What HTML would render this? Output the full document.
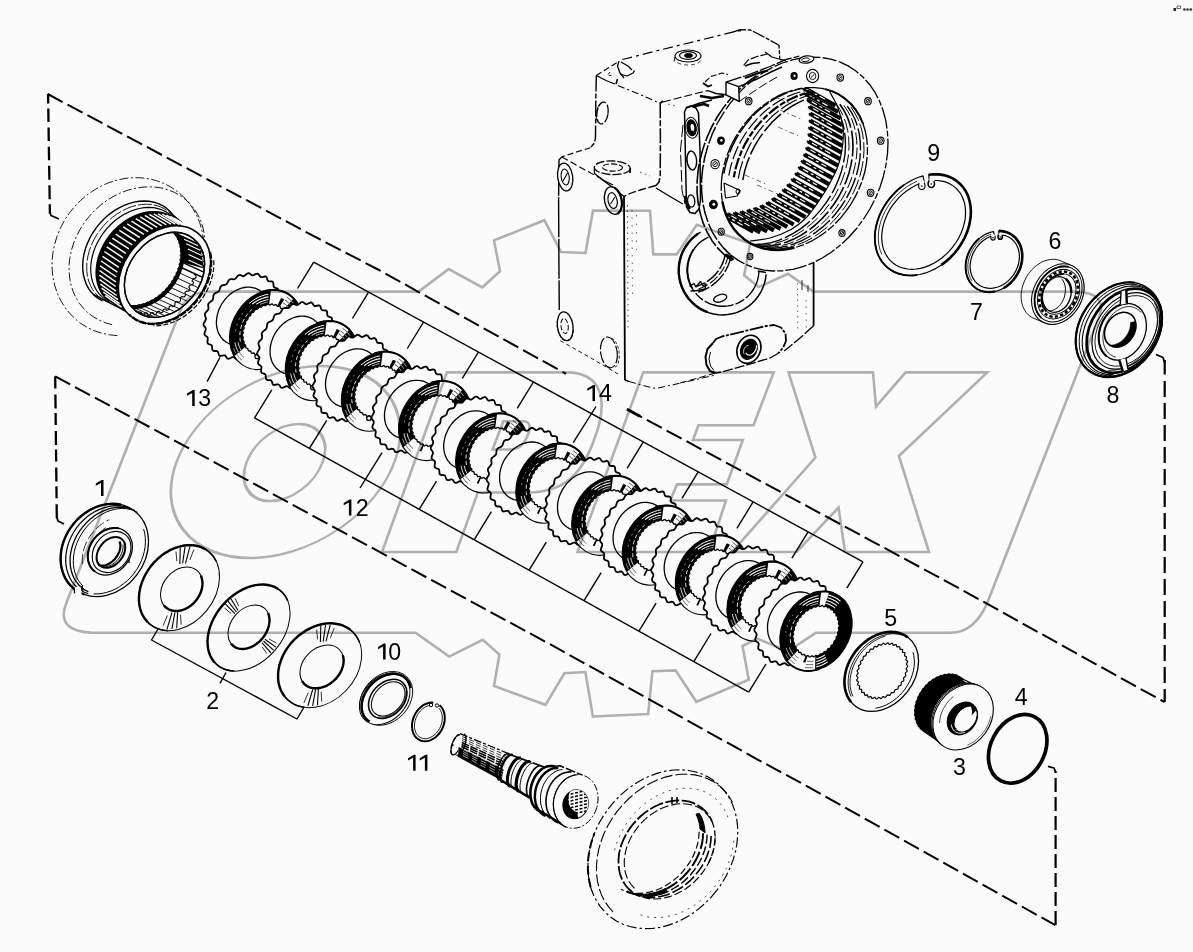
<!DOCTYPE html>
<html><head><meta charset="utf-8"><title>diagram</title>
<style>
html,body{margin:0;padding:0;background:#fbfbfb;}
body{width:1193px;height:952px;overflow:hidden;font-family:"Liberation Sans",sans-serif;}
svg{display:block;}
svg text{font-family:"Liberation Sans",sans-serif;}
.wm{mix-blend-mode:multiply;}
</style></head><body>
<svg width="1193" height="952" viewBox="0 0 1193 952" stroke-linecap="butt" stroke-linejoin="round">
<rect x="0" y="0" width="1193" height="952" fill="#fbfbfb"/>
<g id="drawing">
<path d="M48.1,94 L48.9,150 L49.9,213.5" fill="none" stroke="#000" stroke-width="2.3" stroke-dasharray="9.5 5 13.5 5.6 13.5 5.6 13.5 5.6 14 5.4 14 5 14 0"/>
<path d="M49.7,212 L51,215.5 L59,219" fill="none" stroke="#000" stroke-width="1.8"/>
<path d="M47.7,94 L320,239.4 L380,270.5 L497.4,335.9 L566,373.8" fill="none" stroke="#000" stroke-width="2" stroke-dasharray="17 5.5"/>
<path d="M627,409.2 L793,498.6 L961,589.3 L1140,688.7 L1164.6,702" fill="none" stroke="#000" stroke-width="2" stroke-dasharray="17 5.5"/>
<line x1="627" y1="409.2" x2="640" y2="416.3" fill="none" stroke="#000" stroke-width="3"/>
<line x1="1164.7" y1="360" x2="1164.7" y2="702" fill="none" stroke="#000" stroke-width="2.2" stroke-dasharray="14.5 6.4 16 6 16 6 16 6 16 6 16 6 16 6 16 6 16 6 16 6 16 6 16 6 16 6 16 6 16 6 30 0"/>
<path d="M1156,354.5 L1163,357.5 L1164.8,363" fill="none" stroke="#000" stroke-width="1.8"/>
<path d="M55.2,376.4 L56.8,518" fill="none" stroke="#000" stroke-width="2.3" stroke-dasharray="12 6 14 4.6"/>
<path d="M56.8,517 L58,521 L64,524" fill="none" stroke="#000" stroke-width="1.8"/>
<path d="M55.2,376.4 L153.4,429.1 L348.3,535 L550,644.2 L757.2,759.3 L800,782.4 L1055.3,925.2" fill="none" stroke="#000" stroke-width="2" stroke-dasharray="17 5.5"/>
<line x1="1055.6" y1="925" x2="1055.6" y2="771" fill="none" stroke="#000" stroke-width="2.2" stroke-dasharray="14 5"/>
<path d="M1048,766.3 L1054,768 L1055.6,772" fill="none" stroke="#000" stroke-width="1.8"/>
<line x1="313.7" y1="262.1" x2="863" y2="561.8" fill="none" stroke="#000" stroke-width="1.4"/>
<line x1="313.7" y1="262.1" x2="297.5" y2="288.5" fill="none" stroke="#000" stroke-width="1.4"/>
<line x1="368.6" y1="292.1" x2="352.4" y2="318.5" fill="none" stroke="#000" stroke-width="1.4"/>
<line x1="423.6" y1="322" x2="407.3" y2="348.5" fill="none" stroke="#000" stroke-width="1.4"/>
<line x1="478.5" y1="352" x2="462.3" y2="378.4" fill="none" stroke="#000" stroke-width="1.4"/>
<line x1="533.4" y1="382" x2="517.2" y2="408.4" fill="none" stroke="#000" stroke-width="1.4"/>
<line x1="643.3" y1="441.9" x2="627.1" y2="468.3" fill="none" stroke="#000" stroke-width="1.4"/>
<line x1="698.2" y1="471.9" x2="682" y2="498.3" fill="none" stroke="#000" stroke-width="1.4"/>
<line x1="753.1" y1="501.9" x2="736.9" y2="528.3" fill="none" stroke="#000" stroke-width="1.4"/>
<line x1="808.1" y1="531.8" x2="791.9" y2="558.2" fill="none" stroke="#000" stroke-width="1.4"/>
<line x1="863" y1="561.8" x2="846.8" y2="588.2" fill="none" stroke="#000" stroke-width="1.4"/>
<line x1="254.5" y1="417.9" x2="748.7" y2="692.1" fill="none" stroke="#000" stroke-width="1.4"/>
<line x1="254.5" y1="417.9" x2="271.8" y2="389.8" fill="none" stroke="#000" stroke-width="1.4"/>
<line x1="309.4" y1="448.4" x2="326.7" y2="420.3" fill="none" stroke="#000" stroke-width="1.4"/>
<line x1="419.2" y1="509.3" x2="436.5" y2="481.2" fill="none" stroke="#000" stroke-width="1.4"/>
<line x1="474.1" y1="539.8" x2="491.4" y2="511.7" fill="none" stroke="#000" stroke-width="1.4"/>
<line x1="529.1" y1="570.2" x2="546.3" y2="542.1" fill="none" stroke="#000" stroke-width="1.4"/>
<line x1="584" y1="600.7" x2="601.2" y2="572.6" fill="none" stroke="#000" stroke-width="1.4"/>
<line x1="638.9" y1="631.2" x2="656.1" y2="603.1" fill="none" stroke="#000" stroke-width="1.4"/>
<line x1="693.8" y1="661.6" x2="711" y2="633.5" fill="none" stroke="#000" stroke-width="1.4"/>
<line x1="748.7" y1="692.1" x2="766" y2="664" fill="none" stroke="#000" stroke-width="1.4"/>
<line x1="219.9" y1="357.5" x2="207.1" y2="381.7" fill="none" stroke="#000" stroke-width="1.4"/>
<line x1="382" y1="452.6" x2="360" y2="488" fill="none" stroke="#000" stroke-width="1.4"/>
<line x1="596" y1="406.5" x2="573.2" y2="442.7" fill="none" stroke="#000" stroke-width="1.4"/>
<line x1="226" y1="672.5" x2="220" y2="683.4" fill="none" stroke="#000" stroke-width="1.4"/>
<path d="M158,629 L151.5,640 L297,719 L303.5,708" fill="none" stroke="#000" stroke-width="1.4"/>
<path d="M117.4,335.6 L109.5,334.8 L101.8,333.2 L94.4,330.8 L87.4,327.5 L80.8,323.4 L74.8,318.6 L69.4,313 L64.6,306.9 L60.5,300.2 L57.2,293 L54.7,285.3 L53,277.4 L52.1,269.2 L52.1,260.9 L52.9,252.6 L54.6,244.3 L57.1,236.1 L60.4,228.1 L64.4,220.5 L69.2,213.3 L74.6,206.6 L80.6,200.4 L87.2,194.8 L94.2,190 L101.5,185.9 L109.2,182.5 L117.1,180.1 L125.1,178.4 L133.1,177.7 L141.1,177.8 L149,178.8 L156.6,180.7 L163.8,183.4 L170.7,186.9 L177.1,191.3 L183,196.3 L188.2,202 L192.8,208.4 L196.6,215.3 L199.7,222.6 L201.9,230.3 L203.4,238.4 L204,246.6 L203.7,254.9 L202.6,263.3 L200.7,271.5 L197.9,279.6" fill="none" stroke="#000" stroke-width="0.9" stroke-dasharray="9 2.5 2 2.5"/>
<path d="M112.1,324.7 L105.6,322.9 L99.5,320.4 L93.8,317.1 L88.5,313.3 L83.8,308.8 L79.7,303.7 L76.2,298.1 L73.3,292 L71.2,285.6 L69.8,278.8 L69.1,271.8 L69.1,264.6 L69.9,257.4 L71.5,250.1 L73.7,242.9 L76.7,235.8 L80.3,229 L84.5,222.4 L89.3,216.3 L94.6,210.5 L100.4,205.3 L106.6,200.7 L113.1,196.6 L119.9,193.2 L126.9,190.5 L134,188.5 L141.1,187.3 L148.2,186.8 L155.1,187.1 L161.9,188.1 L168.4,189.9 L174.5,192.4 L180.2,195.7 L185.5,199.5 L190.2,204 L194.3,209.1 L197.8,214.7 L200.7,220.8 L202.8,227.2 L204.2,234 L204.9,241 L204.9,248.2 L204.1,255.4 L202.5,262.7 L200.3,269.9" fill="none" stroke="#000" stroke-width="0.9" stroke-dasharray="9 2.5 2 2.5"/>
<path d="M102.5,300.9 L98.5,298.7 L94.8,295.9 L91.6,292.6 L88.8,288.8 L86.5,284.7 L84.8,280.1 L83.5,275.3 L82.8,270.2 L82.7,265 L83.1,259.5 L84,254 L85.5,248.5 L87.5,243.1 L90,237.7 L93,232.5 L96.4,227.6 L100.2,222.9 L104.4,218.6 L108.9,214.6 L113.6,211.1 L118.6,208.1 L123.6,205.6 L128.8,203.6 L134,202.1 L139.2,201.3 L144.3,201 L149.2,201.3 L154,202.2 L158.4,203.7 L162.6,205.7 L166.5,208.2 L169.9,211.3 L172.9,214.8 L175.4,218.8 L177.4,223.1 L178.9,227.8 L179.9,232.8 L180.3,238" fill="none" stroke="#000" stroke-width="1.4"/>
<path d="M106,301.3 L102.1,299.1 L98.5,296.4 L95.4,293.2 L92.7,289.6 L90.5,285.5 L88.7,281.1 L87.5,276.4 L86.8,271.5 L86.7,266.4 L87.1,261.1 L88,255.8 L89.4,250.4 L91.4,245.1 L93.8,239.9 L96.7,234.9 L100.1,230.1 L103.8,225.5 L107.8,221.3 L112.2,217.5 L116.8,214.1 L121.6,211.1 L126.5,208.7 L131.5,206.7 L136.6,205.3 L141.6,204.5 L146.6,204.2 L151.4,204.5 L156,205.4 L160.3,206.8 L164.4,208.8 L168.1,211.3 L171.4,214.2 L174.4,217.7 L176.8,221.5 L178.8,225.7 L180.2,230.3 L181.2,235.1 L181.6,240.1" fill="none" stroke="#000" stroke-width="0.9" stroke-dasharray="14 2"/>
<path d="M109.4,301.7 L105.6,299.6 L102.2,296.9 L99.1,293.8 L96.5,290.3 L94.4,286.4 L92.7,282.1 L91.5,277.6 L90.9,272.8 L90.7,267.8 L91.1,262.7 L92,257.5 L93.4,252.3 L95.3,247.1 L97.7,242.1 L100.5,237.2 L103.7,232.5 L107.3,228.1 L111.2,224 L115.4,220.3 L119.9,217 L124.6,214.1 L129.4,211.8 L134.2,209.9 L139.2,208.5 L144,207.7 L148.8,207.4 L153.5,207.7 L158,208.6 L162.2,210 L166.1,211.9 L169.8,214.3 L173,217.2 L175.8,220.5 L178.2,224.2 L180.1,228.3 L181.5,232.7 L182.5,237.4 L182.8,242.3" fill="none" stroke="#000" stroke-width="1.2"/>
<line x1="173.1" y1="215.1" x2="206.7" y2="244.3" fill="none" stroke="#000" stroke-width="1.4"/>
<line x1="93.3" y1="294.4" x2="126.1" y2="311.4" fill="none" stroke="#000" stroke-width="1.6"/>
<path d="M105,298.5 L102.2,295.2 L99.9,291.5 L98.1,287.5 L96.7,283.1 L95.8,278.5 L95.4,273.7 L95.6,268.7 L96.2,263.7 L97.3,258.5 L98.9,253.5 L101,248.4 L103.5,243.5 L106.4,238.8 L109.7,234.3 L113.4,230.1 L117.4,226.2 L121.6,222.7 L126.1,219.6 L130.7,216.9 L135.4,214.7 L140.2,213 L145.1,211.8 L149.8,211.1 L154.5,210.9 L159.1,211.3 L163.4,212.3 L167.6,213.7 L171.4,215.6 L174.9,218.1 L178,221 L180.8,224.3 L183.1,228 L184.9,232 L186.3,236.4 L209.3,251.4 L207.9,247 L206.1,243 L203.8,239.3 L201,236 L197.9,233.1 L194.4,230.6 L190.6,228.7 L186.4,227.3 L182.1,226.3 L177.5,225.9 L172.8,226.1 L168.1,226.8 L163.2,228 L158.4,229.7 L153.7,231.9 L149.1,234.6 L144.6,237.7 L140.4,241.2 L136.4,245.1 L132.7,249.3 L129.4,253.8 L126.5,258.5 L124,263.4 L121.9,268.5 L120.3,273.5 L119.2,278.7 L118.6,283.7 L118.4,288.7 L118.8,293.5 L119.7,298.1 L121.1,302.5 L122.9,306.5 L125.2,310.2 L128,313.5 Z" fill="#000" stroke="none" stroke-width="0"/>
<line x1="105.2" y1="295.6" x2="121.7" y2="307.2" fill="none" stroke="#fbfbfb" stroke-width="1.5"/>
<line x1="103.2" y1="292" x2="119.6" y2="303.6" fill="none" stroke="#fbfbfb" stroke-width="1.5"/>
<line x1="101.6" y1="288.2" x2="118" y2="299.7" fill="none" stroke="#fbfbfb" stroke-width="1.5"/>
<line x1="100.4" y1="284.1" x2="116.7" y2="295.5" fill="none" stroke="#fbfbfb" stroke-width="1.5"/>
<line x1="99.6" y1="279.7" x2="116" y2="291.1" fill="none" stroke="#fbfbfb" stroke-width="1.5"/>
<line x1="99.3" y1="275.2" x2="115.7" y2="286.5" fill="none" stroke="#fbfbfb" stroke-width="1.5"/>
<line x1="99.5" y1="270.5" x2="115.8" y2="281.8" fill="none" stroke="#fbfbfb" stroke-width="1.5"/>
<line x1="100.1" y1="265.8" x2="116.4" y2="277" fill="none" stroke="#fbfbfb" stroke-width="1.5"/>
<line x1="101.1" y1="261" x2="117.4" y2="272.1" fill="none" stroke="#fbfbfb" stroke-width="1.5"/>
<line x1="102.5" y1="256.3" x2="118.9" y2="267.3" fill="none" stroke="#fbfbfb" stroke-width="1.5"/>
<line x1="104.4" y1="251.5" x2="120.8" y2="262.5" fill="none" stroke="#fbfbfb" stroke-width="1.5"/>
<line x1="106.7" y1="246.9" x2="123.1" y2="257.8" fill="none" stroke="#fbfbfb" stroke-width="1.5"/>
<line x1="109.3" y1="242.5" x2="125.8" y2="253.3" fill="none" stroke="#fbfbfb" stroke-width="1.5"/>
<line x1="112.3" y1="238.2" x2="128.9" y2="248.9" fill="none" stroke="#fbfbfb" stroke-width="1.5"/>
<line x1="115.7" y1="234.1" x2="132.2" y2="244.8" fill="none" stroke="#fbfbfb" stroke-width="1.5"/>
<line x1="119.3" y1="230.4" x2="135.9" y2="241" fill="none" stroke="#fbfbfb" stroke-width="1.5"/>
<line x1="123.1" y1="226.9" x2="139.8" y2="237.5" fill="none" stroke="#fbfbfb" stroke-width="1.5"/>
<line x1="127.2" y1="223.8" x2="143.9" y2="234.3" fill="none" stroke="#fbfbfb" stroke-width="1.5"/>
<line x1="131.4" y1="221.1" x2="148.2" y2="231.6" fill="none" stroke="#fbfbfb" stroke-width="1.5"/>
<line x1="135.8" y1="218.7" x2="152.7" y2="229.2" fill="none" stroke="#fbfbfb" stroke-width="1.5"/>
<line x1="140.3" y1="216.8" x2="157.2" y2="227.3" fill="none" stroke="#fbfbfb" stroke-width="1.5"/>
<line x1="144.8" y1="215.4" x2="161.8" y2="225.8" fill="none" stroke="#fbfbfb" stroke-width="1.5"/>
<line x1="149.3" y1="214.4" x2="166.4" y2="224.8" fill="none" stroke="#fbfbfb" stroke-width="1.5"/>
<line x1="153.7" y1="213.8" x2="170.9" y2="224.2" fill="none" stroke="#fbfbfb" stroke-width="1.5"/>
<line x1="158.1" y1="213.8" x2="175.3" y2="224.2" fill="none" stroke="#fbfbfb" stroke-width="1.5"/>
<line x1="162.3" y1="214.2" x2="179.6" y2="224.6" fill="none" stroke="#fbfbfb" stroke-width="1.5"/>
<line x1="166.4" y1="215.1" x2="183.8" y2="225.5" fill="none" stroke="#fbfbfb" stroke-width="1.5"/>
<line x1="170.3" y1="216.4" x2="187.7" y2="226.8" fill="none" stroke="#fbfbfb" stroke-width="1.5"/>
<line x1="173.9" y1="218.2" x2="191.3" y2="228.7" fill="none" stroke="#fbfbfb" stroke-width="1.5"/>
<line x1="177.2" y1="220.5" x2="194.7" y2="230.9" fill="none" stroke="#fbfbfb" stroke-width="1.5"/>
<line x1="180.2" y1="223.1" x2="197.7" y2="233.6" fill="none" stroke="#fbfbfb" stroke-width="1.5"/>
<line x1="182.8" y1="226.1" x2="200.4" y2="236.7" fill="none" stroke="#fbfbfb" stroke-width="1.5"/>
<line x1="185.1" y1="229.5" x2="202.7" y2="240.1" fill="none" stroke="#fbfbfb" stroke-width="1.5"/>
<line x1="186.9" y1="233.2" x2="204.6" y2="243.8" fill="none" stroke="#fbfbfb" stroke-width="1.5"/>
<ellipse cx="164.5" cy="274.8" rx="40.7" ry="53.4" transform="rotate(38.7 164.5 274.8)" fill="#fbfbfb" stroke="#000" stroke-width="1.5"/>
<ellipse cx="164.5" cy="274.8" rx="35.6" ry="46.3" transform="rotate(38.7 164.5 274.8)" fill="#fbfbfb" stroke="#000" stroke-width="1.3"/>
<path d="M209.9,251.8 L210.8,256.5 L211.2,261.5 L211,266.7 L210.3,271.9 L209.1,277.2 L207.3,282.5 L205.1,287.6 L202.4,292.7 L199.2,297.5 L195.7,302 L191.8,306.3 L187.6,310.2 L183.1,313.6 L178.4,316.7 L173.6,319.2 L168.6,321.2 L163.6,322.7 L158.7,323.6 L153.8,324 L149,323.8 L144.4,323 L140.1,321.6 L136.1,319.8 L132.4,317.3 L129.1,314.4" fill="none" stroke="#000" stroke-width="2.4" stroke-dasharray="7 1.5"/>
<path d="M213.8,260.2 L213.9,265.4 L213.4,270.6 L212.4,275.9 L210.9,281.3 L208.9,286.5 L206.4,291.7 L203.4,296.6 L200.1,301.3 L196.3,305.8 L192.2,309.9 L187.9,313.6 L183.3,316.9 L178.4,319.7 L173.5,322 L168.5,323.8 L163.5,325 L158.5,325.7 L153.6,325.9" fill="none" stroke="#000" stroke-width="1.2" stroke-dasharray="5 2"/>
<clipPath id="c13"><ellipse cx="164.5" cy="274.8" rx="35" ry="45.7" transform="rotate(38.7 164.5 274.8)"/></clipPath>
<g clip-path="url(#c13)"><line x1="176.6" y1="234" x2="200.6" y2="245" fill="none" stroke="#000" stroke-width="1.5"/><line x1="179" y1="237.9" x2="203" y2="248.9" fill="none" stroke="#000" stroke-width="1.5"/><line x1="180.7" y1="242.2" x2="204.7" y2="253.2" fill="none" stroke="#000" stroke-width="1.5"/><line x1="182" y1="246.8" x2="206" y2="257.8" fill="none" stroke="#000" stroke-width="1.5"/><line x1="182.6" y1="251.7" x2="206.6" y2="262.7" fill="none" stroke="#000" stroke-width="1.5"/><line x1="182.5" y1="256.8" x2="206.5" y2="267.8" fill="none" stroke="#000" stroke-width="1.5"/><line x1="181.9" y1="262.1" x2="205.9" y2="273.1" fill="none" stroke="#000" stroke-width="1.5"/><line x1="180.7" y1="267.3" x2="204.7" y2="278.3" fill="none" stroke="#000" stroke-width="1.5"/><line x1="178.8" y1="272.6" x2="202.8" y2="283.6" fill="none" stroke="#000" stroke-width="0.9"/><line x1="176.4" y1="277.7" x2="200.4" y2="288.7" fill="none" stroke="#000" stroke-width="0.9"/><line x1="173.5" y1="282.6" x2="197.5" y2="293.6" fill="none" stroke="#000" stroke-width="0.9"/><line x1="170.1" y1="287.2" x2="194.1" y2="298.2" fill="none" stroke="#000" stroke-width="0.9"/><line x1="166.3" y1="291.5" x2="190.3" y2="302.5" fill="none" stroke="#000" stroke-width="0.9"/><line x1="162.1" y1="295.4" x2="186.1" y2="306.4" fill="none" stroke="#000" stroke-width="0.9"/><line x1="157.6" y1="298.8" x2="181.6" y2="309.8" fill="none" stroke="#000" stroke-width="0.9"/><line x1="152.9" y1="301.7" x2="176.9" y2="312.7" fill="none" stroke="#000" stroke-width="0.9"/><line x1="148" y1="304" x2="172" y2="315" fill="none" stroke="#000" stroke-width="0.9"/><line x1="143" y1="305.7" x2="167" y2="316.7" fill="none" stroke="#000" stroke-width="0.9"/><line x1="138.1" y1="306.8" x2="162.1" y2="317.8" fill="none" stroke="#000" stroke-width="0.9"/><line x1="133.2" y1="307.2" x2="157.2" y2="318.2" fill="none" stroke="#000" stroke-width="0.9"/><line x1="128.4" y1="307" x2="152.4" y2="318" fill="none" stroke="#000" stroke-width="0.9"/><line x1="123.9" y1="306.1" x2="147.9" y2="317.1" fill="none" stroke="#000" stroke-width="0.9"/><line x1="119.6" y1="304.6" x2="143.6" y2="315.6" fill="none" stroke="#000" stroke-width="0.9"/><line x1="115.7" y1="302.4" x2="139.7" y2="313.4" fill="none" stroke="#000" stroke-width="0.9"/><line x1="112.2" y1="299.7" x2="136.2" y2="310.7" fill="none" stroke="#000" stroke-width="0.9"/><line x1="109.2" y1="296.5" x2="133.2" y2="307.5" fill="none" stroke="#000" stroke-width="0.9"/><path d="M175.8,233 L178.1,236.4 L180,240.1 L181.3,244.1 L182.2,248.4 L182.6,252.9 L182.5,257.5 L181.9,262.3 L204.4,268.6 L199.7,245.6 Z" fill="#000" stroke="none" stroke-width="0"/><line x1="184" y1="239.2" x2="198" y2="245.7" fill="none" stroke="#fbfbfb" stroke-width="1.1"/><line x1="186.2" y1="243.8" x2="200.2" y2="250.3" fill="none" stroke="#fbfbfb" stroke-width="1.1"/><line x1="187.8" y1="248.9" x2="201.8" y2="255.4" fill="none" stroke="#fbfbfb" stroke-width="1.1"/><line x1="188.5" y1="254.4" x2="202.5" y2="260.9" fill="none" stroke="#fbfbfb" stroke-width="1.1"/><line x1="188.5" y1="260.1" x2="202.5" y2="266.6" fill="none" stroke="#fbfbfb" stroke-width="1.1"/><path d="M194.9,272.9 L194.7,273.7 L194.4,274.5 L196,275.5 L196.2,276.4 L195.9,277.3 L195.6,278.1 L193.5,278.6 L192.7,279.4 L192.4,280.2 L192,280.9 L193.4,282.2 L193.4,283.2 L193,284 L192.6,284.8 L190.5,285 L189.7,285.6 L189.2,286.4 L188.8,287.1 L189.9,288.7 L189.7,289.7 L189.2,290.4 L188.7,291.2 L186.7,291 L185.9,291.5 L185.3,292.2 L184.8,292.9 L185.6,294.7 L185.3,295.7 L184.7,296.4 L184.1,297.1 L182.2,296.5 L181.3,296.9 L180.7,297.6 L180.1,298.2 L180.6,300.2 L180.2,301.1 L179.5,301.8 L178.8,302.4 L177,301.4 L176.2,301.7 L175.5,302.3 L174.9,302.9 L175,305 L174.5,305.8 L173.7,306.4 L172.9,306.8 L171.5,305.6 L170.6,305.8 L169.9,306.2 L169.2,306.7 L169,309 L168.3,309.7 L167.5,310.1 L166.7,310.4 L165.5,308.9 L164.7,309 L164,309.3 L163.2,309.8 L162.7,312.1 L161.9,312.6 L161.1,312.9 L160.3,313.1 L159.4,311.3 L158.6,311.3 L157.9,311.5 L157.1,311.9 L156.3,314.1 L155.4,314.6 L154.6,314.7 L153.8,314.7 L153.3,312.7 L152.5,312.6 L151.8,312.7 L151,313 L149.8,315.2 L149,315.4 L148.2,315.4 L147.5,315.3 L147.2,313.1 L146.5,312.9 L145.8,312.9 L145,313 L143.6,315.1 L142.8,315.2 L142,315.1 L141.4,314.7 L141.4,312.5 L140.8,312.2 L140.1,312 L139.3,312.1 L137.7,314 L136.9,313.9 L136.2,313.7 L135.6,313.1 L136.1,310.8 L135.5,310.5 L134.9,310.2 L134.1,310.2 L132.2,311.8 L131.5,311.6 L130.9,311.2 L130.5,310.5" fill="none" stroke="#000" stroke-width="1.1"/><path d="M172.4,229.4 L175.1,232.1 L177.4,235.1 L179.3,238.5 L180.8,242.2 L181.8,246.1 L182.4,250.2 L182.6,254.5 L182.4,259 L181.6,263.4 L180.5,267.9 L178.9,272.4 L176.9,276.7 L174.5,281 L171.8,285 L168.7,288.8 L165.4,292.4 L161.8,295.7 L158,298.6 L154,301.1 L149.8,303.2 L145.6,304.9 L141.4,306.1 L137.2,306.9 L133,307.2 L128.9,307 L125,306.4 L121.3,305.3 L117.8,303.7 L114.6,301.7 L111.7,299.3 L109.2,296.5" fill="none" stroke="#000" stroke-width="4.2"/><path d="M171.6,230.5 L172.3,230.4 L173.1,230.2 L173.7,230.3 L174,230.7 L173.9,231.5 L173.7,232.3 L173.7,233 L174,233.3 L174.7,233.3 L175.5,233.2 L176.1,233.3 L176.3,233.8 L176.1,234.5 L175.9,235.4 L175.8,236 L176.1,236.4 L176.8,236.5 L177.5,236.5 L178.1,236.7 L178.2,237.2 L178,237.9 L177.6,238.7 L177.5,239.4 L177.8,239.8 L178.4,240 L179.1,240.1 L179.7,240.3 L179.8,240.8 L179.5,241.6 L179,242.4 L178.8,243.1 L179,243.5 L179.6,243.7 L180.3,243.9 L180.8,244.2 L180.9,244.8 L180.5,245.5 L180,246.3 L179.7,246.9 L179.9,247.4 L180.4,247.7 L181.1,248 L181.5,248.4 L181.5,248.9 L181.1,249.6 L180.5,250.4 L180.2,251 L180.3,251.5 L180.8,251.9 L181.4,252.2 L181.8,252.7 L181.7,253.2 L181.2,253.9 L180.6,254.6 L180.2,255.2 L180.3,255.7 L180.7,256.2 L181.3,256.6 L181.6,257.1 L181.5,257.7 L180.9,258.3 L180.3,258.9 L179.8,259.5 L179.8,260 L180.2,260.6 L180.7,261.1 L181,261.6 L180.8,262.2 L180.2,262.7 L179.5,263.3 L179,263.9 L179,264.4 L179.3,265 L179.7,265.5 L179.9,266.1 L179.7,266.7 L179.1,267.2 L178.3,267.7 L177.8,268.2 L177.7,268.8 L177.9,269.4 L178.3,270 L178.4,270.6 L178.1,271.2 L177.5,271.6 L176.7,272.1 L176.1,272.5 L176,273.1 L176.2,273.7 L176.5,274.4 L176.5,275.1 L176.2,275.6 L175.5,276 L174.7,276.3 L174.1,276.7 L173.9,277.3 L174,278 L174.2,278.7 L174.2,279.4 L173.8,279.9 L173.1,280.2 L172.3,280.5 L171.7,280.8 L171.5,281.3 L171.5,282 L171.6,282.8 L171.6,283.5 L171.2,284 L170.4,284.2 L169.6,284.4 L169,284.7 L168.7,285.2 L168.7,285.9 L168.7,286.7 L168.6,287.4 L168.1,287.9 L167.4,288 L166.6,288.1 L166,288.3 L165.6,288.8 L165.5,289.6 L165.5,290.4 L165.3,291.1 L164.8,291.5 L164.1,291.6 L163.3,291.6 L162.7,291.7 L162.3,292.2 L162.1,292.9 L162,293.8 L161.7,294.5 L161.2,294.8 L160.5,294.8 L159.7,294.7 L159.1,294.8 L158.7,295.2 L158.4,296 L158.2,296.8 L157.9,297.5 L157.4,297.8 L156.7,297.7 L156,297.6 L155.4,297.6 L154.9,298 L154.6,298.7 L154.3,299.5 L153.9,300.2 L153.4,300.4 L152.7,300.3 L152.1,300 L151.5,300 L151,300.3 L150.6,301 L150.2,301.8 L149.8,302.5 L149.3,302.6 L148.6,302.4 L148,302.1 L147.4,301.9 L146.9,302.2 L146.5,302.9 L146.1,303.7 L145.6,304.3 L145,304.4 L144.5,304.1 L143.9,303.7 L143.4,303.5 L142.8,303.8 L142.3,304.4 L141.8,305.2 L141.3,305.7 L140.8,305.8 L140.2,305.4 L139.7,304.9 L139.2,304.6 L138.7,304.8 L138.2,305.4 L137.6,306.2 L137,306.7 L136.5,306.7 L136,306.2 L135.6,305.7 L135.1,305.3 L134.6,305.5 L134,306 L133.4,306.7 L132.8,307.1 L132.3,307.1 L131.9,306.6 L131.5,306 L131.1,305.6 L130.6,305.7 L129.9,306.2 L129.3,306.8 L128.7,307.2 L128.2,307 L127.8,306.5 L127.5,305.8 L127.2,305.4 L126.7,305.4 L126,305.8 L125.3,306.4 L124.6,306.7 L124.2,306.5 L123.9,305.9 L123.7,305.2 L123.4,304.7 L122.9,304.6 L122.2,305 L121.5,305.5 L120.8,305.8 L120.4,305.5 L120.2,304.9 L120,304.1 L119.8,303.6 L119.3,303.5 L118.6,303.8 L117.8,304.2 L117.2,304.4 L116.8,304.1 L116.7,303.4 L116.6,302.6 L116.4,302 L116,301.9 L115.3,302.1 L114.5,302.4 L113.8,302.5 L113.5,302.2 L113.4,301.5 L113.5,300.6 L113.4,300 L112.9,299.8 L112.2,300 L111.4,300.2 L110.8,300.3 L110.5,299.9 L110.5,299.2 L110.6,298.3 L110.6,297.7 L110.2,297.4 L109.5,297.5 L108.7,297.7 L108.1,297.6 L107.8,297.2" fill="none" stroke="#000" stroke-width="1.0"/></g>
<ellipse cx="164.5" cy="274.8" rx="35.6" ry="46.3" transform="rotate(38.7 164.5 274.8)" fill="none" stroke="#000" stroke-width="1.3"/>
<path d="M272.3,335.4 L272.2,336.9 L271.6,338.2 L270.6,339.1 L269.2,339.8 L267.9,340.3 L266.8,341.1 L266.1,342.3 L265.7,343.8 L265.2,345.3 L264.4,346.5 L263.2,347.1 L261.8,347.4 L260.4,347.6 L259.3,348.1 L258.4,349.2 L257.7,350.6 L256.9,352 L255.9,353 L254.7,353.3 L253.3,353.2 L252,353.1 L250.8,353.3 L249.8,354.1 L248.8,355.4 L247.8,356.6 L246.6,357.3 L245.4,357.4 L244.2,356.9 L243.1,356.4 L241.9,356.3 L240.8,356.9 L239.6,357.9 L238.4,358.9 L237.1,359.3 L236,359 L235,358.2 L234.1,357.4 L233.1,357 L231.9,357.3 L230.6,358 L229.2,358.6 L228,358.8 L227,358.2 L226.3,357.1 L225.6,356 L224.8,355.3 L223.6,355.3 L222.2,355.6 L220.9,356 L219.7,355.8 L218.9,354.9 L218.5,353.6 L218.1,352.3 L217.5,351.4 L216.5,351 L215.1,351 L213.8,351 L212.8,350.5 L212.3,349.4 L212.1,347.9 L212.1,346.5 L211.7,345.4 L210.8,344.7 L209.6,344.4 L208.4,344 L207.6,343.2 L207.3,341.9 L207.6,340.4 L207.8,338.9 L207.7,337.7 L207.1,336.8 L206,336.1 L205,335.3 L204.4,334.3 L204.5,333 L205,331.5 L205.6,330 L205.8,328.7 L205.4,327.6 L204.6,326.6 L203.8,325.6 L203.5,324.4 L203.8,323 L204.7,321.7 L205.5,320.3 L206,319 L205.9,317.8 L205.3,316.6 L204.9,315.3 L204.9,314 L205.5,312.7 L206.6,311.5 L207.7,310.4 L208.4,309.2 L208.5,307.9 L208.3,306.5 L208.1,305.1 L208.4,303.7 L209.3,302.6 L210.5,301.7 L211.8,300.8 L212.7,299.8 L213.1,298.5 L213.3,297 L213.4,295.5 L214,294.2 L215,293.3 L216.4,292.6 L217.7,292.1 L218.8,291.3 L219.5,290.1 L219.9,288.6 L220.4,287.1 L221.2,285.9 L222.4,285.3 L223.8,285 L225.2,284.8 L226.3,284.3 L227.2,283.2 L227.9,281.8 L228.7,280.4 L229.7,279.4 L230.9,279.1 L232.3,279.2 L233.6,279.3 L234.8,279.1 L235.8,278.3 L236.8,277 L237.8,275.8 L239,275.1 L240.2,275 L241.4,275.5 L242.5,276 L243.7,276.1 L244.8,275.5 L246,274.5 L247.2,273.5 L248.5,273.1 L249.6,273.4 L250.6,274.2 L251.5,275 L252.5,275.4 L253.7,275.1 L255,274.4 L256.4,273.8 L257.6,273.6 L258.6,274.2 L259.3,275.3 L260,276.4 L260.8,277.1 L262,277.1 L263.4,276.8 L264.7,276.4 L265.9,276.6 L266.7,277.5 L267.1,278.8 L267.5,280.1 L268.1,281 L269.1,281.4 L270.5,281.4 L271.8,281.4 L272.8,281.9 L273.3,283 L273.5,284.5 L273.5,285.9 L273.9,287 L274.8,287.7 L276,288 L277.2,288.4 L278,289.2 L278.3,290.5 L278,292 L277.8,293.5 L277.9,294.7 L278.5,295.6 L279.6,296.3 L280.6,297.1 L281.2,298.1 L281.1,299.4 L280.6,300.9 L280,302.4 L279.8,303.7 L280.2,304.8 L281,305.8 L281.8,306.8 L282.1,308 L281.8,309.4 L280.9,310.7 L280.1,312.1 L279.6,313.4 L279.7,314.6 L280.3,315.8 L280.7,317.1 L280.7,318.4 L280.1,319.7 L279,320.9 L277.9,322 L277.2,323.2 L277.1,324.5 L277.3,325.9 L277.5,327.3 L277.2,328.7 L276.3,329.8 L275.1,330.7 L273.8,331.6 L272.9,332.6 L272.5,333.9 L272.3,335.4 Z" fill="#fbfbfb" stroke="#000" stroke-width="1.8"/>
<path d="M238.5,345.2 L235.8,345.2 L233.2,344.8 L230.6,344.2 L228.3,343.3 L226,342 L224,340.5 L222.2,338.7 L220.6,336.7 L219.2,334.4 L218.1,331.9 L217.3,329.3 L216.7,326.5 L216.4,323.6 L216.5,320.7 L216.8,317.6 L217.4,314.6 L218.2,311.6 L219.4,308.6 L220.8,305.7 L222.4,303 L224.3,300.3 L226.3,297.9 L228.6,295.6 L231,293.6 L233.5,291.8 L236.2,290.3 L238.9,289.1 L241.6,288.2 L244.4,287.5 L247.1,287.2 L249.8,287.2 L252.4,287.6 L255,288.2 L257.3,289.1 L259.6,290.4 L261.6,291.9 L263.4,293.7 L265,295.7 L266.4,298 L267.5,300.5 L268.3,303.1 L268.9,305.9 L269.2,308.8 L269.1,311.7 L268.8,314.8" fill="none" stroke="#000" stroke-width="1.3"/>
<ellipse cx="265.7" cy="329.7" rx="33.3" ry="42.2" transform="rotate(33 265.7 329.7)" fill="#fbfbfb" stroke="#000" stroke-width="1.1"/>
<path d="M234.2,356.2 L232.5,352.9 L231.2,349.4 L230.2,345.6 L229.7,341.6 L229.5,337.5 L229.8,333.4 L230.4,329.1 L231.5,324.9 L233,320.7 L234.8,316.7 L237,312.8 L239.5,309 L242.3,305.5 L245.3,302.3 L248.6,299.4 L252.1,296.8 L255.7,294.7 L259.5,292.9 L263.3,291.5 L267.2,290.5 L271,290 L269.1,304.5 L266.6,304.8 L264.2,305.4 L261.8,306.3 L259.4,307.4 L257.1,308.8 L254.9,310.5 L252.8,312.3 L250.8,314.4 L249,316.6 L247.5,318.9 L246.1,321.4 L244.9,324 L244,326.7 L243.3,329.3 L242.9,332 L242.7,334.7 L242.8,337.3 L243.2,339.8 L243.8,342.2 L244.6,344.5 L245.7,346.5 Z" fill="#000" stroke="none" stroke-width="0"/>
<path d="M249.1,303.4 L252.1,301.1 L255.1,299.1 L258.3,297.3 L261.6,296 L264.9,294.9 L268.2,294.2" fill="none" stroke="#fbfbfb" stroke-width="1.0"/>
<path d="M252.3,304 L254.8,302.2 L257.5,300.6 L260.2,299.3 L263,298.2 L265.7,297.4 L268.5,296.9" fill="none" stroke="#fbfbfb" stroke-width="1.1"/>
<path d="M256,304.3 L258,303.1 L260,302.1 L262.1,301.3 L264.1,300.6 L266.2,300 L268.3,299.7" fill="none" stroke="#fbfbfb" stroke-width="1.0"/>
<path d="M260.2,304.4 L261.4,303.9 L262.7,303.4 L263.9,303 L265.1,302.6 L266.4,302.3 L267.7,302.1" fill="none" stroke="#fbfbfb" stroke-width="0.7"/>
<path d="M238.4,352.1 L237.6,350.6 L236.9,349.1 L236.3,347.5 L235.8,345.9 L235.3,344.2 L235,342.4" fill="none" stroke="#fbfbfb" stroke-width="0.9"/>
<path d="M240.9,350 L240.3,348.8 L239.7,347.6 L239.2,346.3 L238.7,345 L238.4,343.6 L238,342.2" fill="none" stroke="#fbfbfb" stroke-width="0.9"/>
<path d="M235.9,353.4 L235.4,352.6 L235,351.7 L234.6,350.8 L234.3,349.9 L233.9,349 L233.6,348.1" fill="none" stroke="#fbfbfb" stroke-width="0.6"/>
<path d="M240.4,341.6 L240,338.7 L239.8,335.7 L240,332.5 L240.5,329.4 L241.3,326.2 L242.4,323.1 L243.7,320.1 L245.4,317.2 L247.3,314.4 L249.4,311.9 L251.8,309.5" fill="none" stroke="#fbfbfb" stroke-width="0.9" stroke-dasharray="4 2.5"/>
<path d="M235.4,331.4 L236.1,327.4 L237.3,323.5 L238.9,319.7 L240.8,316 L243.1,312.5 L245.7,309.3" fill="none" stroke="#fbfbfb" stroke-width="0.5" stroke-dasharray="2 4"/>
<path d="M281.1,298 L281.6,298.2 L282.1,298.4 L282.7,298.6 L283.2,298.9 L283.7,299.2 L284.2,299.5 L279.7,306.8 L279.3,306.6 L278.9,306.4 L278.5,306.2 L278.1,306 L277.7,305.9 L277.3,305.7 Z" fill="#000" stroke="none" stroke-width="0"/>
<path d="M293.6,298.4 L294.8,299.8 L296,301.3 L297,302.9 L298,304.6 L298.8,306.3 L299.6,308.1 L287.2,316 L286.7,314.9 L286.2,313.7 L285.6,312.7 L284.9,311.7 L284.2,310.7 L283.4,309.8 Z" fill="#000" stroke="none" stroke-width="0"/>
<path d="M286.8,297.1 L287.9,297.9 L289,298.7 L290,299.6 L291,300.5 L291.9,301.5 L292.8,302.6" fill="none" stroke="#000" stroke-width="0.7"/>
<path d="M291.4,300.9 L291.9,301.5 L292.4,302.1 L293,302.8 L293.4,303.4 L293.9,304.1 L294.4,304.8" fill="none" stroke="#fbfbfb" stroke-width="0.7"/>
<path d="M285,300 L286,300.7 L287,301.4 L287.9,302.2 L288.8,303.1 L289.6,304 L290.4,304.9" fill="none" stroke="#000" stroke-width="0.7"/>
<path d="M289.1,303.4 L289.6,304 L290.1,304.5 L290.6,305.1 L291,305.7 L291.5,306.3 L291.9,307" fill="none" stroke="#fbfbfb" stroke-width="0.7"/>
<path d="M283.2,302.8 L284.1,303.4 L285,304.1 L285.8,304.8 L286.6,305.6 L287.4,306.4 L288.1,307.3" fill="none" stroke="#000" stroke-width="0.7"/>
<path d="M286.9,305.9 L287.4,306.4 L287.8,306.9 L288.2,307.5 L288.6,308 L289,308.6 L289.4,309.1" fill="none" stroke="#fbfbfb" stroke-width="0.7"/>
<path d="M262.2,291.8 L266.1,290.7 L270.1,290.1 L273.9,289.9 L277.7,290.2 L281.4,291 L284.8,292.2 L288.1,293.9 L291,296 L293.7,298.5 L296,301.4 L298,304.6 L299.6,308.1" fill="none" stroke="#000" stroke-width="2.0"/>
<path d="M242,360.3 L241,359.4 L240,358.5 L239.1,357.5 L238.3,356.4 L237.5,355.3 L236.7,354.1" fill="none" stroke="#000" stroke-width="0.6"/>
<path d="M244,357.7 L243.1,356.8 L242.3,356 L241.4,355 L240.7,354.1 L239.9,353.1 L239.3,352" fill="none" stroke="#000" stroke-width="0.6"/>
<path d="M283.5,341.2 L283.4,341.9 L283.1,342.5 L282.7,343 L282,343.3 L281.4,343.5 L280.9,343.9 L280.6,344.5 L280.5,345.2 L280.3,345.9 L279.9,346.4 L279.4,346.8 L278.8,346.9 L278.1,347.1 L277.6,347.4 L277.3,347.9 L277,348.6 L276.7,349.3 L276.3,349.8 L275.7,350 L275.1,350 L274.5,350.1 L273.9,350.2 L273.5,350.7 L273.1,351.3 L272.7,352 L272.2,352.4 L271.7,352.5 L271.1,352.4 L270.5,352.3 L269.9,352.4 L269.5,352.8 L269,353.4 L268.5,353.9 L268,354.3 L267.4,354.3 L266.9,354.1 L266.3,353.8 L265.8,353.8 L265.3,354.1 L264.8,354.6 L264.2,355.1 L263.6,355.3 L263.1,355.2 L262.6,354.9 L262.2,354.5 L261.7,354.4 L261.1,354.6 L260.5,355 L259.9,355.3 L259.4,355.5 L258.9,355.3 L258.5,354.8 L258.1,354.4 L257.7,354.1 L257.1,354.2 L256.5,354.5 L255.9,354.7 L255.3,354.8 L254.9,354.4 L254.6,353.9 L254.3,353.4 L254,353 L253.4,353 L252.8,353.1 L252.2,353.3 L251.6,353.2 L251.3,352.8 L251.1,352.2 L250.9,351.6 L250.6,351.1 L250.2,351 L249.5,351 L248.9,351 L248.4,350.8 L248.2,350.3 L248.1,349.7 L248,349 L247.8,348.5 L247.4,348.3 L246.8,348.2 L246.2,348 L245.8,347.7 L245.6,347.2 L245.7,346.5 L245.7,345.8 L245.6,345.3 L245.3,344.9 L244.7,344.7 L244.2,344.4 L243.8,344 L243.8,343.4 L243.9,342.7 L244.1,342 L244.1,341.5 L243.8,341 L243.4,340.7 L242.9,340.3 L242.6,339.8 L242.7,339.2 L243,338.5 L243.2,337.9 L243.3,337.3 L243.1,336.8 L242.7,336.3 L242.4,335.8 L242.2,335.3 L242.4,334.7 L242.7,334 L243.1,333.4 L243.3,332.8 L243.2,332.3 L242.9,331.7 L242.6,331.2 L242.6,330.6 L242.8,330 L243.3,329.4 L243.8,328.8 L244.1,328.3 L244.1,327.7 L243.9,327.1 L243.7,326.4 L243.8,325.8 L244.1,325.3 L244.6,324.8 L245.2,324.3 L245.5,323.8 L245.6,323.2 L245.6,322.5 L245.5,321.8 L245.7,321.2 L246.1,320.7 L246.7,320.3 L247.3,319.9 L247.7,319.5 L247.9,318.9 L247.9,318.2 L248,317.5 L248.3,316.9 L248.7,316.4 L249.4,316.1 L250,315.9 L250.5,315.5 L250.8,314.9 L250.9,314.2 L251.1,313.5 L251.5,313 L252,312.6 L252.6,312.5 L253.3,312.3 L253.8,312 L254.1,311.5 L254.4,310.8 L254.7,310.1 L255.1,309.6 L255.7,309.4 L256.3,309.4 L256.9,309.3 L257.5,309.2 L257.9,308.7 L258.3,308.1 L258.7,307.4 L259.2,307 L259.7,306.9 L260.3,307 L260.9,307.1 L261.5,307 L261.9,306.6 L262.4,306 L262.9,305.5 L263.4,305.1 L264,305.1 L264.5,305.3 L265.1,305.6 L265.6,305.6 L266.1,305.3 L266.6,304.8 L267.2,304.3 L267.8,304.1 L268.3,304.2 L268.8,304.5 L269.2,304.9 L269.7,305 L270.3,304.8 L270.9,304.4 L271.5,304.1 L272,303.9 L272.5,304.1 L272.9,304.6 L273.3,305 L273.7,305.3 L274.3,305.2 L274.9,304.9 L275.5,304.7 L276.1,304.6 L276.5,305 L276.8,305.5 L277.1,306 L277.4,306.4 L278,306.4 L278.6,306.3 L279.2,306.1 L279.8,306.2 L280.1,306.6 L280.3,307.2 L280.5,307.8 L280.8,308.3 L281.2,308.4 L281.9,308.4 L282.5,308.4 L283,308.6 L283.2,309.1 L283.3,309.7 L283.4,310.4 L283.6,310.9 L284,311.1 L284.6,311.2 L285.2,311.4 L285.6,311.7 L285.8,312.2 L285.7,312.9 L285.7,313.6 L285.8,314.1 L286.1,314.5 L286.7,314.7 L287.2,315 L287.6,315.4 L287.6,316 L287.5,316.7 L287.3,317.4 L287.3,317.9 L287.6,318.4 L288,318.7 L288.5,319.1 L288.8,319.6 L288.7,320.2 L288.4,320.9 L288.2,321.5 L288.1,322.1 L288.3,322.6 L288.7,323.1 L289,323.6 L289.2,324.1 L289,324.7 L288.7,325.4 L288.3,326 L288.1,326.6 L288.2,327.1 L288.5,327.7 L288.8,328.2 L288.8,328.8 L288.6,329.4 L288.1,330 L287.6,330.6 L287.3,331.1 L287.3,331.7 L287.5,332.3 L287.7,333 L287.6,333.6 L287.3,334.1 L286.8,334.6 L286.2,335.1 L285.9,335.6 L285.8,336.2 L285.8,336.9 L285.9,337.6 L285.7,338.2 L285.3,338.7 L284.7,339.1 L284.1,339.5 L283.7,339.9 L283.5,340.5 L283.5,341.2 Z" fill="none" stroke="#000" stroke-width="1.3"/>
<circle cx="257.1" cy="356.5" r="2.2" fill="#fbfbfb" stroke="#000" stroke-width="1.3"/>
<path d="M326.1,364.4 L325.9,366 L325.4,367.3 L324.3,368.2 L323,368.8 L321.6,369.4 L320.5,370.2 L319.9,371.3 L319.4,372.8 L318.9,374.4 L318.1,375.5 L316.9,376.2 L315.6,376.5 L314.2,376.7 L313,377.2 L312.2,378.2 L311.4,379.6 L310.6,381.1 L309.6,382 L308.4,382.4 L307,382.3 L305.7,382.2 L304.6,382.4 L303.5,383.2 L302.5,384.4 L301.5,385.7 L300.3,386.4 L299.1,386.5 L297.9,386 L296.8,385.5 L295.6,385.4 L294.5,386 L293.3,387 L292.1,387.9 L290.8,388.4 L289.7,388.1 L288.7,387.3 L287.8,386.5 L286.7,386.1 L285.6,386.4 L284.2,387.1 L282.9,387.7 L281.7,387.9 L280.7,387.3 L280,386.2 L279.3,385.1 L278.4,384.4 L277.3,384.4 L275.9,384.7 L274.5,385 L273.4,384.9 L272.6,384 L272.2,382.7 L271.8,381.4 L271.1,380.4 L270.1,380.1 L268.8,380.1 L267.4,380 L266.4,379.5 L265.9,378.5 L265.8,377 L265.7,375.5 L265.4,374.4 L264.5,373.8 L263.2,373.4 L262,373 L261.2,372.2 L261,371 L261.2,369.5 L261.5,367.9 L261.4,366.7 L260.7,365.8 L259.6,365.1 L258.6,364.4 L258,363.3 L258.1,362 L258.6,360.5 L259.2,359 L259.4,357.7 L259,356.7 L258.2,355.7 L257.4,354.6 L257.1,353.4 L257.5,352.1 L258.3,350.7 L259.2,349.3 L259.6,348.1 L259.5,346.8 L259,345.6 L258.5,344.3 L258.5,343 L259.1,341.7 L260.2,340.5 L261.3,339.4 L262,338.2 L262.1,336.9 L261.9,335.5 L261.8,334 L262,332.7 L262.9,331.6 L264.2,330.6 L265.4,329.8 L266.3,328.7 L266.8,327.5 L266.9,326 L267.1,324.4 L267.6,323.1 L268.7,322.2 L270,321.6 L271.4,321 L272.5,320.2 L273.1,319.1 L273.6,317.6 L274.1,316 L274.9,314.9 L276.1,314.2 L277.4,313.9 L278.8,313.7 L280,313.2 L280.8,312.2 L281.6,310.8 L282.4,309.3 L283.4,308.4 L284.6,308 L286,308.1 L287.3,308.2 L288.4,308 L289.5,307.2 L290.5,306 L291.5,304.7 L292.7,304 L293.9,303.9 L295.1,304.4 L296.2,304.9 L297.4,305 L298.5,304.4 L299.7,303.4 L300.9,302.5 L302.2,302 L303.3,302.3 L304.3,303.1 L305.2,303.9 L306.3,304.3 L307.4,304 L308.8,303.3 L310.1,302.7 L311.3,302.5 L312.3,303.1 L313,304.2 L313.7,305.3 L314.6,306 L315.7,306 L317.1,305.7 L318.5,305.4 L319.6,305.5 L320.4,306.4 L320.8,307.7 L321.2,309 L321.9,310 L322.9,310.3 L324.2,310.3 L325.6,310.4 L326.6,310.9 L327.1,311.9 L327.2,313.4 L327.3,314.9 L327.6,316 L328.5,316.6 L329.8,317 L331,317.4 L331.8,318.2 L332,319.4 L331.8,320.9 L331.5,322.5 L331.6,323.7 L332.3,324.6 L333.4,325.3 L334.4,326 L335,327.1 L334.9,328.4 L334.4,329.9 L333.8,331.4 L333.6,332.7 L334,333.7 L334.8,334.7 L335.6,335.8 L335.9,337 L335.5,338.3 L334.7,339.7 L333.8,341.1 L333.4,342.3 L333.5,343.6 L334,344.8 L334.5,346.1 L334.5,347.4 L333.9,348.7 L332.8,349.9 L331.7,351 L331,352.2 L330.9,353.5 L331.1,354.9 L331.2,356.4 L331,357.7 L330.1,358.8 L328.8,359.8 L327.6,360.6 L326.7,361.7 L326.2,362.9 L326.1,364.4 Z" fill="#fbfbfb" stroke="#000" stroke-width="1.8"/>
<path d="M292.2,374.2 L289.5,374.2 L286.8,373.9 L284.3,373.3 L281.9,372.3 L279.7,371.1 L277.7,369.5 L275.8,367.7 L274.2,365.7 L272.8,363.4 L271.7,361 L270.9,358.3 L270.3,355.5 L270.1,352.6 L270.1,349.7 L270.4,346.6 L271,343.6 L271.9,340.6 L273,337.6 L274.4,334.7 L276.1,331.9 L277.9,329.3 L280,326.8 L282.3,324.6 L284.7,322.6 L287.2,320.8 L289.8,319.3 L292.6,318 L295.3,317.1 L298.1,316.5 L300.8,316.2 L303.5,316.2 L306.2,316.5 L308.7,317.1 L311.1,318.1 L313.3,319.3 L315.3,320.9 L317.2,322.7 L318.8,324.7 L320.2,327 L321.3,329.4 L322.1,332.1 L322.7,334.9 L322.9,337.8 L322.9,340.7 L322.6,343.8" fill="none" stroke="#000" stroke-width="1.3"/>
<ellipse cx="321.4" cy="360.8" rx="33.3" ry="42.2" transform="rotate(33 321.4 360.8)" fill="#fbfbfb" stroke="#000" stroke-width="1.1"/>
<path d="M289.9,387.3 L288.2,384 L286.9,380.5 L285.9,376.7 L285.4,372.7 L285.2,368.6 L285.5,364.5 L286.1,360.2 L287.2,356 L288.7,351.8 L290.5,347.8 L292.7,343.9 L295.2,340.1 L298,336.6 L301,333.4 L304.3,330.5 L307.8,327.9 L311.4,325.8 L315.2,324 L319,322.6 L322.9,321.6 L326.7,321.1 L324.8,335.6 L322.3,335.9 L319.9,336.5 L317.5,337.4 L315.1,338.5 L312.8,339.9 L310.6,341.6 L308.5,343.4 L306.5,345.5 L304.7,347.7 L303.2,350 L301.8,352.5 L300.6,355.1 L299.7,357.8 L299,360.4 L298.6,363.1 L298.4,365.8 L298.5,368.4 L298.9,370.9 L299.5,373.3 L300.3,375.6 L301.4,377.6 Z" fill="#000" stroke="none" stroke-width="0"/>
<path d="M304.8,334.5 L307.8,332.2 L310.8,330.2 L314,328.4 L317.3,327.1 L320.6,326 L323.9,325.3" fill="none" stroke="#fbfbfb" stroke-width="1.0"/>
<path d="M308,335.1 L310.5,333.3 L313.2,331.7 L315.9,330.4 L318.7,329.3 L321.4,328.5 L324.2,328" fill="none" stroke="#fbfbfb" stroke-width="1.1"/>
<path d="M311.7,335.4 L313.7,334.2 L315.7,333.2 L317.8,332.4 L319.8,331.7 L321.9,331.1 L324,330.8" fill="none" stroke="#fbfbfb" stroke-width="1.0"/>
<path d="M315.9,335.5 L317.1,335 L318.4,334.5 L319.6,334.1 L320.8,333.7 L322.1,333.4 L323.4,333.2" fill="none" stroke="#fbfbfb" stroke-width="0.7"/>
<path d="M294.1,383.2 L293.3,381.7 L292.6,380.2 L292,378.6 L291.5,377 L291,375.3 L290.7,373.5" fill="none" stroke="#fbfbfb" stroke-width="0.9"/>
<path d="M296.6,381.1 L296,379.9 L295.4,378.7 L294.9,377.4 L294.4,376.1 L294.1,374.7 L293.7,373.3" fill="none" stroke="#fbfbfb" stroke-width="0.9"/>
<path d="M291.6,384.5 L291.1,383.7 L290.7,382.8 L290.3,381.9 L290,381 L289.6,380.1 L289.3,379.2" fill="none" stroke="#fbfbfb" stroke-width="0.6"/>
<path d="M296.1,372.7 L295.7,369.8 L295.5,366.8 L295.7,363.6 L296.2,360.5 L297,357.3 L298.1,354.2 L299.4,351.2 L301.1,348.3 L303,345.5 L305.1,343 L307.5,340.6" fill="none" stroke="#fbfbfb" stroke-width="0.9" stroke-dasharray="4 2.5"/>
<path d="M291.1,362.5 L291.8,358.5 L293,354.6 L294.6,350.8 L296.5,347.1 L298.8,343.6 L301.4,340.4" fill="none" stroke="#fbfbfb" stroke-width="0.5" stroke-dasharray="2 4"/>
<path d="M336.8,329.1 L337.3,329.3 L337.8,329.5 L338.4,329.7 L338.9,330 L339.4,330.3 L339.9,330.6 L335.4,337.9 L335,337.7 L334.6,337.5 L334.2,337.3 L333.8,337.1 L333.4,337 L333,336.8 Z" fill="#000" stroke="none" stroke-width="0"/>
<path d="M349.3,329.5 L350.5,330.9 L351.7,332.4 L352.7,334 L353.7,335.7 L354.5,337.4 L355.3,339.2 L342.9,347.1 L342.4,346 L341.9,344.8 L341.3,343.8 L340.6,342.8 L339.9,341.8 L339.1,340.9 Z" fill="#000" stroke="none" stroke-width="0"/>
<path d="M342.5,328.2 L343.6,329 L344.7,329.8 L345.7,330.7 L346.7,331.6 L347.6,332.6 L348.5,333.7" fill="none" stroke="#000" stroke-width="0.7"/>
<path d="M347.1,332 L347.6,332.6 L348.1,333.2 L348.7,333.9 L349.1,334.5 L349.6,335.2 L350.1,335.9" fill="none" stroke="#fbfbfb" stroke-width="0.7"/>
<path d="M340.7,331.1 L341.7,331.8 L342.7,332.5 L343.6,333.3 L344.5,334.2 L345.3,335.1 L346.1,336" fill="none" stroke="#000" stroke-width="0.7"/>
<path d="M344.8,334.5 L345.3,335.1 L345.8,335.6 L346.3,336.2 L346.7,336.8 L347.2,337.4 L347.6,338.1" fill="none" stroke="#fbfbfb" stroke-width="0.7"/>
<path d="M338.9,333.9 L339.8,334.5 L340.7,335.2 L341.5,335.9 L342.3,336.7 L343.1,337.5 L343.8,338.4" fill="none" stroke="#000" stroke-width="0.7"/>
<path d="M342.6,337 L343.1,337.5 L343.5,338 L343.9,338.6 L344.3,339.1 L344.7,339.7 L345.1,340.2" fill="none" stroke="#fbfbfb" stroke-width="0.7"/>
<path d="M317.9,322.9 L321.8,321.8 L325.8,321.2 L329.6,321 L333.4,321.3 L337.1,322.1 L340.5,323.3 L343.8,325 L346.7,327.1 L349.4,329.6 L351.7,332.5 L353.7,335.7 L355.3,339.2" fill="none" stroke="#000" stroke-width="2.0"/>
<path d="M297.7,391.4 L296.7,390.5 L295.7,389.6 L294.8,388.6 L294,387.5 L293.2,386.4 L292.4,385.2" fill="none" stroke="#000" stroke-width="0.6"/>
<path d="M299.7,388.8 L298.8,387.9 L298,387.1 L297.1,386.1 L296.4,385.2 L295.6,384.2 L295,383.1" fill="none" stroke="#000" stroke-width="0.6"/>
<path d="M339.2,372.3 L339.1,373 L338.8,373.6 L338.4,374.1 L337.7,374.4 L337.1,374.6 L336.6,375 L336.3,375.6 L336.2,376.3 L336,377 L335.6,377.5 L335.1,377.9 L334.5,378 L333.8,378.2 L333.3,378.5 L333,379 L332.7,379.7 L332.4,380.4 L332,380.9 L331.4,381.1 L330.8,381.1 L330.2,381.2 L329.6,381.3 L329.2,381.8 L328.8,382.4 L328.4,383.1 L327.9,383.5 L327.4,383.6 L326.8,383.5 L326.2,383.4 L325.6,383.5 L325.2,383.9 L324.7,384.5 L324.2,385 L323.7,385.4 L323.1,385.4 L322.6,385.2 L322,384.9 L321.5,384.9 L321,385.2 L320.5,385.7 L319.9,386.2 L319.3,386.4 L318.8,386.3 L318.3,386 L317.9,385.6 L317.4,385.5 L316.8,385.7 L316.2,386.1 L315.6,386.4 L315.1,386.6 L314.6,386.4 L314.2,385.9 L313.8,385.5 L313.4,385.2 L312.8,385.3 L312.2,385.6 L311.6,385.8 L311,385.9 L310.6,385.5 L310.3,385 L310,384.5 L309.7,384.1 L309.1,384.1 L308.5,384.2 L307.9,384.4 L307.3,384.3 L307,383.9 L306.8,383.3 L306.6,382.7 L306.3,382.2 L305.9,382.1 L305.2,382.1 L304.6,382.1 L304.1,381.9 L303.9,381.4 L303.8,380.8 L303.7,380.1 L303.5,379.6 L303.1,379.4 L302.5,379.3 L301.9,379.1 L301.5,378.8 L301.3,378.3 L301.4,377.6 L301.4,376.9 L301.3,376.4 L301,376 L300.4,375.8 L299.9,375.5 L299.5,375.1 L299.5,374.5 L299.6,373.8 L299.8,373.1 L299.8,372.6 L299.5,372.1 L299.1,371.8 L298.6,371.4 L298.3,370.9 L298.4,370.3 L298.7,369.6 L298.9,369 L299,368.4 L298.8,367.9 L298.4,367.4 L298.1,366.9 L297.9,366.4 L298.1,365.8 L298.4,365.1 L298.8,364.5 L299,363.9 L298.9,363.4 L298.6,362.8 L298.3,362.3 L298.3,361.7 L298.5,361.1 L299,360.5 L299.5,359.9 L299.8,359.4 L299.8,358.8 L299.6,358.2 L299.4,357.5 L299.5,356.9 L299.8,356.4 L300.3,355.9 L300.9,355.4 L301.2,354.9 L301.3,354.3 L301.3,353.6 L301.2,352.9 L301.4,352.3 L301.8,351.8 L302.4,351.4 L303,351 L303.4,350.6 L303.6,350 L303.6,349.3 L303.7,348.6 L304,348 L304.4,347.5 L305.1,347.2 L305.7,347 L306.2,346.6 L306.5,346 L306.6,345.3 L306.8,344.6 L307.2,344.1 L307.7,343.7 L308.3,343.6 L309,343.4 L309.5,343.1 L309.8,342.6 L310.1,341.9 L310.4,341.2 L310.8,340.7 L311.4,340.5 L312,340.5 L312.6,340.4 L313.2,340.3 L313.6,339.8 L314,339.2 L314.4,338.5 L314.9,338.1 L315.4,338 L316,338.1 L316.6,338.2 L317.2,338.1 L317.6,337.7 L318.1,337.1 L318.6,336.6 L319.1,336.2 L319.7,336.2 L320.2,336.4 L320.8,336.7 L321.3,336.7 L321.8,336.4 L322.3,335.9 L322.9,335.4 L323.5,335.2 L324,335.3 L324.5,335.6 L324.9,336 L325.4,336.1 L326,335.9 L326.6,335.5 L327.2,335.2 L327.7,335 L328.2,335.2 L328.6,335.7 L329,336.1 L329.4,336.4 L330,336.3 L330.6,336 L331.2,335.8 L331.8,335.7 L332.2,336.1 L332.5,336.6 L332.8,337.1 L333.1,337.5 L333.7,337.5 L334.3,337.4 L334.9,337.2 L335.5,337.3 L335.8,337.7 L336,338.3 L336.2,338.9 L336.5,339.4 L336.9,339.5 L337.6,339.5 L338.2,339.5 L338.7,339.7 L338.9,340.2 L339,340.8 L339.1,341.5 L339.3,342 L339.7,342.2 L340.3,342.3 L340.9,342.5 L341.3,342.8 L341.5,343.3 L341.4,344 L341.4,344.7 L341.5,345.2 L341.8,345.6 L342.4,345.8 L342.9,346.1 L343.3,346.5 L343.3,347.1 L343.2,347.8 L343,348.5 L343,349 L343.3,349.5 L343.7,349.8 L344.2,350.2 L344.5,350.7 L344.4,351.3 L344.1,352 L343.9,352.6 L343.8,353.2 L344,353.7 L344.4,354.2 L344.7,354.7 L344.9,355.2 L344.7,355.8 L344.4,356.5 L344,357.1 L343.8,357.7 L343.9,358.2 L344.2,358.8 L344.5,359.3 L344.5,359.9 L344.3,360.5 L343.8,361.1 L343.3,361.7 L343,362.2 L343,362.8 L343.2,363.4 L343.4,364.1 L343.3,364.7 L343,365.2 L342.5,365.7 L341.9,366.2 L341.6,366.7 L341.5,367.3 L341.5,368 L341.6,368.7 L341.4,369.3 L341,369.8 L340.4,370.2 L339.8,370.6 L339.4,371 L339.2,371.6 L339.2,372.3 Z" fill="none" stroke="#000" stroke-width="1.3"/>
<circle cx="312.8" cy="387.6" r="2.2" fill="#fbfbfb" stroke="#000" stroke-width="1.3"/>
<path d="M381.7,397.3 L381.5,398.8 L380.9,400.1 L379.9,401 L378.5,401.7 L377.2,402.2 L376.1,403 L375.4,404.2 L375,405.7 L374.5,407.2 L373.7,408.4 L372.5,409.1 L371.1,409.3 L369.7,409.5 L368.6,410.1 L367.7,411.1 L366.9,412.5 L366.1,413.9 L365.1,414.9 L363.9,415.3 L362.6,415.2 L361.3,415 L360.1,415.3 L359,416.1 L358,417.3 L357,418.6 L355.8,419.3 L354.6,419.4 L353.4,418.9 L352.3,418.4 L351.1,418.3 L350,418.8 L348.8,419.9 L347.5,420.8 L346.3,421.3 L345.2,421 L344.2,420.2 L343.2,419.4 L342.2,419 L341,419.2 L339.7,419.9 L338.4,420.6 L337.1,420.8 L336.2,420.2 L335.4,419.1 L334.7,418 L333.9,417.3 L332.7,417.2 L331.4,417.6 L330,417.9 L328.8,417.7 L328.1,416.9 L327.6,415.6 L327.2,414.2 L326.6,413.3 L325.6,413 L324.2,413 L322.9,412.9 L321.8,412.4 L321.3,411.3 L321.2,409.9 L321.2,408.4 L320.8,407.3 L319.9,406.6 L318.7,406.3 L317.4,405.9 L316.6,405.1 L316.4,403.8 L316.6,402.3 L316.9,400.8 L316.8,399.6 L316.1,398.7 L315.1,398 L314,397.2 L313.5,396.2 L313.5,394.8 L314.1,393.3 L314.7,391.9 L314.8,390.6 L314.4,389.5 L313.6,388.5 L312.8,387.4 L312.5,386.2 L312.9,384.9 L313.7,383.5 L314.6,382.1 L315.1,380.9 L314.9,379.6 L314.4,378.4 L313.9,377.1 L313.9,375.8 L314.5,374.5 L315.6,373.3 L316.7,372.2 L317.4,371 L317.6,369.7 L317.4,368.3 L317.2,366.8 L317.5,365.5 L318.3,364.3 L319.6,363.4 L320.9,362.5 L321.8,361.5 L322.2,360.2 L322.3,358.7 L322.5,357.2 L323.1,355.9 L324.1,355 L325.5,354.3 L326.8,353.8 L327.9,353 L328.6,351.8 L329,350.3 L329.5,348.8 L330.3,347.6 L331.5,346.9 L332.9,346.7 L334.3,346.5 L335.4,345.9 L336.3,344.9 L337.1,343.5 L337.9,342.1 L338.9,341.1 L340.1,340.7 L341.4,340.8 L342.7,341 L343.9,340.7 L345,339.9 L346,338.7 L347,337.4 L348.2,336.7 L349.4,336.6 L350.6,337.1 L351.7,337.6 L352.9,337.7 L354,337.2 L355.2,336.1 L356.5,335.2 L357.7,334.7 L358.8,335 L359.8,335.8 L360.8,336.6 L361.8,337 L363,336.8 L364.3,336.1 L365.6,335.4 L366.9,335.2 L367.8,335.8 L368.6,336.9 L369.3,338 L370.1,338.7 L371.3,338.8 L372.6,338.4 L374,338.1 L375.2,338.3 L375.9,339.1 L376.4,340.4 L376.8,341.8 L377.4,342.7 L378.4,343 L379.8,343 L381.1,343.1 L382.2,343.6 L382.7,344.7 L382.8,346.1 L382.8,347.6 L383.2,348.7 L384.1,349.4 L385.3,349.7 L386.6,350.1 L387.4,350.9 L387.6,352.2 L387.4,353.7 L387.1,355.2 L387.2,356.4 L387.9,357.3 L388.9,358 L390,358.8 L390.5,359.8 L390.5,361.2 L389.9,362.7 L389.3,364.1 L389.2,365.4 L389.6,366.5 L390.4,367.5 L391.2,368.6 L391.5,369.8 L391.1,371.1 L390.3,372.5 L389.4,373.9 L388.9,375.1 L389.1,376.4 L389.6,377.6 L390.1,378.9 L390.1,380.2 L389.5,381.5 L388.4,382.7 L387.3,383.8 L386.6,385 L386.4,386.3 L386.6,387.7 L386.8,389.2 L386.5,390.5 L385.7,391.7 L384.4,392.6 L383.1,393.5 L382.2,394.5 L381.8,395.8 L381.7,397.3 Z" fill="#fbfbfb" stroke="#000" stroke-width="1.8"/>
<path d="M347.7,407.1 L345,407.1 L342.3,406.8 L339.8,406.1 L337.4,405.2 L335.2,403.9 L333.1,402.4 L331.3,400.6 L329.7,398.5 L328.3,396.3 L327.2,393.8 L326.4,391.2 L325.8,388.4 L325.5,385.5 L325.5,382.5 L325.9,379.4 L326.5,376.4 L327.3,373.4 L328.5,370.4 L329.9,367.5 L331.5,364.7 L333.4,362.1 L335.5,359.6 L337.7,357.3 L340.1,355.3 L342.7,353.5 L345.3,352 L348,350.8 L350.8,349.8 L353.6,349.2 L356.3,348.9 L359,348.9 L361.7,349.2 L364.2,349.9 L366.6,350.8 L368.8,352.1 L370.9,353.6 L372.7,355.4 L374.3,357.5 L375.7,359.7 L376.8,362.2 L377.6,364.8 L378.2,367.6 L378.5,370.5 L378.5,373.5 L378.1,376.6" fill="none" stroke="#000" stroke-width="1.3"/>
<ellipse cx="377.5" cy="391.4" rx="33.3" ry="42.2" transform="rotate(33 377.5 391.4)" fill="#fbfbfb" stroke="#000" stroke-width="1.1"/>
<path d="M346,417.9 L344.3,414.6 L343,411.1 L342,407.3 L341.5,403.3 L341.3,399.2 L341.6,395.1 L342.2,390.8 L343.3,386.6 L344.8,382.4 L346.6,378.4 L348.8,374.5 L351.3,370.7 L354.1,367.2 L357.1,364 L360.4,361.1 L363.9,358.5 L367.5,356.4 L371.3,354.6 L375.1,353.2 L379,352.2 L382.8,351.7 L380.9,366.2 L378.4,366.5 L376,367.1 L373.6,368 L371.2,369.1 L368.9,370.5 L366.7,372.2 L364.6,374 L362.6,376.1 L360.8,378.3 L359.3,380.6 L357.9,383.1 L356.7,385.7 L355.8,388.4 L355.1,391 L354.7,393.7 L354.5,396.4 L354.6,399 L355,401.5 L355.6,403.9 L356.4,406.2 L357.5,408.2 Z" fill="#000" stroke="none" stroke-width="0"/>
<path d="M360.9,365.1 L363.9,362.8 L366.9,360.8 L370.1,359 L373.4,357.7 L376.7,356.6 L380,355.9" fill="none" stroke="#fbfbfb" stroke-width="1.0"/>
<path d="M364.1,365.7 L366.6,363.9 L369.3,362.3 L372,361 L374.8,359.9 L377.5,359.1 L380.3,358.6" fill="none" stroke="#fbfbfb" stroke-width="1.1"/>
<path d="M367.8,366 L369.8,364.8 L371.8,363.8 L373.9,363 L375.9,362.3 L378,361.7 L380.1,361.4" fill="none" stroke="#fbfbfb" stroke-width="1.0"/>
<path d="M372,366.1 L373.2,365.6 L374.5,365.1 L375.7,364.7 L376.9,364.3 L378.2,364 L379.5,363.8" fill="none" stroke="#fbfbfb" stroke-width="0.7"/>
<path d="M350.2,413.8 L349.4,412.3 L348.7,410.8 L348.1,409.2 L347.6,407.6 L347.1,405.9 L346.8,404.1" fill="none" stroke="#fbfbfb" stroke-width="0.9"/>
<path d="M352.7,411.7 L352.1,410.5 L351.5,409.3 L351,408 L350.5,406.7 L350.2,405.3 L349.8,403.9" fill="none" stroke="#fbfbfb" stroke-width="0.9"/>
<path d="M347.7,415.1 L347.2,414.3 L346.8,413.4 L346.4,412.5 L346.1,411.6 L345.7,410.7 L345.4,409.8" fill="none" stroke="#fbfbfb" stroke-width="0.6"/>
<path d="M352.2,403.3 L351.8,400.4 L351.6,397.4 L351.8,394.2 L352.3,391.1 L353.1,387.9 L354.2,384.8 L355.5,381.8 L357.2,378.9 L359.1,376.1 L361.2,373.6 L363.6,371.2" fill="none" stroke="#fbfbfb" stroke-width="0.9" stroke-dasharray="4 2.5"/>
<path d="M347.2,393.1 L347.9,389.1 L349.1,385.2 L350.7,381.4 L352.6,377.7 L354.9,374.2 L357.5,371" fill="none" stroke="#fbfbfb" stroke-width="0.5" stroke-dasharray="2 4"/>
<path d="M392.9,359.7 L393.4,359.9 L393.9,360.1 L394.5,360.3 L395,360.6 L395.5,360.9 L396,361.2 L391.5,368.5 L391.1,368.3 L390.7,368.1 L390.3,367.9 L389.9,367.7 L389.5,367.6 L389.1,367.4 Z" fill="#000" stroke="none" stroke-width="0"/>
<path d="M405.4,360.1 L406.6,361.5 L407.8,363 L408.8,364.6 L409.8,366.3 L410.6,368 L411.4,369.8 L399,377.7 L398.5,376.6 L398,375.4 L397.4,374.4 L396.7,373.4 L396,372.4 L395.2,371.5 Z" fill="#000" stroke="none" stroke-width="0"/>
<path d="M398.6,358.8 L399.7,359.6 L400.8,360.4 L401.8,361.3 L402.8,362.2 L403.7,363.2 L404.6,364.3" fill="none" stroke="#000" stroke-width="0.7"/>
<path d="M403.2,362.6 L403.7,363.2 L404.2,363.8 L404.8,364.5 L405.2,365.1 L405.7,365.8 L406.2,366.5" fill="none" stroke="#fbfbfb" stroke-width="0.7"/>
<path d="M396.8,361.7 L397.8,362.4 L398.8,363.1 L399.7,363.9 L400.6,364.8 L401.4,365.7 L402.2,366.6" fill="none" stroke="#000" stroke-width="0.7"/>
<path d="M400.9,365.1 L401.4,365.7 L401.9,366.2 L402.4,366.8 L402.8,367.4 L403.3,368 L403.7,368.7" fill="none" stroke="#fbfbfb" stroke-width="0.7"/>
<path d="M395,364.5 L395.9,365.1 L396.8,365.8 L397.6,366.5 L398.4,367.3 L399.2,368.1 L399.9,369" fill="none" stroke="#000" stroke-width="0.7"/>
<path d="M398.7,367.6 L399.2,368.1 L399.6,368.6 L400,369.2 L400.4,369.7 L400.8,370.3 L401.2,370.8" fill="none" stroke="#fbfbfb" stroke-width="0.7"/>
<path d="M374,353.5 L377.9,352.4 L381.9,351.8 L385.7,351.6 L389.5,351.9 L393.2,352.7 L396.6,353.9 L399.9,355.6 L402.8,357.7 L405.5,360.2 L407.8,363.1 L409.8,366.3 L411.4,369.8" fill="none" stroke="#000" stroke-width="2.0"/>
<path d="M353.8,422 L352.8,421.1 L351.8,420.2 L350.9,419.2 L350.1,418.1 L349.3,417 L348.5,415.8" fill="none" stroke="#000" stroke-width="0.6"/>
<path d="M355.8,419.4 L354.9,418.5 L354.1,417.7 L353.2,416.7 L352.5,415.8 L351.7,414.8 L351.1,413.7" fill="none" stroke="#000" stroke-width="0.6"/>
<path d="M395.3,402.9 L395.2,403.6 L394.9,404.2 L394.5,404.7 L393.8,405 L393.2,405.2 L392.7,405.6 L392.4,406.2 L392.3,406.9 L392.1,407.6 L391.7,408.1 L391.2,408.5 L390.6,408.6 L389.9,408.8 L389.4,409.1 L389.1,409.6 L388.8,410.3 L388.5,411 L388.1,411.5 L387.5,411.7 L386.9,411.7 L386.3,411.8 L385.7,411.9 L385.3,412.4 L384.9,413 L384.5,413.7 L384,414.1 L383.5,414.2 L382.9,414.1 L382.3,414 L381.7,414.1 L381.3,414.5 L380.8,415.1 L380.3,415.6 L379.8,416 L379.2,416 L378.7,415.8 L378.1,415.5 L377.6,415.5 L377.1,415.8 L376.6,416.3 L376,416.8 L375.4,417 L374.9,416.9 L374.4,416.6 L374,416.2 L373.5,416.1 L372.9,416.3 L372.3,416.7 L371.7,417 L371.2,417.2 L370.7,417 L370.3,416.5 L369.9,416.1 L369.5,415.8 L368.9,415.9 L368.3,416.2 L367.7,416.4 L367.1,416.5 L366.7,416.1 L366.4,415.6 L366.1,415.1 L365.8,414.7 L365.2,414.7 L364.6,414.8 L364,415 L363.4,414.9 L363.1,414.5 L362.9,413.9 L362.7,413.3 L362.4,412.8 L362,412.7 L361.3,412.7 L360.7,412.7 L360.2,412.5 L360,412 L359.9,411.4 L359.8,410.7 L359.6,410.2 L359.2,410 L358.6,409.9 L358,409.7 L357.6,409.4 L357.4,408.9 L357.5,408.2 L357.5,407.5 L357.4,407 L357.1,406.6 L356.5,406.4 L356,406.1 L355.6,405.7 L355.6,405.1 L355.7,404.4 L355.9,403.7 L355.9,403.2 L355.6,402.7 L355.2,402.4 L354.7,402 L354.4,401.5 L354.5,400.9 L354.8,400.2 L355,399.6 L355.1,399 L354.9,398.5 L354.5,398 L354.2,397.5 L354,397 L354.2,396.4 L354.5,395.7 L354.9,395.1 L355.1,394.5 L355,394 L354.7,393.4 L354.4,392.9 L354.4,392.3 L354.6,391.7 L355.1,391.1 L355.6,390.5 L355.9,390 L355.9,389.4 L355.7,388.8 L355.5,388.1 L355.6,387.5 L355.9,387 L356.4,386.5 L357,386 L357.3,385.5 L357.4,384.9 L357.4,384.2 L357.3,383.5 L357.5,382.9 L357.9,382.4 L358.5,382 L359.1,381.6 L359.5,381.2 L359.7,380.6 L359.7,379.9 L359.8,379.2 L360.1,378.6 L360.5,378.1 L361.2,377.8 L361.8,377.6 L362.3,377.2 L362.6,376.6 L362.7,375.9 L362.9,375.2 L363.3,374.7 L363.8,374.3 L364.4,374.2 L365.1,374 L365.6,373.7 L365.9,373.2 L366.2,372.5 L366.5,371.8 L366.9,371.3 L367.5,371.1 L368.1,371.1 L368.7,371 L369.3,370.9 L369.7,370.4 L370.1,369.8 L370.5,369.1 L371,368.7 L371.5,368.6 L372.1,368.7 L372.7,368.8 L373.3,368.7 L373.7,368.3 L374.2,367.7 L374.7,367.2 L375.2,366.8 L375.8,366.8 L376.3,367 L376.9,367.3 L377.4,367.3 L377.9,367 L378.4,366.5 L379,366 L379.6,365.8 L380.1,365.9 L380.6,366.2 L381,366.6 L381.5,366.7 L382.1,366.5 L382.7,366.1 L383.3,365.8 L383.8,365.6 L384.3,365.8 L384.7,366.3 L385.1,366.7 L385.5,367 L386.1,366.9 L386.7,366.6 L387.3,366.4 L387.9,366.3 L388.3,366.7 L388.6,367.2 L388.9,367.7 L389.2,368.1 L389.8,368.1 L390.4,368 L391,367.8 L391.6,367.9 L391.9,368.3 L392.1,368.9 L392.3,369.5 L392.6,370 L393,370.1 L393.7,370.1 L394.3,370.1 L394.8,370.3 L395,370.8 L395.1,371.4 L395.2,372.1 L395.4,372.6 L395.8,372.8 L396.4,372.9 L397,373.1 L397.4,373.4 L397.6,373.9 L397.5,374.6 L397.5,375.3 L397.6,375.8 L397.9,376.2 L398.5,376.4 L399,376.7 L399.4,377.1 L399.4,377.7 L399.3,378.4 L399.1,379.1 L399.1,379.6 L399.4,380.1 L399.8,380.4 L400.3,380.8 L400.6,381.3 L400.5,381.9 L400.2,382.6 L400,383.2 L399.9,383.8 L400.1,384.3 L400.5,384.8 L400.8,385.3 L401,385.8 L400.8,386.4 L400.5,387.1 L400.1,387.7 L399.9,388.3 L400,388.8 L400.3,389.4 L400.6,389.9 L400.6,390.5 L400.4,391.1 L399.9,391.7 L399.4,392.3 L399.1,392.8 L399.1,393.4 L399.3,394 L399.5,394.7 L399.4,395.3 L399.1,395.8 L398.6,396.3 L398,396.8 L397.7,397.3 L397.6,397.9 L397.6,398.6 L397.7,399.3 L397.5,399.9 L397.1,400.4 L396.5,400.8 L395.9,401.2 L395.5,401.6 L395.3,402.2 L395.3,402.9 Z" fill="none" stroke="#000" stroke-width="1.3"/>
<circle cx="368.9" cy="418.2" r="2.2" fill="#fbfbfb" stroke="#000" stroke-width="1.3"/>
<path d="M440.7,428.7 L440.6,430.2 L440,431.5 L438.9,432.5 L437.6,433.1 L436.2,433.7 L435.1,434.5 L434.5,435.6 L434,437.2 L433.5,438.7 L432.7,439.9 L431.5,440.5 L430.1,440.8 L428.8,441 L427.6,441.5 L426.7,442.6 L426,444 L425.2,445.4 L424.2,446.4 L422.9,446.8 L421.6,446.7 L420.3,446.5 L419.1,446.7 L418,447.6 L417,448.8 L416,450 L414.8,450.8 L413.6,450.8 L412.4,450.4 L411.3,449.9 L410.1,449.8 L409,450.3 L407.8,451.3 L406.5,452.3 L405.3,452.8 L404.2,452.5 L403.2,451.7 L402.2,450.8 L401.2,450.5 L400,450.7 L398.7,451.4 L397.3,452.1 L396.1,452.2 L395.1,451.7 L394.4,450.6 L393.7,449.4 L392.8,448.8 L391.7,448.7 L390.3,449.1 L388.9,449.4 L387.8,449.2 L387,448.4 L386.6,447 L386.2,445.7 L385.5,444.8 L384.5,444.4 L383.2,444.4 L381.8,444.4 L380.8,443.9 L380.3,442.8 L380.2,441.3 L380.1,439.8 L379.7,438.7 L378.9,438.1 L377.6,437.7 L376.4,437.3 L375.5,436.5 L375.3,435.3 L375.5,433.7 L375.8,432.2 L375.7,431 L375.1,430.1 L374,429.4 L373,428.6 L372.4,427.6 L372.4,426.3 L373,424.8 L373.6,423.3 L373.8,422 L373.4,420.9 L372.5,419.9 L371.8,418.8 L371.4,417.6 L371.8,416.3 L372.7,414.9 L373.5,413.5 L374,412.3 L373.9,411 L373.3,409.8 L372.8,408.5 L372.8,407.2 L373.5,405.9 L374.5,404.7 L375.6,403.5 L376.3,402.4 L376.5,401.1 L376.3,399.7 L376.1,398.2 L376.4,396.9 L377.3,395.7 L378.5,394.8 L379.8,393.9 L380.7,392.9 L381.1,391.6 L381.3,390.1 L381.4,388.6 L382,387.3 L383.1,386.3 L384.4,385.7 L385.8,385.1 L386.9,384.3 L387.5,383.2 L388,381.6 L388.5,380.1 L389.3,378.9 L390.5,378.3 L391.9,378 L393.2,377.8 L394.4,377.3 L395.3,376.2 L396,374.8 L396.8,373.4 L397.8,372.4 L399.1,372 L400.4,372.1 L401.7,372.3 L402.9,372.1 L404,371.2 L405,370 L406,368.8 L407.2,368 L408.4,368 L409.6,368.4 L410.7,368.9 L411.9,369 L413,368.5 L414.2,367.5 L415.5,366.5 L416.7,366 L417.8,366.3 L418.8,367.1 L419.8,368 L420.8,368.3 L422,368.1 L423.3,367.4 L424.7,366.7 L425.9,366.6 L426.9,367.1 L427.6,368.2 L428.3,369.4 L429.2,370 L430.3,370.1 L431.7,369.7 L433.1,369.4 L434.2,369.6 L435,370.4 L435.4,371.8 L435.8,373.1 L436.5,374 L437.5,374.4 L438.8,374.4 L440.2,374.4 L441.2,374.9 L441.7,376 L441.8,377.5 L441.9,379 L442.3,380.1 L443.1,380.7 L444.4,381.1 L445.6,381.5 L446.5,382.3 L446.7,383.5 L446.5,385.1 L446.2,386.6 L446.3,387.8 L446.9,388.7 L448,389.4 L449,390.2 L449.6,391.2 L449.6,392.5 L449,394 L448.4,395.5 L448.2,396.8 L448.6,397.9 L449.5,398.9 L450.2,400 L450.6,401.2 L450.2,402.5 L449.3,403.9 L448.5,405.3 L448,406.5 L448.1,407.8 L448.7,409 L449.2,410.3 L449.2,411.6 L448.5,412.9 L447.5,414.1 L446.4,415.3 L445.7,416.4 L445.5,417.7 L445.7,419.1 L445.9,420.6 L445.6,421.9 L444.7,423.1 L443.5,424 L442.2,424.9 L441.3,425.9 L440.9,427.2 L440.7,428.7 Z" fill="#fbfbfb" stroke="#000" stroke-width="1.8"/>
<path d="M406.7,438.5 L403.9,438.5 L401.3,438.2 L398.8,437.6 L396.4,436.6 L394.1,435.4 L392.1,433.8 L390.2,432 L388.6,430 L387.3,427.7 L386.1,425.2 L385.3,422.6 L384.7,419.8 L384.5,416.9 L384.5,413.9 L384.8,410.8 L385.4,407.8 L386.3,404.8 L387.4,401.8 L388.8,398.9 L390.5,396.1 L392.4,393.4 L394.4,391 L396.7,388.7 L399.1,386.7 L401.7,384.9 L404.3,383.4 L407,382.1 L409.8,381.2 L412.6,380.6 L415.3,380.3 L418.1,380.3 L420.7,380.6 L423.2,381.2 L425.6,382.2 L427.9,383.4 L429.9,385 L431.8,386.8 L433.4,388.8 L434.7,391.1 L435.9,393.6 L436.7,396.2 L437.3,399 L437.5,401.9 L437.5,404.9 L437.2,408" fill="none" stroke="#000" stroke-width="1.3"/>
<ellipse cx="434.7" cy="420.7" rx="33.3" ry="42.2" transform="rotate(33 434.7 420.7)" fill="#fbfbfb" stroke="#000" stroke-width="1.1"/>
<path d="M403.2,447.2 L401.5,443.9 L400.2,440.4 L399.2,436.6 L398.7,432.6 L398.5,428.5 L398.8,424.4 L399.4,420.1 L400.5,415.9 L402,411.7 L403.8,407.7 L406,403.8 L408.5,400 L411.3,396.5 L414.3,393.3 L417.6,390.4 L421.1,387.8 L424.7,385.7 L428.5,383.9 L432.3,382.5 L436.2,381.5 L440,381 L438.1,395.5 L435.6,395.8 L433.2,396.4 L430.8,397.3 L428.4,398.4 L426.1,399.8 L423.9,401.5 L421.8,403.3 L419.8,405.4 L418,407.6 L416.5,409.9 L415.1,412.4 L413.9,415 L413,417.7 L412.3,420.3 L411.9,423 L411.7,425.7 L411.8,428.3 L412.2,430.8 L412.8,433.2 L413.6,435.5 L414.7,437.5 Z" fill="#000" stroke="none" stroke-width="0"/>
<path d="M418.1,394.4 L421.1,392.1 L424.1,390.1 L427.3,388.3 L430.6,387 L433.9,385.9 L437.2,385.2" fill="none" stroke="#fbfbfb" stroke-width="1.0"/>
<path d="M421.3,395 L423.8,393.2 L426.5,391.6 L429.2,390.3 L432,389.2 L434.7,388.4 L437.5,387.9" fill="none" stroke="#fbfbfb" stroke-width="1.1"/>
<path d="M425,395.3 L427,394.1 L429,393.1 L431.1,392.3 L433.1,391.6 L435.2,391 L437.3,390.7" fill="none" stroke="#fbfbfb" stroke-width="1.0"/>
<path d="M429.2,395.4 L430.4,394.9 L431.7,394.4 L432.9,394 L434.1,393.6 L435.4,393.3 L436.7,393.1" fill="none" stroke="#fbfbfb" stroke-width="0.7"/>
<path d="M407.4,443.1 L406.6,441.6 L405.9,440.1 L405.3,438.5 L404.8,436.9 L404.3,435.2 L404,433.4" fill="none" stroke="#fbfbfb" stroke-width="0.9"/>
<path d="M409.9,441 L409.3,439.8 L408.7,438.6 L408.2,437.3 L407.7,436 L407.4,434.6 L407,433.2" fill="none" stroke="#fbfbfb" stroke-width="0.9"/>
<path d="M404.9,444.4 L404.4,443.6 L404,442.7 L403.6,441.8 L403.3,440.9 L402.9,440 L402.6,439.1" fill="none" stroke="#fbfbfb" stroke-width="0.6"/>
<path d="M409.4,432.6 L409,429.7 L408.8,426.7 L409,423.5 L409.5,420.4 L410.3,417.2 L411.4,414.1 L412.7,411.1 L414.4,408.2 L416.3,405.4 L418.4,402.9 L420.8,400.5" fill="none" stroke="#fbfbfb" stroke-width="0.9" stroke-dasharray="4 2.5"/>
<path d="M404.4,422.4 L405.1,418.4 L406.3,414.5 L407.9,410.7 L409.8,407 L412.1,403.5 L414.7,400.3" fill="none" stroke="#fbfbfb" stroke-width="0.5" stroke-dasharray="2 4"/>
<path d="M450.1,389 L450.6,389.2 L451.1,389.4 L451.7,389.6 L452.2,389.9 L452.7,390.2 L453.2,390.5 L448.7,397.8 L448.3,397.6 L447.9,397.4 L447.5,397.2 L447.1,397 L446.7,396.9 L446.3,396.7 Z" fill="#000" stroke="none" stroke-width="0"/>
<path d="M462.6,389.4 L463.8,390.8 L465,392.3 L466,393.9 L467,395.6 L467.8,397.3 L468.6,399.1 L456.2,407 L455.7,405.9 L455.2,404.7 L454.6,403.7 L453.9,402.7 L453.2,401.7 L452.4,400.8 Z" fill="#000" stroke="none" stroke-width="0"/>
<path d="M455.8,388.1 L456.9,388.9 L458,389.7 L459,390.6 L460,391.5 L460.9,392.5 L461.8,393.6" fill="none" stroke="#000" stroke-width="0.7"/>
<path d="M460.4,391.9 L460.9,392.5 L461.4,393.1 L462,393.8 L462.4,394.4 L462.9,395.1 L463.4,395.8" fill="none" stroke="#fbfbfb" stroke-width="0.7"/>
<path d="M454,391 L455,391.7 L456,392.4 L456.9,393.2 L457.8,394.1 L458.6,395 L459.4,395.9" fill="none" stroke="#000" stroke-width="0.7"/>
<path d="M458.1,394.4 L458.6,395 L459.1,395.5 L459.6,396.1 L460,396.7 L460.5,397.3 L460.9,398" fill="none" stroke="#fbfbfb" stroke-width="0.7"/>
<path d="M452.2,393.8 L453.1,394.4 L454,395.1 L454.8,395.8 L455.6,396.6 L456.4,397.4 L457.1,398.3" fill="none" stroke="#000" stroke-width="0.7"/>
<path d="M455.9,396.9 L456.4,397.4 L456.8,397.9 L457.2,398.5 L457.6,399 L458,399.6 L458.4,400.1" fill="none" stroke="#fbfbfb" stroke-width="0.7"/>
<path d="M431.2,382.8 L435.1,381.7 L439.1,381.1 L442.9,380.9 L446.7,381.2 L450.4,382 L453.8,383.2 L457.1,384.9 L460,387 L462.7,389.5 L465,392.4 L467,395.6 L468.6,399.1" fill="none" stroke="#000" stroke-width="2.0"/>
<path d="M421.4,451.4 L421.1,451.3 L420.8,451.2 L420.5,451.1 L420.2,451 L419.9,450.9 L419.6,450.8 L422.7,444.6 L422.9,444.7 L423.2,444.7 L423.4,444.8 L423.6,444.9 L423.9,445 L424.1,445.1 Z" fill="#000" stroke="none" stroke-width="0"/>
<path d="M411,451.3 L410,450.4 L409,449.5 L408.1,448.5 L407.3,447.4 L406.5,446.3 L405.7,445.1" fill="none" stroke="#000" stroke-width="0.6"/>
<path d="M413,448.7 L412.1,447.8 L411.3,447 L410.4,446 L409.7,445.1 L408.9,444.1 L408.3,443" fill="none" stroke="#000" stroke-width="0.6"/>
<path d="M452.5,432.2 L452.4,432.9 L452.1,433.5 L451.7,434 L451,434.3 L450.4,434.5 L449.9,434.9 L449.6,435.5 L449.5,436.2 L449.3,436.9 L448.9,437.4 L448.4,437.8 L447.8,437.9 L447.1,438.1 L446.6,438.4 L446.3,438.9 L446,439.6 L445.7,440.3 L445.3,440.8 L444.7,441 L444.1,441 L443.5,441.1 L442.9,441.2 L442.5,441.7 L442.1,442.3 L441.7,443 L441.2,443.4 L440.7,443.5 L440.1,443.4 L439.5,443.3 L438.9,443.4 L438.5,443.8 L438,444.4 L437.5,444.9 L437,445.3 L436.4,445.3 L435.9,445.1 L435.3,444.8 L434.8,444.8 L434.3,445.1 L433.8,445.6 L433.2,446.1 L432.6,446.3 L432.1,446.2 L431.6,445.9 L431.2,445.5 L430.7,445.4 L430.1,445.6 L429.5,446 L428.9,446.3 L428.4,446.5 L427.9,446.3 L427.5,445.8 L427.1,445.4 L426.7,445.1 L426.1,445.2 L425.5,445.5 L424.9,445.7 L424.3,445.8 L423.9,445.4 L423.6,444.9 L423.3,444.4 L423,444 L422.4,444 L421.8,444.1 L421.2,444.3 L420.6,444.2 L420.3,443.8 L420.1,443.2 L419.9,442.6 L419.6,442.1 L419.2,442 L418.5,442 L417.9,442 L417.4,441.8 L417.2,441.3 L417.1,440.7 L417,440 L416.8,439.5 L416.4,439.3 L415.8,439.2 L415.2,439 L414.8,438.7 L414.6,438.2 L414.7,437.5 L414.7,436.8 L414.6,436.3 L414.3,435.9 L413.7,435.7 L413.2,435.4 L412.8,435 L412.8,434.4 L412.9,433.7 L413.1,433 L413.1,432.5 L412.8,432 L412.4,431.7 L411.9,431.3 L411.6,430.8 L411.7,430.2 L412,429.5 L412.2,428.9 L412.3,428.3 L412.1,427.8 L411.7,427.3 L411.4,426.8 L411.2,426.3 L411.4,425.7 L411.7,425 L412.1,424.4 L412.3,423.8 L412.2,423.3 L411.9,422.7 L411.6,422.2 L411.6,421.6 L411.8,421 L412.3,420.4 L412.8,419.8 L413.1,419.3 L413.1,418.7 L412.9,418.1 L412.7,417.4 L412.8,416.8 L413.1,416.3 L413.6,415.8 L414.2,415.3 L414.5,414.8 L414.6,414.2 L414.6,413.5 L414.5,412.8 L414.7,412.2 L415.1,411.7 L415.7,411.3 L416.3,410.9 L416.7,410.5 L416.9,409.9 L416.9,409.2 L417,408.5 L417.3,407.9 L417.7,407.4 L418.4,407.1 L419,406.9 L419.5,406.5 L419.8,405.9 L419.9,405.2 L420.1,404.5 L420.5,404 L421,403.6 L421.6,403.5 L422.3,403.3 L422.8,403 L423.1,402.5 L423.4,401.8 L423.7,401.1 L424.1,400.6 L424.7,400.4 L425.3,400.4 L425.9,400.3 L426.5,400.2 L426.9,399.7 L427.3,399.1 L427.7,398.4 L428.2,398 L428.7,397.9 L429.3,398 L429.9,398.1 L430.5,398 L430.9,397.6 L431.4,397 L431.9,396.5 L432.4,396.1 L433,396.1 L433.5,396.3 L434.1,396.6 L434.6,396.6 L435.1,396.3 L435.6,395.8 L436.2,395.3 L436.8,395.1 L437.3,395.2 L437.8,395.5 L438.2,395.9 L438.7,396 L439.3,395.8 L439.9,395.4 L440.5,395.1 L441,394.9 L441.5,395.1 L441.9,395.6 L442.3,396 L442.7,396.3 L443.3,396.2 L443.9,395.9 L444.5,395.7 L445.1,395.6 L445.5,396 L445.8,396.5 L446.1,397 L446.4,397.4 L447,397.4 L447.6,397.3 L448.2,397.1 L448.8,397.2 L449.1,397.6 L449.3,398.2 L449.5,398.8 L449.8,399.3 L450.2,399.4 L450.9,399.4 L451.5,399.4 L452,399.6 L452.2,400.1 L452.3,400.7 L452.4,401.4 L452.6,401.9 L453,402.1 L453.6,402.2 L454.2,402.4 L454.6,402.7 L454.8,403.2 L454.7,403.9 L454.7,404.6 L454.8,405.1 L455.1,405.5 L455.7,405.7 L456.2,406 L456.6,406.4 L456.6,407 L456.5,407.7 L456.3,408.4 L456.3,408.9 L456.6,409.4 L457,409.7 L457.5,410.1 L457.8,410.6 L457.7,411.2 L457.4,411.9 L457.2,412.5 L457.1,413.1 L457.3,413.6 L457.7,414.1 L458,414.6 L458.2,415.1 L458,415.7 L457.7,416.4 L457.3,417 L457.1,417.6 L457.2,418.1 L457.5,418.7 L457.8,419.2 L457.8,419.8 L457.6,420.4 L457.1,421 L456.6,421.6 L456.3,422.1 L456.3,422.7 L456.5,423.3 L456.7,424 L456.6,424.6 L456.3,425.1 L455.8,425.6 L455.2,426.1 L454.9,426.6 L454.8,427.2 L454.8,427.9 L454.9,428.6 L454.7,429.2 L454.3,429.7 L453.7,430.1 L453.1,430.5 L452.7,430.9 L452.5,431.5 L452.5,432.2 Z" fill="none" stroke="#000" stroke-width="1.3"/>
<path d="M500.1,459.3 L499.9,460.9 L499.3,462.2 L498.3,463.1 L496.9,463.7 L495.6,464.3 L494.5,465.1 L493.8,466.3 L493.4,467.8 L492.9,469.3 L492,470.5 L490.9,471.2 L489.5,471.5 L488.1,471.7 L486.9,472.2 L486,473.2 L485.3,474.7 L484.5,476.1 L483.5,477.1 L482.3,477.4 L480.9,477.3 L479.6,477.2 L478.4,477.4 L477.4,478.2 L476.4,479.5 L475.3,480.7 L474.2,481.5 L472.9,481.5 L471.7,481.1 L470.6,480.5 L469.4,480.4 L468.3,481 L467.1,482 L465.8,483 L464.6,483.5 L463.5,483.2 L462.5,482.4 L461.5,481.5 L460.5,481.1 L459.3,481.4 L458,482.1 L456.6,482.8 L455.4,482.9 L454.4,482.3 L453.7,481.2 L453,480.1 L452.1,479.4 L451,479.4 L449.6,479.8 L448.2,480.1 L447,479.9 L446.3,479 L445.8,477.7 L445.4,476.4 L444.8,475.4 L443.8,475.1 L442.4,475.1 L441,475 L440,474.5 L439.5,473.5 L439.4,472 L439.3,470.5 L439,469.4 L438.1,468.8 L436.8,468.4 L435.6,468 L434.8,467.2 L434.5,465.9 L434.8,464.4 L435,462.9 L435,461.6 L434.3,460.7 L433.2,460 L432.2,459.3 L431.6,458.2 L431.7,456.9 L432.2,455.4 L432.8,453.9 L433,452.6 L432.6,451.5 L431.8,450.5 L431,449.5 L430.7,448.3 L431,446.9 L431.9,445.5 L432.7,444.1 L433.2,442.9 L433.1,441.6 L432.5,440.4 L432.1,439.1 L432,437.8 L432.7,436.5 L433.8,435.3 L434.9,434.1 L435.6,433 L435.7,431.7 L435.5,430.2 L435.4,428.8 L435.6,427.4 L436.5,426.3 L437.8,425.3 L439,424.5 L440,423.4 L440.4,422.2 L440.5,420.7 L440.7,419.1 L441.3,417.8 L442.3,416.9 L443.7,416.3 L445,415.7 L446.1,414.9 L446.8,413.7 L447.2,412.2 L447.7,410.7 L448.6,409.5 L449.7,408.8 L451.1,408.5 L452.5,408.3 L453.7,407.8 L454.6,406.8 L455.3,405.3 L456.1,403.9 L457.1,402.9 L458.3,402.6 L459.7,402.7 L461,402.8 L462.2,402.6 L463.2,401.8 L464.2,400.5 L465.3,399.3 L466.4,398.5 L467.7,398.5 L468.9,398.9 L470,399.5 L471.2,399.6 L472.3,399 L473.5,398 L474.8,397 L476,396.5 L477.1,396.8 L478.1,397.6 L479.1,398.5 L480.1,398.9 L481.3,398.6 L482.6,397.9 L484,397.2 L485.2,397.1 L486.2,397.7 L486.9,398.8 L487.6,399.9 L488.5,400.6 L489.6,400.6 L491,400.2 L492.4,399.9 L493.6,400.1 L494.3,401 L494.8,402.3 L495.2,403.6 L495.8,404.6 L496.8,404.9 L498.2,404.9 L499.6,405 L500.6,405.5 L501.1,406.5 L501.2,408 L501.3,409.5 L501.6,410.6 L502.5,411.2 L503.8,411.6 L505,412 L505.8,412.8 L506.1,414.1 L505.8,415.6 L505.6,417.1 L505.6,418.4 L506.3,419.3 L507.4,420 L508.4,420.7 L509,421.8 L508.9,423.1 L508.4,424.6 L507.8,426.1 L507.6,427.4 L508,428.5 L508.8,429.5 L509.6,430.5 L509.9,431.7 L509.6,433.1 L508.7,434.5 L507.9,435.9 L507.4,437.1 L507.5,438.4 L508.1,439.6 L508.5,440.9 L508.6,442.2 L507.9,443.5 L506.8,444.7 L505.7,445.9 L505,447 L504.9,448.3 L505.1,449.8 L505.2,451.2 L505,452.6 L504.1,453.7 L502.8,454.7 L501.6,455.5 L500.6,456.6 L500.2,457.8 L500.1,459.3 Z" fill="#fbfbfb" stroke="#000" stroke-width="1.8"/>
<path d="M465.9,469.2 L463.2,469.2 L460.6,468.9 L458,468.2 L455.6,467.3 L453.4,466 L451.3,464.5 L449.5,462.7 L447.9,460.6 L446.5,458.3 L445.4,455.9 L444.5,453.2 L444,450.4 L443.7,447.5 L443.7,444.5 L444.1,441.4 L444.7,438.4 L445.5,435.3 L446.7,432.4 L448.1,429.4 L449.7,426.7 L451.6,424 L453.7,421.5 L456,419.3 L458.4,417.2 L460.9,415.4 L463.6,413.9 L466.3,412.7 L469.1,411.7 L471.9,411.1 L474.7,410.8 L477.4,410.8 L480,411.1 L482.6,411.8 L485,412.7 L487.2,414 L489.3,415.5 L491.1,417.3 L492.7,419.4 L494.1,421.7 L495.2,424.1 L496.1,426.8 L496.6,429.6 L496.9,432.5 L496.9,435.5 L496.5,438.6" fill="none" stroke="#000" stroke-width="1.3"/>
<ellipse cx="491.8" cy="453.1" rx="33.3" ry="42.2" transform="rotate(33 491.8 453.1)" fill="#fbfbfb" stroke="#000" stroke-width="1.1"/>
<path d="M460.3,479.6 L458.6,476.3 L457.3,472.8 L456.3,469 L455.8,465 L455.6,460.9 L455.9,456.8 L456.5,452.5 L457.6,448.3 L459.1,444.1 L460.9,440.1 L463.1,436.2 L465.6,432.4 L468.4,428.9 L471.4,425.7 L474.7,422.8 L478.2,420.2 L481.8,418.1 L485.6,416.3 L489.4,414.9 L493.3,413.9 L497.1,413.4 L495.2,427.9 L492.7,428.2 L490.3,428.8 L487.9,429.7 L485.5,430.8 L483.2,432.2 L481,433.9 L478.9,435.7 L476.9,437.8 L475.1,440 L473.6,442.3 L472.2,444.8 L471,447.4 L470.1,450.1 L469.4,452.7 L469,455.4 L468.8,458.1 L468.9,460.7 L469.3,463.2 L469.9,465.6 L470.7,467.9 L471.8,469.9 Z" fill="#000" stroke="none" stroke-width="0"/>
<path d="M475.2,426.8 L478.2,424.5 L481.2,422.5 L484.4,420.7 L487.7,419.4 L491,418.3 L494.3,417.6" fill="none" stroke="#fbfbfb" stroke-width="1.0"/>
<path d="M478.4,427.4 L480.9,425.6 L483.6,424 L486.3,422.7 L489.1,421.6 L491.8,420.8 L494.6,420.3" fill="none" stroke="#fbfbfb" stroke-width="1.1"/>
<path d="M482.1,427.7 L484.1,426.5 L486.1,425.5 L488.2,424.7 L490.2,424 L492.3,423.4 L494.4,423.1" fill="none" stroke="#fbfbfb" stroke-width="1.0"/>
<path d="M486.3,427.8 L487.5,427.3 L488.8,426.8 L490,426.4 L491.2,426 L492.5,425.7 L493.8,425.5" fill="none" stroke="#fbfbfb" stroke-width="0.7"/>
<path d="M464.5,475.5 L463.7,474 L463,472.5 L462.4,470.9 L461.9,469.3 L461.4,467.6 L461.1,465.8" fill="none" stroke="#fbfbfb" stroke-width="0.9"/>
<path d="M467,473.4 L466.4,472.2 L465.8,471 L465.3,469.7 L464.8,468.4 L464.5,467 L464.1,465.6" fill="none" stroke="#fbfbfb" stroke-width="0.9"/>
<path d="M462,476.8 L461.5,476 L461.1,475.1 L460.7,474.2 L460.4,473.3 L460,472.4 L459.7,471.5" fill="none" stroke="#fbfbfb" stroke-width="0.6"/>
<path d="M466.5,465 L466.1,462.1 L465.9,459.1 L466.1,455.9 L466.6,452.8 L467.4,449.6 L468.5,446.5 L469.8,443.5 L471.5,440.6 L473.4,437.8 L475.5,435.3 L477.9,432.9" fill="none" stroke="#fbfbfb" stroke-width="0.9" stroke-dasharray="4 2.5"/>
<path d="M461.5,454.8 L462.2,450.8 L463.4,446.9 L465,443.1 L466.9,439.4 L469.2,435.9 L471.8,432.7" fill="none" stroke="#fbfbfb" stroke-width="0.5" stroke-dasharray="2 4"/>
<path d="M507.2,421.4 L507.7,421.6 L508.2,421.8 L508.8,422 L509.3,422.3 L509.8,422.6 L510.3,422.9 L505.8,430.2 L505.4,430 L505,429.8 L504.6,429.6 L504.2,429.4 L503.8,429.3 L503.4,429.1 Z" fill="#000" stroke="none" stroke-width="0"/>
<path d="M519.7,421.8 L520.9,423.2 L522.1,424.7 L523.1,426.3 L524.1,428 L524.9,429.7 L525.7,431.5 L513.3,439.4 L512.8,438.3 L512.3,437.1 L511.7,436.1 L511,435.1 L510.3,434.1 L509.5,433.2 Z" fill="#000" stroke="none" stroke-width="0"/>
<path d="M512.9,420.5 L514,421.3 L515.1,422.1 L516.1,423 L517.1,423.9 L518,424.9 L518.9,426" fill="none" stroke="#000" stroke-width="0.7"/>
<path d="M517.5,424.3 L518,424.9 L518.5,425.5 L519.1,426.2 L519.5,426.8 L520,427.5 L520.5,428.2" fill="none" stroke="#fbfbfb" stroke-width="0.7"/>
<path d="M511.1,423.4 L512.1,424.1 L513.1,424.8 L514,425.6 L514.9,426.5 L515.7,427.4 L516.5,428.3" fill="none" stroke="#000" stroke-width="0.7"/>
<path d="M515.2,426.8 L515.7,427.4 L516.2,427.9 L516.7,428.5 L517.1,429.1 L517.6,429.7 L518,430.4" fill="none" stroke="#fbfbfb" stroke-width="0.7"/>
<path d="M509.3,426.2 L510.2,426.8 L511.1,427.5 L511.9,428.2 L512.7,429 L513.5,429.8 L514.2,430.7" fill="none" stroke="#000" stroke-width="0.7"/>
<path d="M513,429.3 L513.5,429.8 L513.9,430.3 L514.3,430.9 L514.7,431.4 L515.1,432 L515.5,432.5" fill="none" stroke="#fbfbfb" stroke-width="0.7"/>
<path d="M488.3,415.2 L492.2,414.1 L496.2,413.5 L500,413.3 L503.8,413.6 L507.5,414.4 L510.9,415.6 L514.2,417.3 L517.1,419.4 L519.8,421.9 L522.1,424.8 L524.1,428 L525.7,431.5" fill="none" stroke="#000" stroke-width="2.0"/>
<path d="M478.5,483.8 L478.2,483.7 L477.9,483.6 L477.6,483.5 L477.3,483.4 L477,483.3 L476.7,483.2 L479.8,477 L480,477.1 L480.3,477.1 L480.5,477.2 L480.7,477.3 L481,477.4 L481.2,477.5 Z" fill="#000" stroke="none" stroke-width="0"/>
<path d="M468.1,483.7 L467.1,482.8 L466.1,481.9 L465.2,480.9 L464.4,479.8 L463.6,478.7 L462.8,477.5" fill="none" stroke="#000" stroke-width="0.6"/>
<path d="M470.1,481.1 L469.2,480.2 L468.4,479.4 L467.5,478.4 L466.8,477.5 L466,476.5 L465.4,475.4" fill="none" stroke="#000" stroke-width="0.6"/>
<path d="M509.6,464.6 L509.5,465.3 L509.2,465.9 L508.8,466.4 L508.1,466.7 L507.5,466.9 L507,467.3 L506.7,467.9 L506.6,468.6 L506.4,469.3 L506,469.8 L505.5,470.2 L504.9,470.3 L504.2,470.5 L503.7,470.8 L503.4,471.3 L503.1,472 L502.8,472.7 L502.4,473.2 L501.8,473.4 L501.2,473.4 L500.6,473.5 L500,473.6 L499.6,474.1 L499.2,474.7 L498.8,475.4 L498.3,475.8 L497.8,475.9 L497.2,475.8 L496.6,475.7 L496,475.8 L495.6,476.2 L495.1,476.8 L494.6,477.3 L494.1,477.7 L493.5,477.7 L493,477.5 L492.4,477.2 L491.9,477.2 L491.4,477.5 L490.9,478 L490.3,478.5 L489.7,478.7 L489.2,478.6 L488.7,478.3 L488.3,477.9 L487.8,477.8 L487.2,478 L486.6,478.4 L486,478.7 L485.5,478.9 L485,478.7 L484.6,478.2 L484.2,477.8 L483.8,477.5 L483.2,477.6 L482.6,477.9 L482,478.1 L481.4,478.2 L481,477.8 L480.7,477.3 L480.4,476.8 L480.1,476.4 L479.5,476.4 L478.9,476.5 L478.3,476.7 L477.7,476.6 L477.4,476.2 L477.2,475.6 L477,475 L476.7,474.5 L476.3,474.4 L475.6,474.4 L475,474.4 L474.5,474.2 L474.3,473.7 L474.2,473.1 L474.1,472.4 L473.9,471.9 L473.5,471.7 L472.9,471.6 L472.3,471.4 L471.9,471.1 L471.7,470.6 L471.8,469.9 L471.8,469.2 L471.7,468.7 L471.4,468.3 L470.8,468.1 L470.3,467.8 L469.9,467.4 L469.9,466.8 L470,466.1 L470.2,465.4 L470.2,464.9 L469.9,464.4 L469.5,464.1 L469,463.7 L468.7,463.2 L468.8,462.6 L469.1,461.9 L469.3,461.3 L469.4,460.7 L469.2,460.2 L468.8,459.7 L468.5,459.2 L468.3,458.7 L468.5,458.1 L468.8,457.4 L469.2,456.8 L469.4,456.2 L469.3,455.7 L469,455.1 L468.7,454.6 L468.7,454 L468.9,453.4 L469.4,452.8 L469.9,452.2 L470.2,451.7 L470.2,451.1 L470,450.5 L469.8,449.8 L469.9,449.2 L470.2,448.7 L470.7,448.2 L471.3,447.7 L471.6,447.2 L471.7,446.6 L471.7,445.9 L471.6,445.2 L471.8,444.6 L472.2,444.1 L472.8,443.7 L473.4,443.3 L473.8,442.9 L474,442.3 L474,441.6 L474.1,440.9 L474.4,440.3 L474.8,439.8 L475.5,439.5 L476.1,439.3 L476.6,438.9 L476.9,438.3 L477,437.6 L477.2,436.9 L477.6,436.4 L478.1,436 L478.7,435.9 L479.4,435.7 L479.9,435.4 L480.2,434.9 L480.5,434.2 L480.8,433.5 L481.2,433 L481.8,432.8 L482.4,432.8 L483,432.7 L483.6,432.6 L484,432.1 L484.4,431.5 L484.8,430.8 L485.3,430.4 L485.8,430.3 L486.4,430.4 L487,430.5 L487.6,430.4 L488,430 L488.5,429.4 L489,428.9 L489.5,428.5 L490.1,428.5 L490.6,428.7 L491.2,429 L491.7,429 L492.2,428.7 L492.7,428.2 L493.3,427.7 L493.9,427.5 L494.4,427.6 L494.9,427.9 L495.3,428.3 L495.8,428.4 L496.4,428.2 L497,427.8 L497.6,427.5 L498.1,427.3 L498.6,427.5 L499,428 L499.4,428.4 L499.8,428.7 L500.4,428.6 L501,428.3 L501.6,428.1 L502.2,428 L502.6,428.4 L502.9,428.9 L503.2,429.4 L503.5,429.8 L504.1,429.8 L504.7,429.7 L505.3,429.5 L505.9,429.6 L506.2,430 L506.4,430.6 L506.6,431.2 L506.9,431.7 L507.3,431.8 L508,431.8 L508.6,431.8 L509.1,432 L509.3,432.5 L509.4,433.1 L509.5,433.8 L509.7,434.3 L510.1,434.5 L510.7,434.6 L511.3,434.8 L511.7,435.1 L511.9,435.6 L511.8,436.3 L511.8,437 L511.9,437.5 L512.2,437.9 L512.8,438.1 L513.3,438.4 L513.7,438.8 L513.7,439.4 L513.6,440.1 L513.4,440.8 L513.4,441.3 L513.7,441.8 L514.1,442.1 L514.6,442.5 L514.9,443 L514.8,443.6 L514.5,444.3 L514.3,444.9 L514.2,445.5 L514.4,446 L514.8,446.5 L515.1,447 L515.3,447.5 L515.1,448.1 L514.8,448.8 L514.4,449.4 L514.2,450 L514.3,450.5 L514.6,451.1 L514.9,451.6 L514.9,452.2 L514.7,452.8 L514.2,453.4 L513.7,454 L513.4,454.5 L513.4,455.1 L513.6,455.7 L513.8,456.4 L513.7,457 L513.4,457.5 L512.9,458 L512.3,458.5 L512,459 L511.9,459.6 L511.9,460.3 L512,461 L511.8,461.6 L511.4,462.1 L510.8,462.5 L510.2,462.9 L509.8,463.3 L509.6,463.9 L509.6,464.6 Z" fill="none" stroke="#000" stroke-width="1.3"/>
<path d="M556,490.7 L555.9,492.2 L555.3,493.5 L554.2,494.5 L552.9,495.1 L551.5,495.7 L550.4,496.5 L549.8,497.6 L549.3,499.2 L548.8,500.7 L548,501.9 L546.8,502.6 L545.4,502.8 L544,503 L542.9,503.6 L542,504.6 L541.2,506 L540.4,507.4 L539.4,508.4 L538.2,508.8 L536.8,508.7 L535.5,508.6 L534.3,508.8 L533.3,509.6 L532.3,510.9 L531.2,512.1 L530.1,512.9 L528.8,512.9 L527.6,512.4 L526.5,511.9 L525.3,511.8 L524.2,512.4 L523,513.4 L521.7,514.4 L520.5,514.8 L519.4,514.6 L518.3,513.8 L517.4,512.9 L516.4,512.5 L515.2,512.8 L513.8,513.5 L512.5,514.2 L511.2,514.3 L510.3,513.7 L509.5,512.6 L508.8,511.5 L508,510.8 L506.8,510.8 L505.4,511.1 L504,511.5 L502.9,511.3 L502.1,510.4 L501.7,509.1 L501.3,507.7 L500.6,506.8 L499.6,506.5 L498.2,506.5 L496.9,506.4 L495.9,505.9 L495.3,504.8 L495.2,503.3 L495.2,501.9 L494.8,500.8 L493.9,500.1 L492.7,499.8 L491.4,499.3 L490.6,498.5 L490.4,497.3 L490.6,495.7 L490.9,494.2 L490.8,493 L490.1,492.1 L489.1,491.4 L488,490.6 L487.4,489.6 L487.5,488.2 L488,486.7 L488.6,485.2 L488.8,483.9 L488.4,482.8 L487.6,481.8 L486.8,480.8 L486.5,479.6 L486.9,478.2 L487.7,476.8 L488.6,475.5 L489,474.2 L488.9,472.9 L488.4,471.7 L487.9,470.4 L487.9,469.1 L488.5,467.8 L489.6,466.6 L490.7,465.4 L491.4,464.2 L491.6,462.9 L491.3,461.5 L491.2,460.1 L491.5,458.7 L492.3,457.6 L493.6,456.6 L494.9,455.7 L495.8,454.7 L496.2,453.4 L496.4,451.9 L496.5,450.4 L497.1,449.1 L498.2,448.1 L499.5,447.5 L500.9,446.9 L502,446.1 L502.6,445 L503.1,443.4 L503.6,441.9 L504.4,440.7 L505.6,440 L507,439.8 L508.4,439.6 L509.5,439 L510.4,438 L511.2,436.6 L512,435.2 L513,434.2 L514.2,433.8 L515.6,433.9 L516.9,434 L518.1,433.8 L519.1,433 L520.1,431.7 L521.2,430.5 L522.3,429.7 L523.6,429.7 L524.8,430.2 L525.9,430.7 L527.1,430.8 L528.2,430.2 L529.4,429.2 L530.7,428.2 L531.9,427.8 L533,428 L534.1,428.8 L535,429.7 L536,430.1 L537.2,429.8 L538.6,429.1 L539.9,428.4 L541.2,428.3 L542.1,428.9 L542.9,430 L543.6,431.1 L544.4,431.8 L545.6,431.8 L547,431.5 L548.4,431.1 L549.5,431.3 L550.3,432.2 L550.7,433.5 L551.1,434.9 L551.8,435.8 L552.8,436.1 L554.2,436.1 L555.5,436.2 L556.5,436.7 L557.1,437.8 L557.2,439.3 L557.2,440.7 L557.6,441.8 L558.5,442.5 L559.7,442.8 L561,443.3 L561.8,444.1 L562,445.3 L561.8,446.9 L561.5,448.4 L561.6,449.6 L562.3,450.5 L563.3,451.2 L564.4,452 L565,453 L564.9,454.4 L564.4,455.9 L563.8,457.4 L563.6,458.7 L564,459.8 L564.8,460.8 L565.6,461.8 L565.9,463 L565.5,464.4 L564.7,465.8 L563.8,467.1 L563.4,468.4 L563.5,469.7 L564,470.9 L564.5,472.2 L564.5,473.5 L563.9,474.8 L562.8,476 L561.7,477.2 L561,478.4 L560.8,479.7 L561.1,481.1 L561.2,482.5 L560.9,483.9 L560.1,485 L558.8,486 L557.5,486.9 L556.6,487.9 L556.2,489.2 L556,490.7 Z" fill="#fbfbfb" stroke="#000" stroke-width="1.8"/>
<path d="M521.8,500.6 L519.1,500.6 L516.5,500.2 L513.9,499.6 L511.5,498.6 L509.3,497.4 L507.2,495.8 L505.4,494 L503.7,492 L502.4,489.7 L501.2,487.2 L500.4,484.5 L499.8,481.7 L499.6,478.8 L499.6,475.8 L499.9,472.8 L500.5,469.7 L501.4,466.6 L502.5,463.6 L503.9,460.7 L505.6,457.9 L507.5,455.3 L509.6,452.8 L511.8,450.5 L514.3,448.5 L516.8,446.7 L519.5,445.2 L522.2,443.9 L525,443 L527.8,442.3 L530.6,442 L533.3,442 L535.9,442.4 L538.5,443 L540.9,444 L543.1,445.2 L545.2,446.8 L547,448.6 L548.7,450.6 L550,452.9 L551.2,455.4 L552,458.1 L552.6,460.9 L552.8,463.8 L552.8,466.8 L552.5,469.8" fill="none" stroke="#000" stroke-width="1.3"/>
<ellipse cx="552" cy="483.3" rx="33.3" ry="42.2" transform="rotate(33 552 483.3)" fill="#fbfbfb" stroke="#000" stroke-width="1.1"/>
<path d="M520.5,509.8 L518.8,506.5 L517.5,503 L516.5,499.2 L516,495.2 L515.8,491.1 L516.1,487 L516.7,482.7 L517.8,478.5 L519.3,474.3 L521.1,470.3 L523.3,466.4 L525.8,462.6 L528.6,459.1 L531.6,455.9 L534.9,453 L538.4,450.4 L542,448.3 L545.8,446.5 L549.6,445.1 L553.5,444.1 L557.3,443.6 L555.4,458.1 L552.9,458.4 L550.5,459 L548.1,459.9 L545.7,461 L543.4,462.4 L541.2,464.1 L539.1,465.9 L537.1,468 L535.3,470.2 L533.8,472.5 L532.4,475 L531.2,477.6 L530.3,480.3 L529.6,482.9 L529.2,485.6 L529,488.3 L529.1,490.9 L529.5,493.4 L530.1,495.8 L530.9,498.1 L532,500.1 Z" fill="#000" stroke="none" stroke-width="0"/>
<path d="M535.4,457 L538.4,454.7 L541.4,452.7 L544.6,450.9 L547.9,449.6 L551.2,448.5 L554.5,447.8" fill="none" stroke="#fbfbfb" stroke-width="1.0"/>
<path d="M538.6,457.6 L541.1,455.8 L543.8,454.2 L546.5,452.9 L549.3,451.8 L552,451 L554.8,450.5" fill="none" stroke="#fbfbfb" stroke-width="1.1"/>
<path d="M542.3,457.9 L544.3,456.7 L546.3,455.7 L548.4,454.9 L550.4,454.2 L552.5,453.6 L554.6,453.3" fill="none" stroke="#fbfbfb" stroke-width="1.0"/>
<path d="M546.5,458 L547.7,457.5 L549,457 L550.2,456.6 L551.4,456.2 L552.7,455.9 L554,455.7" fill="none" stroke="#fbfbfb" stroke-width="0.7"/>
<path d="M524.7,505.7 L523.9,504.2 L523.2,502.7 L522.6,501.1 L522.1,499.5 L521.6,497.8 L521.3,496" fill="none" stroke="#fbfbfb" stroke-width="0.9"/>
<path d="M527.2,503.6 L526.6,502.4 L526,501.2 L525.5,499.9 L525,498.6 L524.7,497.2 L524.3,495.8" fill="none" stroke="#fbfbfb" stroke-width="0.9"/>
<path d="M522.2,507 L521.7,506.2 L521.3,505.3 L520.9,504.4 L520.6,503.5 L520.2,502.6 L519.9,501.7" fill="none" stroke="#fbfbfb" stroke-width="0.6"/>
<path d="M526.7,495.2 L526.3,492.3 L526.1,489.3 L526.3,486.1 L526.8,483 L527.6,479.8 L528.7,476.7 L530,473.7 L531.7,470.8 L533.6,468 L535.7,465.5 L538.1,463.1" fill="none" stroke="#fbfbfb" stroke-width="0.9" stroke-dasharray="4 2.5"/>
<path d="M521.7,485 L522.4,481 L523.6,477.1 L525.2,473.3 L527.1,469.6 L529.4,466.1 L532,462.9" fill="none" stroke="#fbfbfb" stroke-width="0.5" stroke-dasharray="2 4"/>
<path d="M567.4,451.6 L567.9,451.8 L568.4,452 L569,452.2 L569.5,452.5 L570,452.8 L570.5,453.1 L566,460.4 L565.6,460.2 L565.2,460 L564.8,459.8 L564.4,459.6 L564,459.5 L563.6,459.3 Z" fill="#000" stroke="none" stroke-width="0"/>
<path d="M579.9,452 L581.1,453.4 L582.3,454.9 L583.3,456.5 L584.3,458.2 L585.1,459.9 L585.9,461.7 L573.5,469.6 L573,468.5 L572.5,467.3 L571.9,466.3 L571.2,465.3 L570.5,464.3 L569.7,463.4 Z" fill="#000" stroke="none" stroke-width="0"/>
<path d="M573.1,450.7 L574.2,451.5 L575.3,452.3 L576.3,453.2 L577.3,454.1 L578.2,455.1 L579.1,456.2" fill="none" stroke="#000" stroke-width="0.7"/>
<path d="M577.7,454.5 L578.2,455.1 L578.7,455.7 L579.3,456.4 L579.7,457 L580.2,457.7 L580.7,458.4" fill="none" stroke="#fbfbfb" stroke-width="0.7"/>
<path d="M571.3,453.6 L572.3,454.3 L573.3,455 L574.2,455.8 L575.1,456.7 L575.9,457.6 L576.7,458.5" fill="none" stroke="#000" stroke-width="0.7"/>
<path d="M575.4,457 L575.9,457.6 L576.4,458.1 L576.9,458.7 L577.3,459.3 L577.8,459.9 L578.2,460.6" fill="none" stroke="#fbfbfb" stroke-width="0.7"/>
<path d="M569.5,456.4 L570.4,457 L571.3,457.7 L572.1,458.4 L572.9,459.2 L573.7,460 L574.4,460.9" fill="none" stroke="#000" stroke-width="0.7"/>
<path d="M573.2,459.5 L573.7,460 L574.1,460.5 L574.5,461.1 L574.9,461.6 L575.3,462.2 L575.7,462.7" fill="none" stroke="#fbfbfb" stroke-width="0.7"/>
<path d="M548.5,445.4 L552.4,444.3 L556.4,443.7 L560.2,443.5 L564,443.8 L567.7,444.6 L571.1,445.8 L574.4,447.5 L577.3,449.6 L580,452.1 L582.3,455 L584.3,458.2 L585.9,461.7" fill="none" stroke="#000" stroke-width="2.0"/>
<path d="M538.7,514 L538.4,513.9 L538.1,513.8 L537.8,513.7 L537.5,513.6 L537.2,513.5 L536.9,513.4 L540,507.2 L540.2,507.3 L540.5,507.3 L540.7,507.4 L540.9,507.5 L541.2,507.6 L541.4,507.7 Z" fill="#000" stroke="none" stroke-width="0"/>
<path d="M528.3,513.9 L527.3,513 L526.3,512.1 L525.4,511.1 L524.6,510 L523.8,508.9 L523,507.7" fill="none" stroke="#000" stroke-width="0.6"/>
<path d="M530.3,511.3 L529.4,510.4 L528.6,509.6 L527.7,508.6 L527,507.7 L526.2,506.7 L525.6,505.6" fill="none" stroke="#000" stroke-width="0.6"/>
<path d="M569.8,494.8 L569.7,495.5 L569.4,496.1 L569,496.6 L568.3,496.9 L567.7,497.1 L567.2,497.5 L566.9,498.1 L566.8,498.8 L566.6,499.5 L566.2,500 L565.7,500.4 L565.1,500.5 L564.4,500.7 L563.9,501 L563.6,501.5 L563.3,502.2 L563,502.9 L562.6,503.4 L562,503.6 L561.4,503.6 L560.8,503.7 L560.2,503.8 L559.8,504.3 L559.4,504.9 L559,505.6 L558.5,506 L558,506.1 L557.4,506 L556.8,505.9 L556.2,506 L555.8,506.4 L555.3,507 L554.8,507.5 L554.3,507.9 L553.7,507.9 L553.2,507.7 L552.6,507.4 L552.1,507.4 L551.6,507.7 L551.1,508.2 L550.5,508.7 L549.9,508.9 L549.4,508.8 L548.9,508.5 L548.5,508.1 L548,508 L547.4,508.2 L546.8,508.6 L546.2,508.9 L545.7,509.1 L545.2,508.9 L544.8,508.4 L544.4,508 L544,507.7 L543.4,507.8 L542.8,508.1 L542.2,508.3 L541.6,508.4 L541.2,508 L540.9,507.5 L540.6,507 L540.3,506.6 L539.7,506.6 L539.1,506.7 L538.5,506.9 L537.9,506.8 L537.6,506.4 L537.4,505.8 L537.2,505.2 L536.9,504.7 L536.5,504.6 L535.8,504.6 L535.2,504.6 L534.7,504.4 L534.5,503.9 L534.4,503.3 L534.3,502.6 L534.1,502.1 L533.7,501.9 L533.1,501.8 L532.5,501.6 L532.1,501.3 L531.9,500.8 L532,500.1 L532,499.4 L531.9,498.9 L531.6,498.5 L531,498.3 L530.5,498 L530.1,497.6 L530.1,497 L530.2,496.3 L530.4,495.6 L530.4,495.1 L530.1,494.6 L529.7,494.3 L529.2,493.9 L528.9,493.4 L529,492.8 L529.3,492.1 L529.5,491.5 L529.6,490.9 L529.4,490.4 L529,489.9 L528.7,489.4 L528.5,488.9 L528.7,488.3 L529,487.6 L529.4,487 L529.6,486.4 L529.5,485.9 L529.2,485.3 L528.9,484.8 L528.9,484.2 L529.1,483.6 L529.6,483 L530.1,482.4 L530.4,481.9 L530.4,481.3 L530.2,480.7 L530,480 L530.1,479.4 L530.4,478.9 L530.9,478.4 L531.5,477.9 L531.8,477.4 L531.9,476.8 L531.9,476.1 L531.8,475.4 L532,474.8 L532.4,474.3 L533,473.9 L533.6,473.5 L534,473.1 L534.2,472.5 L534.2,471.8 L534.3,471.1 L534.6,470.5 L535,470 L535.7,469.7 L536.3,469.5 L536.8,469.1 L537.1,468.5 L537.2,467.8 L537.4,467.1 L537.8,466.6 L538.3,466.2 L538.9,466.1 L539.6,465.9 L540.1,465.6 L540.4,465.1 L540.7,464.4 L541,463.7 L541.4,463.2 L542,463 L542.6,463 L543.2,462.9 L543.8,462.8 L544.2,462.3 L544.6,461.7 L545,461 L545.5,460.6 L546,460.5 L546.6,460.6 L547.2,460.7 L547.8,460.6 L548.2,460.2 L548.7,459.6 L549.2,459.1 L549.7,458.7 L550.3,458.7 L550.8,458.9 L551.4,459.2 L551.9,459.2 L552.4,458.9 L552.9,458.4 L553.5,457.9 L554.1,457.7 L554.6,457.8 L555.1,458.1 L555.5,458.5 L556,458.6 L556.6,458.4 L557.2,458 L557.8,457.7 L558.3,457.5 L558.8,457.7 L559.2,458.2 L559.6,458.6 L560,458.9 L560.6,458.8 L561.2,458.5 L561.8,458.3 L562.4,458.2 L562.8,458.6 L563.1,459.1 L563.4,459.6 L563.7,460 L564.3,460 L564.9,459.9 L565.5,459.7 L566.1,459.8 L566.4,460.2 L566.6,460.8 L566.8,461.4 L567.1,461.9 L567.5,462 L568.2,462 L568.8,462 L569.3,462.2 L569.5,462.7 L569.6,463.3 L569.7,464 L569.9,464.5 L570.3,464.7 L570.9,464.8 L571.5,465 L571.9,465.3 L572.1,465.8 L572,466.5 L572,467.2 L572.1,467.7 L572.4,468.1 L573,468.3 L573.5,468.6 L573.9,469 L573.9,469.6 L573.8,470.3 L573.6,471 L573.6,471.5 L573.9,472 L574.3,472.3 L574.8,472.7 L575.1,473.2 L575,473.8 L574.7,474.5 L574.5,475.1 L574.4,475.7 L574.6,476.2 L575,476.7 L575.3,477.2 L575.5,477.7 L575.3,478.3 L575,479 L574.6,479.6 L574.4,480.2 L574.5,480.7 L574.8,481.3 L575.1,481.8 L575.1,482.4 L574.9,483 L574.4,483.6 L573.9,484.2 L573.6,484.7 L573.6,485.3 L573.8,485.9 L574,486.6 L573.9,487.2 L573.6,487.7 L573.1,488.2 L572.5,488.7 L572.2,489.2 L572.1,489.8 L572.1,490.5 L572.2,491.2 L572,491.8 L571.6,492.3 L571,492.7 L570.4,493.1 L570,493.5 L569.8,494.1 L569.8,494.8 Z" fill="none" stroke="#000" stroke-width="1.3"/>
<path d="M614.1,520.6 L613.9,522.2 L613.4,523.5 L612.3,524.4 L610.9,525 L609.6,525.6 L608.5,526.4 L607.8,527.6 L607.4,529.1 L606.8,530.6 L606,531.8 L604.9,532.5 L603.4,532.8 L602.1,533 L600.9,533.5 L600,534.6 L599.3,536 L598.4,537.4 L597.4,538.4 L596.2,538.8 L594.8,538.7 L593.5,538.5 L592.3,538.8 L591.3,539.6 L590.3,540.8 L589.2,542.1 L588.1,542.8 L586.8,542.9 L585.6,542.4 L584.5,541.9 L583.3,541.8 L582.2,542.4 L581,543.4 L579.7,544.4 L578.5,544.8 L577.3,544.6 L576.3,543.7 L575.4,542.9 L574.3,542.5 L573.2,542.8 L571.8,543.5 L570.4,544.2 L569.2,544.3 L568.2,543.7 L567.5,542.6 L566.8,541.5 L565.9,540.8 L564.8,540.8 L563.4,541.1 L562,541.4 L560.8,541.3 L560.1,540.4 L559.6,539.1 L559.2,537.7 L558.6,536.8 L557.5,536.4 L556.2,536.4 L554.8,536.4 L553.8,535.9 L553.3,534.8 L553.2,533.3 L553.1,531.8 L552.7,530.7 L551.9,530.1 L550.6,529.7 L549.4,529.3 L548.5,528.5 L548.3,527.2 L548.5,525.7 L548.8,524.2 L548.7,522.9 L548,522 L547,521.3 L545.9,520.6 L545.3,519.5 L545.4,518.2 L546,516.7 L546.6,515.2 L546.7,513.9 L546.3,512.8 L545.5,511.8 L544.7,510.7 L544.4,509.5 L544.8,508.1 L545.6,506.7 L546.5,505.4 L547,504.1 L546.8,502.8 L546.3,501.6 L545.8,500.3 L545.8,499 L546.4,497.7 L547.5,496.5 L548.6,495.3 L549.3,494.1 L549.5,492.8 L549.3,491.4 L549.1,489.9 L549.4,488.6 L550.3,487.4 L551.5,486.5 L552.8,485.6 L553.7,484.6 L554.2,483.3 L554.3,481.8 L554.5,480.2 L555,478.9 L556.1,478 L557.5,477.4 L558.8,476.8 L559.9,476 L560.6,474.8 L561,473.3 L561.6,471.8 L562.4,470.6 L563.5,469.9 L565,469.6 L566.3,469.4 L567.5,468.9 L568.4,467.8 L569.1,466.4 L570,465 L571,464 L572.2,463.6 L573.6,463.7 L574.9,463.9 L576.1,463.6 L577.1,462.8 L578.1,461.6 L579.2,460.3 L580.3,459.6 L581.6,459.5 L582.8,460 L583.9,460.5 L585.1,460.6 L586.2,460 L587.4,459 L588.7,458 L589.9,457.6 L591.1,457.8 L592.1,458.7 L593,459.5 L594.1,459.9 L595.2,459.6 L596.6,458.9 L598,458.2 L599.2,458.1 L600.2,458.7 L600.9,459.8 L601.6,460.9 L602.5,461.6 L603.6,461.6 L605,461.3 L606.4,461 L607.6,461.1 L608.3,462 L608.8,463.3 L609.2,464.7 L609.8,465.6 L610.9,466 L612.2,466 L613.6,466 L614.6,466.5 L615.1,467.6 L615.2,469.1 L615.3,470.6 L615.7,471.7 L616.5,472.3 L617.8,472.7 L619,473.1 L619.9,473.9 L620.1,475.2 L619.9,476.7 L619.6,478.2 L619.7,479.5 L620.4,480.4 L621.4,481.1 L622.5,481.8 L623.1,482.9 L623,484.2 L622.4,485.7 L621.8,487.2 L621.7,488.5 L622.1,489.6 L622.9,490.6 L623.7,491.7 L624,492.9 L623.6,494.3 L622.8,495.7 L621.9,497 L621.4,498.3 L621.6,499.6 L622.1,500.8 L622.6,502.1 L622.6,503.4 L622,504.7 L620.9,505.9 L619.8,507.1 L619.1,508.3 L618.9,509.6 L619.1,511 L619.3,512.5 L619,513.8 L618.1,515 L616.9,515.9 L615.6,516.8 L614.7,517.8 L614.2,519.1 L614.1,520.6 Z" fill="#fbfbfb" stroke="#000" stroke-width="1.8"/>
<path d="M579.8,530.5 L577.1,530.5 L574.4,530.2 L571.9,529.5 L569.5,528.6 L567.2,527.3 L565.2,525.8 L563.3,524 L561.7,521.9 L560.3,519.6 L559.2,517.1 L558.3,514.5 L557.8,511.6 L557.5,508.7 L557.5,505.7 L557.8,502.7 L558.4,499.6 L559.3,496.5 L560.5,493.5 L561.9,490.6 L563.6,487.8 L565.5,485.1 L567.5,482.7 L569.8,480.4 L572.2,478.3 L574.8,476.5 L577.5,475 L580.2,473.8 L583,472.8 L585.8,472.2 L588.6,471.9 L591.3,471.9 L594,472.2 L596.5,472.9 L598.9,473.8 L601.2,475.1 L603.2,476.6 L605.1,478.4 L606.7,480.5 L608.1,482.8 L609.2,485.3 L610.1,487.9 L610.6,490.8 L610.9,493.7 L610.9,496.7 L610.6,499.7" fill="none" stroke="#000" stroke-width="1.3"/>
<ellipse cx="607.9" cy="515.5" rx="33.3" ry="42.2" transform="rotate(33 607.9 515.5)" fill="#fbfbfb" stroke="#000" stroke-width="1.1"/>
<path d="M576.4,542 L574.7,538.7 L573.4,535.2 L572.4,531.4 L571.9,527.4 L571.7,523.3 L572,519.2 L572.6,514.9 L573.7,510.7 L575.2,506.5 L577,502.5 L579.2,498.6 L581.7,494.8 L584.5,491.3 L587.5,488.1 L590.8,485.2 L594.3,482.6 L597.9,480.5 L601.7,478.7 L605.5,477.3 L609.4,476.3 L613.2,475.8 L611.3,490.3 L608.8,490.6 L606.4,491.2 L604,492.1 L601.6,493.2 L599.3,494.6 L597.1,496.3 L595,498.1 L593,500.2 L591.2,502.4 L589.7,504.7 L588.3,507.2 L587.1,509.8 L586.2,512.5 L585.5,515.1 L585.1,517.8 L584.9,520.5 L585,523.1 L585.4,525.6 L586,528 L586.8,530.3 L587.9,532.3 Z" fill="#000" stroke="none" stroke-width="0"/>
<path d="M591.3,489.2 L594.3,486.9 L597.3,484.9 L600.5,483.1 L603.8,481.8 L607.1,480.7 L610.4,480" fill="none" stroke="#fbfbfb" stroke-width="1.0"/>
<path d="M594.5,489.8 L597,488 L599.7,486.4 L602.4,485.1 L605.2,484 L607.9,483.2 L610.7,482.7" fill="none" stroke="#fbfbfb" stroke-width="1.1"/>
<path d="M598.2,490.1 L600.2,488.9 L602.2,487.9 L604.3,487.1 L606.3,486.4 L608.4,485.8 L610.5,485.5" fill="none" stroke="#fbfbfb" stroke-width="1.0"/>
<path d="M602.4,490.2 L603.6,489.7 L604.9,489.2 L606.1,488.8 L607.3,488.4 L608.6,488.1 L609.9,487.9" fill="none" stroke="#fbfbfb" stroke-width="0.7"/>
<path d="M580.6,537.9 L579.8,536.4 L579.1,534.9 L578.5,533.3 L578,531.7 L577.5,530 L577.2,528.2" fill="none" stroke="#fbfbfb" stroke-width="0.9"/>
<path d="M583.1,535.8 L582.5,534.6 L581.9,533.4 L581.4,532.1 L580.9,530.8 L580.6,529.4 L580.2,528" fill="none" stroke="#fbfbfb" stroke-width="0.9"/>
<path d="M578.1,539.2 L577.6,538.4 L577.2,537.5 L576.8,536.6 L576.5,535.7 L576.1,534.8 L575.8,533.9" fill="none" stroke="#fbfbfb" stroke-width="0.6"/>
<path d="M582.6,527.4 L582.2,524.5 L582,521.5 L582.2,518.3 L582.7,515.2 L583.5,512 L584.6,508.9 L585.9,505.9 L587.6,503 L589.5,500.2 L591.6,497.7 L594,495.3" fill="none" stroke="#fbfbfb" stroke-width="0.9" stroke-dasharray="4 2.5"/>
<path d="M577.6,517.2 L578.3,513.2 L579.5,509.3 L581.1,505.5 L583,501.8 L585.3,498.3 L587.9,495.1" fill="none" stroke="#fbfbfb" stroke-width="0.5" stroke-dasharray="2 4"/>
<path d="M623.3,483.8 L623.8,484 L624.3,484.2 L624.9,484.4 L625.4,484.7 L625.9,485 L626.4,485.3 L621.9,492.6 L621.5,492.4 L621.1,492.2 L620.7,492 L620.3,491.8 L619.9,491.7 L619.5,491.5 Z" fill="#000" stroke="none" stroke-width="0"/>
<path d="M635.8,484.2 L637,485.6 L638.2,487.1 L639.2,488.7 L640.2,490.4 L641,492.1 L641.8,493.9 L629.4,501.8 L628.9,500.7 L628.4,499.5 L627.8,498.5 L627.1,497.5 L626.4,496.5 L625.6,495.6 Z" fill="#000" stroke="none" stroke-width="0"/>
<path d="M629,482.9 L630.1,483.7 L631.2,484.5 L632.2,485.4 L633.2,486.3 L634.1,487.3 L635,488.4" fill="none" stroke="#000" stroke-width="0.7"/>
<path d="M633.6,486.7 L634.1,487.3 L634.6,487.9 L635.2,488.6 L635.6,489.2 L636.1,489.9 L636.6,490.6" fill="none" stroke="#fbfbfb" stroke-width="0.7"/>
<path d="M627.2,485.8 L628.2,486.5 L629.2,487.2 L630.1,488 L631,488.9 L631.8,489.8 L632.6,490.7" fill="none" stroke="#000" stroke-width="0.7"/>
<path d="M631.3,489.2 L631.8,489.8 L632.3,490.3 L632.8,490.9 L633.2,491.5 L633.7,492.1 L634.1,492.8" fill="none" stroke="#fbfbfb" stroke-width="0.7"/>
<path d="M625.4,488.6 L626.3,489.2 L627.2,489.9 L628,490.6 L628.8,491.4 L629.6,492.2 L630.3,493.1" fill="none" stroke="#000" stroke-width="0.7"/>
<path d="M629.1,491.7 L629.6,492.2 L630,492.7 L630.4,493.3 L630.8,493.8 L631.2,494.4 L631.6,494.9" fill="none" stroke="#fbfbfb" stroke-width="0.7"/>
<path d="M604.4,477.6 L608.3,476.5 L612.3,475.9 L616.1,475.7 L619.9,476 L623.6,476.8 L627,478 L630.3,479.7 L633.2,481.8 L635.9,484.3 L638.2,487.2 L640.2,490.4 L641.8,493.9" fill="none" stroke="#000" stroke-width="2.0"/>
<path d="M594.6,546.2 L594.3,546.1 L594,546 L593.7,545.9 L593.4,545.8 L593.1,545.7 L592.8,545.6 L595.9,539.4 L596.1,539.5 L596.4,539.5 L596.6,539.6 L596.8,539.7 L597.1,539.8 L597.3,539.9 Z" fill="#000" stroke="none" stroke-width="0"/>
<path d="M584.2,546.1 L583.2,545.2 L582.2,544.3 L581.3,543.3 L580.5,542.2 L579.7,541.1 L578.9,539.9" fill="none" stroke="#000" stroke-width="0.6"/>
<path d="M586.2,543.5 L585.3,542.6 L584.5,541.8 L583.6,540.8 L582.9,539.9 L582.1,538.9 L581.5,537.8" fill="none" stroke="#000" stroke-width="0.6"/>
<path d="M625.7,527 L625.6,527.7 L625.3,528.3 L624.9,528.8 L624.2,529.1 L623.6,529.3 L623.1,529.7 L622.8,530.3 L622.7,531 L622.5,531.7 L622.1,532.2 L621.6,532.6 L621,532.7 L620.3,532.9 L619.8,533.2 L619.5,533.7 L619.2,534.4 L618.9,535.1 L618.5,535.6 L617.9,535.8 L617.3,535.8 L616.7,535.9 L616.1,536 L615.7,536.5 L615.3,537.1 L614.9,537.8 L614.4,538.2 L613.9,538.3 L613.3,538.2 L612.7,538.1 L612.1,538.2 L611.7,538.6 L611.2,539.2 L610.7,539.7 L610.2,540.1 L609.6,540.1 L609.1,539.9 L608.5,539.6 L608,539.6 L607.5,539.9 L607,540.4 L606.4,540.9 L605.8,541.1 L605.3,541 L604.8,540.7 L604.4,540.3 L603.9,540.2 L603.3,540.4 L602.7,540.8 L602.1,541.1 L601.6,541.3 L601.1,541.1 L600.7,540.6 L600.3,540.2 L599.9,539.9 L599.3,540 L598.7,540.3 L598.1,540.5 L597.5,540.6 L597.1,540.2 L596.8,539.7 L596.5,539.2 L596.2,538.8 L595.6,538.8 L595,538.9 L594.4,539.1 L593.8,539 L593.5,538.6 L593.3,538 L593.1,537.4 L592.8,536.9 L592.4,536.8 L591.7,536.8 L591.1,536.8 L590.6,536.6 L590.4,536.1 L590.3,535.5 L590.2,534.8 L590,534.3 L589.6,534.1 L589,534 L588.4,533.8 L588,533.5 L587.8,533 L587.9,532.3 L587.9,531.6 L587.8,531.1 L587.5,530.7 L586.9,530.5 L586.4,530.2 L586,529.8 L586,529.2 L586.1,528.5 L586.3,527.8 L586.3,527.3 L586,526.8 L585.6,526.5 L585.1,526.1 L584.8,525.6 L584.9,525 L585.2,524.3 L585.4,523.7 L585.5,523.1 L585.3,522.6 L584.9,522.1 L584.6,521.6 L584.4,521.1 L584.6,520.5 L584.9,519.8 L585.3,519.2 L585.5,518.6 L585.4,518.1 L585.1,517.5 L584.8,517 L584.8,516.4 L585,515.8 L585.5,515.2 L586,514.6 L586.3,514.1 L586.3,513.5 L586.1,512.9 L585.9,512.2 L586,511.6 L586.3,511.1 L586.8,510.6 L587.4,510.1 L587.7,509.6 L587.8,509 L587.8,508.3 L587.7,507.6 L587.9,507 L588.3,506.5 L588.9,506.1 L589.5,505.7 L589.9,505.3 L590.1,504.7 L590.1,504 L590.2,503.3 L590.5,502.7 L590.9,502.2 L591.6,501.9 L592.2,501.7 L592.7,501.3 L593,500.7 L593.1,500 L593.3,499.3 L593.7,498.8 L594.2,498.4 L594.8,498.3 L595.5,498.1 L596,497.8 L596.3,497.3 L596.6,496.6 L596.9,495.9 L597.3,495.4 L597.9,495.2 L598.5,495.2 L599.1,495.1 L599.7,495 L600.1,494.5 L600.5,493.9 L600.9,493.2 L601.4,492.8 L601.9,492.7 L602.5,492.8 L603.1,492.9 L603.7,492.8 L604.1,492.4 L604.6,491.8 L605.1,491.3 L605.6,490.9 L606.2,490.9 L606.7,491.1 L607.3,491.4 L607.8,491.4 L608.3,491.1 L608.8,490.6 L609.4,490.1 L610,489.9 L610.5,490 L611,490.3 L611.4,490.7 L611.9,490.8 L612.5,490.6 L613.1,490.2 L613.7,489.9 L614.2,489.7 L614.7,489.9 L615.1,490.4 L615.5,490.8 L615.9,491.1 L616.5,491 L617.1,490.7 L617.7,490.5 L618.3,490.4 L618.7,490.8 L619,491.3 L619.3,491.8 L619.6,492.2 L620.2,492.2 L620.8,492.1 L621.4,491.9 L622,492 L622.3,492.4 L622.5,493 L622.7,493.6 L623,494.1 L623.4,494.2 L624.1,494.2 L624.7,494.2 L625.2,494.4 L625.4,494.9 L625.5,495.5 L625.6,496.2 L625.8,496.7 L626.2,496.9 L626.8,497 L627.4,497.2 L627.8,497.5 L628,498 L627.9,498.7 L627.9,499.4 L628,499.9 L628.3,500.3 L628.9,500.5 L629.4,500.8 L629.8,501.2 L629.8,501.8 L629.7,502.5 L629.5,503.2 L629.5,503.7 L629.8,504.2 L630.2,504.5 L630.7,504.9 L631,505.4 L630.9,506 L630.6,506.7 L630.4,507.3 L630.3,507.9 L630.5,508.4 L630.9,508.9 L631.2,509.4 L631.4,509.9 L631.2,510.5 L630.9,511.2 L630.5,511.8 L630.3,512.4 L630.4,512.9 L630.7,513.5 L631,514 L631,514.6 L630.8,515.2 L630.3,515.8 L629.8,516.4 L629.5,516.9 L629.5,517.5 L629.7,518.1 L629.9,518.8 L629.8,519.4 L629.5,519.9 L629,520.4 L628.4,520.9 L628.1,521.4 L628,522 L628,522.7 L628.1,523.4 L627.9,524 L627.5,524.5 L626.9,524.9 L626.3,525.3 L625.9,525.7 L625.7,526.3 L625.7,527 Z" fill="none" stroke="#000" stroke-width="1.3"/>
<path d="M669.8,551.3 L669.6,552.8 L669,554.1 L668,555.1 L666.6,555.7 L665.2,556.3 L664.1,557.1 L663.5,558.3 L663,559.8 L662.5,561.3 L661.7,562.5 L660.5,563.2 L659.1,563.4 L657.7,563.7 L656.5,564.2 L655.6,565.2 L654.9,566.7 L654.1,568.1 L653.1,569.1 L651.8,569.5 L650.5,569.4 L649.1,569.2 L648,569.4 L646.9,570.3 L645.9,571.5 L644.8,572.8 L643.7,573.5 L642.5,573.6 L641.2,573.1 L640.1,572.6 L638.9,572.5 L637.8,573.1 L636.5,574.1 L635.3,575.1 L634.1,575.5 L632.9,575.2 L631.9,574.4 L630.9,573.6 L629.9,573.2 L628.7,573.5 L627.4,574.2 L626,574.8 L624.8,575 L623.8,574.4 L623.1,573.3 L622.4,572.2 L621.5,571.5 L620.3,571.4 L619,571.8 L617.5,572.1 L616.4,571.9 L615.6,571.1 L615.2,569.7 L614.8,568.4 L614.1,567.5 L613.1,567.1 L611.7,567.1 L610.4,567.1 L609.3,566.6 L608.8,565.5 L608.7,564 L608.7,562.5 L608.3,561.4 L607.4,560.7 L606.1,560.4 L604.9,559.9 L604.1,559.1 L603.8,557.9 L604.1,556.3 L604.3,554.8 L604.2,553.6 L603.6,552.7 L602.5,552 L601.5,551.2 L600.9,550.2 L600.9,548.8 L601.5,547.3 L602.1,545.8 L602.3,544.5 L601.9,543.4 L601,542.4 L600.2,541.3 L599.9,540.1 L600.3,538.7 L601.1,537.3 L602,536 L602.5,534.7 L602.4,533.5 L601.8,532.2 L601.3,530.9 L601.3,529.6 L602,528.3 L603,527.1 L604.2,525.9 L604.9,524.7 L605,523.4 L604.8,522 L604.6,520.5 L604.9,519.2 L605.8,518 L607.1,517.1 L608.4,516.2 L609.3,515.1 L609.7,513.9 L609.8,512.3 L610,510.8 L610.6,509.5 L611.6,508.5 L613,507.9 L614.4,507.3 L615.5,506.5 L616.1,505.3 L616.6,503.8 L617.1,502.3 L617.9,501.1 L619.1,500.4 L620.5,500.2 L621.9,499.9 L623.1,499.4 L624,498.4 L624.7,496.9 L625.5,495.5 L626.5,494.5 L627.8,494.1 L629.1,494.2 L630.5,494.4 L631.6,494.2 L632.7,493.3 L633.7,492.1 L634.8,490.8 L635.9,490.1 L637.1,490 L638.4,490.5 L639.5,491 L640.7,491.1 L641.8,490.5 L643.1,489.5 L644.3,488.5 L645.5,488.1 L646.7,488.4 L647.7,489.2 L648.7,490 L649.7,490.4 L650.9,490.1 L652.2,489.4 L653.6,488.8 L654.8,488.6 L655.8,489.2 L656.5,490.3 L657.2,491.4 L658.1,492.1 L659.3,492.2 L660.6,491.8 L662.1,491.5 L663.2,491.7 L664,492.5 L664.4,493.9 L664.8,495.2 L665.5,496.1 L666.5,496.5 L667.9,496.5 L669.2,496.5 L670.3,497 L670.8,498.1 L670.9,499.6 L670.9,501.1 L671.3,502.2 L672.2,502.9 L673.5,503.2 L674.7,503.7 L675.5,504.5 L675.8,505.7 L675.5,507.3 L675.3,508.8 L675.4,510 L676,510.9 L677.1,511.6 L678.1,512.4 L678.7,513.4 L678.7,514.8 L678.1,516.3 L677.5,517.8 L677.3,519.1 L677.7,520.2 L678.6,521.2 L679.4,522.3 L679.7,523.5 L679.3,524.9 L678.5,526.3 L677.6,527.6 L677.1,528.9 L677.2,530.1 L677.8,531.4 L678.3,532.7 L678.3,534 L677.6,535.3 L676.6,536.5 L675.4,537.7 L674.7,538.9 L674.6,540.2 L674.8,541.6 L675,543.1 L674.7,544.4 L673.8,545.6 L672.5,546.5 L671.2,547.4 L670.3,548.5 L669.9,549.7 L669.8,551.3 Z" fill="#fbfbfb" stroke="#000" stroke-width="1.8"/>
<path d="M635.4,561.2 L632.7,561.2 L630,560.8 L627.5,560.2 L625.1,559.2 L622.8,558 L620.7,556.4 L618.9,554.6 L617.2,552.5 L615.9,550.2 L614.7,547.8 L613.9,545.1 L613.3,542.3 L613.1,539.3 L613.1,536.3 L613.4,533.3 L614,530.2 L614.9,527.1 L616,524.1 L617.5,521.2 L619.1,518.4 L621,515.7 L623.1,513.2 L625.4,510.9 L627.8,508.9 L630.4,507.1 L633.1,505.6 L635.8,504.3 L638.6,503.4 L641.4,502.7 L644.2,502.4 L646.9,502.4 L649.6,502.8 L652.1,503.4 L654.5,504.4 L656.8,505.6 L658.9,507.2 L660.7,509 L662.4,511.1 L663.7,513.4 L664.9,515.8 L665.7,518.5 L666.3,521.3 L666.5,524.3 L666.5,527.3 L666.2,530.3" fill="none" stroke="#000" stroke-width="1.3"/>
<ellipse cx="658.4" cy="545.3" rx="33.3" ry="42.2" transform="rotate(33 658.4 545.3)" fill="#fbfbfb" stroke="#000" stroke-width="1.1"/>
<path d="M626.9,571.8 L625.2,568.5 L623.9,565 L622.9,561.2 L622.4,557.2 L622.2,553.1 L622.5,549 L623.1,544.7 L624.2,540.5 L625.7,536.3 L627.5,532.3 L629.7,528.4 L632.2,524.6 L635,521.1 L638,517.9 L641.3,515 L644.8,512.4 L648.4,510.3 L652.2,508.5 L656,507.1 L659.9,506.1 L663.7,505.6 L661.8,520.1 L659.3,520.4 L656.9,521 L654.5,521.9 L652.1,523 L649.8,524.4 L647.6,526.1 L645.5,527.9 L643.5,530 L641.7,532.2 L640.2,534.5 L638.8,537 L637.6,539.6 L636.7,542.3 L636,544.9 L635.6,547.6 L635.4,550.3 L635.5,552.9 L635.9,555.4 L636.5,557.8 L637.3,560.1 L638.4,562.1 Z" fill="#000" stroke="none" stroke-width="0"/>
<path d="M641.8,519 L644.8,516.7 L647.8,514.7 L651,512.9 L654.3,511.6 L657.6,510.5 L660.9,509.8" fill="none" stroke="#fbfbfb" stroke-width="1.0"/>
<path d="M645,519.6 L647.5,517.8 L650.2,516.2 L652.9,514.9 L655.7,513.8 L658.4,513 L661.2,512.5" fill="none" stroke="#fbfbfb" stroke-width="1.1"/>
<path d="M648.7,519.9 L650.7,518.7 L652.7,517.7 L654.8,516.9 L656.8,516.2 L658.9,515.6 L661,515.3" fill="none" stroke="#fbfbfb" stroke-width="1.0"/>
<path d="M652.9,520 L654.1,519.5 L655.4,519 L656.6,518.6 L657.8,518.2 L659.1,517.9 L660.4,517.7" fill="none" stroke="#fbfbfb" stroke-width="0.7"/>
<path d="M631.1,567.7 L630.3,566.2 L629.6,564.7 L629,563.1 L628.5,561.5 L628,559.8 L627.7,558" fill="none" stroke="#fbfbfb" stroke-width="0.9"/>
<path d="M633.6,565.6 L633,564.4 L632.4,563.2 L631.9,561.9 L631.4,560.6 L631.1,559.2 L630.7,557.8" fill="none" stroke="#fbfbfb" stroke-width="0.9"/>
<path d="M628.6,569 L628.1,568.2 L627.7,567.3 L627.3,566.4 L627,565.5 L626.6,564.6 L626.3,563.7" fill="none" stroke="#fbfbfb" stroke-width="0.6"/>
<path d="M633.1,557.2 L632.7,554.3 L632.5,551.3 L632.7,548.1 L633.2,545 L634,541.8 L635.1,538.7 L636.4,535.7 L638.1,532.8 L640,530 L642.1,527.5 L644.5,525.1" fill="none" stroke="#fbfbfb" stroke-width="0.9" stroke-dasharray="4 2.5"/>
<path d="M628.1,547 L628.8,543 L630,539.1 L631.6,535.3 L633.5,531.6 L635.8,528.1 L638.4,524.9" fill="none" stroke="#fbfbfb" stroke-width="0.5" stroke-dasharray="2 4"/>
<path d="M673.8,513.6 L674.3,513.8 L674.8,514 L675.4,514.2 L675.9,514.5 L676.4,514.8 L676.9,515.1 L672.4,522.4 L672,522.2 L671.6,522 L671.2,521.8 L670.8,521.6 L670.4,521.5 L670,521.3 Z" fill="#000" stroke="none" stroke-width="0"/>
<path d="M686.3,514 L687.5,515.4 L688.7,516.9 L689.7,518.5 L690.7,520.2 L691.5,521.9 L692.3,523.7 L679.9,531.6 L679.4,530.5 L678.9,529.3 L678.3,528.3 L677.6,527.3 L676.9,526.3 L676.1,525.4 Z" fill="#000" stroke="none" stroke-width="0"/>
<path d="M679.5,512.7 L680.6,513.5 L681.7,514.3 L682.7,515.2 L683.7,516.1 L684.6,517.1 L685.5,518.2" fill="none" stroke="#000" stroke-width="0.7"/>
<path d="M684.1,516.5 L684.6,517.1 L685.1,517.7 L685.7,518.4 L686.1,519 L686.6,519.7 L687.1,520.4" fill="none" stroke="#fbfbfb" stroke-width="0.7"/>
<path d="M677.7,515.6 L678.7,516.3 L679.7,517 L680.6,517.8 L681.5,518.7 L682.3,519.6 L683.1,520.5" fill="none" stroke="#000" stroke-width="0.7"/>
<path d="M681.8,519 L682.3,519.6 L682.8,520.1 L683.3,520.7 L683.7,521.3 L684.2,521.9 L684.6,522.6" fill="none" stroke="#fbfbfb" stroke-width="0.7"/>
<path d="M675.9,518.4 L676.8,519 L677.7,519.7 L678.5,520.4 L679.3,521.2 L680.1,522 L680.8,522.9" fill="none" stroke="#000" stroke-width="0.7"/>
<path d="M679.6,521.5 L680.1,522 L680.5,522.5 L680.9,523.1 L681.3,523.6 L681.7,524.2 L682.1,524.7" fill="none" stroke="#fbfbfb" stroke-width="0.7"/>
<path d="M654.9,507.4 L658.8,506.3 L662.8,505.7 L666.6,505.5 L670.4,505.8 L674.1,506.6 L677.5,507.8 L680.8,509.5 L683.7,511.6 L686.4,514.1 L688.7,517 L690.7,520.2 L692.3,523.7" fill="none" stroke="#000" stroke-width="2.0"/>
<path d="M645.1,576 L644.8,575.9 L644.5,575.8 L644.2,575.7 L643.9,575.6 L643.6,575.5 L643.3,575.4 L646.4,569.2 L646.6,569.3 L646.9,569.3 L647.1,569.4 L647.3,569.5 L647.6,569.6 L647.8,569.7 Z" fill="#000" stroke="none" stroke-width="0"/>
<path d="M634.7,575.9 L633.7,575 L632.7,574.1 L631.8,573.1 L631,572 L630.2,570.9 L629.4,569.7" fill="none" stroke="#000" stroke-width="0.6"/>
<path d="M636.7,573.3 L635.8,572.4 L635,571.6 L634.1,570.6 L633.4,569.7 L632.6,568.7 L632,567.6" fill="none" stroke="#000" stroke-width="0.6"/>
<path d="M676.2,556.8 L676.1,557.5 L675.8,558.1 L675.4,558.6 L674.7,558.9 L674.1,559.1 L673.6,559.5 L673.3,560.1 L673.2,560.8 L673,561.5 L672.6,562 L672.1,562.4 L671.5,562.5 L670.8,562.7 L670.3,563 L670,563.5 L669.7,564.2 L669.4,564.9 L669,565.4 L668.4,565.6 L667.8,565.6 L667.2,565.7 L666.6,565.8 L666.2,566.3 L665.8,566.9 L665.4,567.6 L664.9,568 L664.4,568.1 L663.8,568 L663.2,567.9 L662.6,568 L662.2,568.4 L661.7,569 L661.2,569.5 L660.7,569.9 L660.1,569.9 L659.6,569.7 L659,569.4 L658.5,569.4 L658,569.7 L657.5,570.2 L656.9,570.7 L656.3,570.9 L655.8,570.8 L655.3,570.5 L654.9,570.1 L654.4,570 L653.8,570.2 L653.2,570.6 L652.6,570.9 L652.1,571.1 L651.6,570.9 L651.2,570.4 L650.8,570 L650.4,569.7 L649.8,569.8 L649.2,570.1 L648.6,570.3 L648,570.4 L647.6,570 L647.3,569.5 L647,569 L646.7,568.6 L646.1,568.6 L645.5,568.7 L644.9,568.9 L644.3,568.8 L644,568.4 L643.8,567.8 L643.6,567.2 L643.3,566.7 L642.9,566.6 L642.2,566.6 L641.6,566.6 L641.1,566.4 L640.9,565.9 L640.8,565.3 L640.7,564.6 L640.5,564.1 L640.1,563.9 L639.5,563.8 L638.9,563.6 L638.5,563.3 L638.3,562.8 L638.4,562.1 L638.4,561.4 L638.3,560.9 L638,560.5 L637.4,560.3 L636.9,560 L636.5,559.6 L636.5,559 L636.6,558.3 L636.8,557.6 L636.8,557.1 L636.5,556.6 L636.1,556.3 L635.6,555.9 L635.3,555.4 L635.4,554.8 L635.7,554.1 L635.9,553.5 L636,552.9 L635.8,552.4 L635.4,551.9 L635.1,551.4 L634.9,550.9 L635.1,550.3 L635.4,549.6 L635.8,549 L636,548.4 L635.9,547.9 L635.6,547.3 L635.3,546.8 L635.3,546.2 L635.5,545.6 L636,545 L636.5,544.4 L636.8,543.9 L636.8,543.3 L636.6,542.7 L636.4,542 L636.5,541.4 L636.8,540.9 L637.3,540.4 L637.9,539.9 L638.2,539.4 L638.3,538.8 L638.3,538.1 L638.2,537.4 L638.4,536.8 L638.8,536.3 L639.4,535.9 L640,535.5 L640.4,535.1 L640.6,534.5 L640.6,533.8 L640.7,533.1 L641,532.5 L641.4,532 L642.1,531.7 L642.7,531.5 L643.2,531.1 L643.5,530.5 L643.6,529.8 L643.8,529.1 L644.2,528.6 L644.7,528.2 L645.3,528.1 L646,527.9 L646.5,527.6 L646.8,527.1 L647.1,526.4 L647.4,525.7 L647.8,525.2 L648.4,525 L649,525 L649.6,524.9 L650.2,524.8 L650.6,524.3 L651,523.7 L651.4,523 L651.9,522.6 L652.4,522.5 L653,522.6 L653.6,522.7 L654.2,522.6 L654.6,522.2 L655.1,521.6 L655.6,521.1 L656.1,520.7 L656.7,520.7 L657.2,520.9 L657.8,521.2 L658.3,521.2 L658.8,520.9 L659.3,520.4 L659.9,519.9 L660.5,519.7 L661,519.8 L661.5,520.1 L661.9,520.5 L662.4,520.6 L663,520.4 L663.6,520 L664.2,519.7 L664.7,519.5 L665.2,519.7 L665.6,520.2 L666,520.6 L666.4,520.9 L667,520.8 L667.6,520.5 L668.2,520.3 L668.8,520.2 L669.2,520.6 L669.5,521.1 L669.8,521.6 L670.1,522 L670.7,522 L671.3,521.9 L671.9,521.7 L672.5,521.8 L672.8,522.2 L673,522.8 L673.2,523.4 L673.5,523.9 L673.9,524 L674.6,524 L675.2,524 L675.7,524.2 L675.9,524.7 L676,525.3 L676.1,526 L676.3,526.5 L676.7,526.7 L677.3,526.8 L677.9,527 L678.3,527.3 L678.5,527.8 L678.4,528.5 L678.4,529.2 L678.5,529.7 L678.8,530.1 L679.4,530.3 L679.9,530.6 L680.3,531 L680.3,531.6 L680.2,532.3 L680,533 L680,533.5 L680.3,534 L680.7,534.3 L681.2,534.7 L681.5,535.2 L681.4,535.8 L681.1,536.5 L680.9,537.1 L680.8,537.7 L681,538.2 L681.4,538.7 L681.7,539.2 L681.9,539.7 L681.7,540.3 L681.4,541 L681,541.6 L680.8,542.2 L680.9,542.7 L681.2,543.3 L681.5,543.8 L681.5,544.4 L681.3,545 L680.8,545.6 L680.3,546.2 L680,546.7 L680,547.3 L680.2,547.9 L680.4,548.6 L680.3,549.2 L680,549.7 L679.5,550.2 L678.9,550.7 L678.6,551.2 L678.5,551.8 L678.5,552.5 L678.6,553.2 L678.4,553.8 L678,554.3 L677.4,554.7 L676.8,555.1 L676.4,555.5 L676.2,556.1 L676.2,556.8 Z" fill="none" stroke="#000" stroke-width="1.3"/>
<path d="M721,581.5 L720.8,583 L720.3,584.4 L719.2,585.3 L717.8,585.9 L716.5,586.5 L715.4,587.3 L714.7,588.5 L714.2,590 L713.7,591.6 L712.9,592.8 L711.7,593.4 L710.3,593.7 L708.9,593.9 L707.8,594.4 L706.9,595.5 L706.1,596.9 L705.3,598.4 L704.3,599.4 L703,599.7 L701.7,599.6 L700.4,599.5 L699.2,599.7 L698.1,600.5 L697.1,601.8 L696,603 L694.9,603.8 L693.7,603.9 L692.4,603.4 L691.3,602.9 L690.1,602.8 L689,603.3 L687.7,604.4 L686.5,605.3 L685.3,605.8 L684.1,605.5 L683.1,604.7 L682.1,603.9 L681.1,603.5 L679.9,603.7 L678.6,604.5 L677.2,605.1 L676,605.3 L675,604.7 L674.2,603.6 L673.5,602.4 L672.7,601.8 L671.5,601.7 L670.1,602.1 L668.7,602.4 L667.5,602.2 L666.8,601.3 L666.3,600 L665.9,598.7 L665.3,597.7 L664.2,597.4 L662.9,597.4 L661.5,597.3 L660.5,596.8 L660,595.7 L659.8,594.2 L659.8,592.8 L659.4,591.6 L658.5,591 L657.3,590.6 L656,590.2 L655.2,589.4 L655,588.1 L655.2,586.6 L655.5,585.1 L655.4,583.8 L654.7,582.9 L653.6,582.2 L652.6,581.4 L652,580.4 L652.1,579 L652.6,577.5 L653.2,576 L653.4,574.7 L653,573.6 L652.2,572.6 L651.4,571.5 L651.1,570.3 L651.4,569 L652.3,567.5 L653.1,566.2 L653.6,564.9 L653.5,563.7 L652.9,562.4 L652.4,561.1 L652.4,559.8 L653.1,558.5 L654.2,557.2 L655.3,556.1 L656,554.9 L656.2,553.6 L655.9,552.2 L655.8,550.7 L656.1,549.3 L656.9,548.2 L658.2,547.2 L659.5,546.3 L660.4,545.3 L660.9,544 L661,542.5 L661.2,541 L661.7,539.6 L662.8,538.7 L664.2,538.1 L665.5,537.5 L666.6,536.7 L667.3,535.5 L667.8,534 L668.3,532.4 L669.1,531.2 L670.3,530.6 L671.7,530.3 L673.1,530.1 L674.2,529.6 L675.1,528.5 L675.9,527.1 L676.7,525.6 L677.7,524.6 L679,524.3 L680.3,524.4 L681.6,524.5 L682.8,524.3 L683.9,523.5 L684.9,522.2 L686,521 L687.1,520.2 L688.3,520.1 L689.6,520.6 L690.7,521.1 L691.9,521.2 L693,520.7 L694.3,519.6 L695.5,518.7 L696.7,518.2 L697.9,518.5 L698.9,519.3 L699.9,520.1 L700.9,520.5 L702.1,520.3 L703.4,519.5 L704.8,518.9 L706,518.7 L707,519.3 L707.8,520.4 L708.5,521.6 L709.3,522.2 L710.5,522.3 L711.9,521.9 L713.3,521.6 L714.5,521.8 L715.2,522.7 L715.7,524 L716.1,525.3 L716.7,526.3 L717.8,526.6 L719.1,526.6 L720.5,526.7 L721.5,527.2 L722,528.3 L722.2,529.8 L722.2,531.2 L722.6,532.4 L723.5,533 L724.7,533.4 L726,533.8 L726.8,534.6 L727,535.9 L726.8,537.4 L726.5,538.9 L726.6,540.2 L727.3,541.1 L728.4,541.8 L729.4,542.6 L730,543.6 L729.9,545 L729.4,546.5 L728.8,548 L728.6,549.3 L729,550.4 L729.8,551.4 L730.6,552.5 L730.9,553.7 L730.6,555 L729.7,556.5 L728.9,557.8 L728.4,559.1 L728.5,560.3 L729.1,561.6 L729.6,562.9 L729.6,564.2 L728.9,565.5 L727.8,566.8 L726.7,567.9 L726,569.1 L725.8,570.4 L726.1,571.8 L726.2,573.3 L725.9,574.7 L725.1,575.8 L723.8,576.8 L722.5,577.7 L721.6,578.7 L721.1,580 L721,581.5 Z" fill="#fbfbfb" stroke="#000" stroke-width="1.8"/>
<path d="M686.6,591.4 L683.9,591.4 L681.2,591.1 L678.6,590.5 L676.2,589.5 L674,588.2 L671.9,586.7 L670,584.9 L668.4,582.8 L667,580.5 L665.9,578 L665,575.3 L664.5,572.5 L664.2,569.5 L664.2,566.5 L664.5,563.5 L665.1,560.4 L666,557.3 L667.2,554.3 L668.6,551.4 L670.3,548.5 L672.2,545.9 L674.3,543.4 L676.6,541.1 L679,539 L681.6,537.2 L684.2,535.7 L687,534.5 L689.8,533.5 L692.6,532.9 L695.4,532.6 L698.1,532.6 L700.8,532.9 L703.4,533.5 L705.8,534.5 L708,535.8 L710.1,537.3 L712,539.1 L713.6,541.2 L715,543.5 L716.1,546 L717,548.7 L717.5,551.5 L717.8,554.5 L717.8,557.5 L717.5,560.5" fill="none" stroke="#000" stroke-width="1.3"/>
<ellipse cx="711.4" cy="575" rx="33.3" ry="42.2" transform="rotate(33 711.4 575)" fill="#fbfbfb" stroke="#000" stroke-width="1.1"/>
<path d="M679.9,601.5 L678.2,598.2 L676.9,594.7 L675.9,590.9 L675.4,586.9 L675.2,582.8 L675.5,578.7 L676.1,574.4 L677.2,570.2 L678.7,566 L680.5,562 L682.7,558.1 L685.2,554.3 L688,550.8 L691,547.6 L694.3,544.7 L697.8,542.1 L701.4,540 L705.2,538.2 L709,536.8 L712.9,535.8 L716.7,535.3 L714.8,549.8 L712.3,550.1 L709.9,550.7 L707.5,551.6 L705.1,552.7 L702.8,554.1 L700.6,555.8 L698.5,557.6 L696.5,559.7 L694.7,561.9 L693.2,564.2 L691.8,566.7 L690.6,569.3 L689.7,572 L689,574.6 L688.6,577.3 L688.4,580 L688.5,582.6 L688.9,585.1 L689.5,587.5 L690.3,589.8 L691.4,591.8 Z" fill="#000" stroke="none" stroke-width="0"/>
<path d="M694.8,548.7 L697.8,546.4 L700.8,544.4 L704,542.6 L707.3,541.3 L710.6,540.2 L713.9,539.5" fill="none" stroke="#fbfbfb" stroke-width="1.0"/>
<path d="M698,549.3 L700.5,547.5 L703.2,545.9 L705.9,544.6 L708.7,543.5 L711.4,542.7 L714.2,542.2" fill="none" stroke="#fbfbfb" stroke-width="1.1"/>
<path d="M701.7,549.6 L703.7,548.4 L705.7,547.4 L707.8,546.6 L709.8,545.9 L711.9,545.3 L714,545" fill="none" stroke="#fbfbfb" stroke-width="1.0"/>
<path d="M705.9,549.7 L707.1,549.2 L708.4,548.7 L709.6,548.3 L710.8,547.9 L712.1,547.6 L713.4,547.4" fill="none" stroke="#fbfbfb" stroke-width="0.7"/>
<path d="M684.1,597.4 L683.3,595.9 L682.6,594.4 L682,592.8 L681.5,591.2 L681,589.5 L680.7,587.7" fill="none" stroke="#fbfbfb" stroke-width="0.9"/>
<path d="M686.6,595.3 L686,594.1 L685.4,592.9 L684.9,591.6 L684.4,590.3 L684.1,588.9 L683.7,587.5" fill="none" stroke="#fbfbfb" stroke-width="0.9"/>
<path d="M681.6,598.7 L681.1,597.9 L680.7,597 L680.3,596.1 L680,595.2 L679.6,594.3 L679.3,593.4" fill="none" stroke="#fbfbfb" stroke-width="0.6"/>
<path d="M686.1,586.9 L685.7,584 L685.5,581 L685.7,577.8 L686.2,574.7 L687,571.5 L688.1,568.4 L689.4,565.4 L691.1,562.5 L693,559.7 L695.1,557.2 L697.5,554.8" fill="none" stroke="#fbfbfb" stroke-width="0.9" stroke-dasharray="4 2.5"/>
<path d="M681.1,576.7 L681.8,572.7 L683,568.8 L684.6,565 L686.5,561.3 L688.8,557.8 L691.4,554.6" fill="none" stroke="#fbfbfb" stroke-width="0.5" stroke-dasharray="2 4"/>
<path d="M726.8,543.3 L727.3,543.5 L727.8,543.7 L728.4,543.9 L728.9,544.2 L729.4,544.5 L729.9,544.8 L725.4,552.1 L725,551.9 L724.6,551.7 L724.2,551.5 L723.8,551.3 L723.4,551.2 L723,551 Z" fill="#000" stroke="none" stroke-width="0"/>
<path d="M739.3,543.7 L740.5,545.1 L741.7,546.6 L742.7,548.2 L743.7,549.9 L744.5,551.6 L745.3,553.4 L732.9,561.3 L732.4,560.2 L731.9,559 L731.3,558 L730.6,557 L729.9,556 L729.1,555.1 Z" fill="#000" stroke="none" stroke-width="0"/>
<path d="M732.5,542.4 L733.6,543.2 L734.7,544 L735.7,544.9 L736.7,545.8 L737.6,546.8 L738.5,547.9" fill="none" stroke="#000" stroke-width="0.7"/>
<path d="M737.1,546.2 L737.6,546.8 L738.1,547.4 L738.7,548.1 L739.1,548.7 L739.6,549.4 L740.1,550.1" fill="none" stroke="#fbfbfb" stroke-width="0.7"/>
<path d="M730.7,545.3 L731.7,546 L732.7,546.7 L733.6,547.5 L734.5,548.4 L735.3,549.3 L736.1,550.2" fill="none" stroke="#000" stroke-width="0.7"/>
<path d="M734.8,548.7 L735.3,549.3 L735.8,549.8 L736.3,550.4 L736.7,551 L737.2,551.6 L737.6,552.3" fill="none" stroke="#fbfbfb" stroke-width="0.7"/>
<path d="M728.9,548.1 L729.8,548.7 L730.7,549.4 L731.5,550.1 L732.3,550.9 L733.1,551.7 L733.8,552.6" fill="none" stroke="#000" stroke-width="0.7"/>
<path d="M732.6,551.2 L733.1,551.7 L733.5,552.2 L733.9,552.8 L734.3,553.3 L734.7,553.9 L735.1,554.4" fill="none" stroke="#fbfbfb" stroke-width="0.7"/>
<path d="M707.9,537.1 L711.8,536 L715.8,535.4 L719.6,535.2 L723.4,535.5 L727.1,536.3 L730.5,537.5 L733.8,539.2 L736.7,541.3 L739.4,543.8 L741.7,546.7 L743.7,549.9 L745.3,553.4" fill="none" stroke="#000" stroke-width="2.0"/>
<path d="M698.1,605.7 L697.8,605.6 L697.5,605.5 L697.2,605.4 L696.9,605.3 L696.6,605.2 L696.3,605.1 L699.4,598.9 L699.6,599 L699.9,599 L700.1,599.1 L700.3,599.2 L700.6,599.3 L700.8,599.4 Z" fill="#000" stroke="none" stroke-width="0"/>
<path d="M687.7,605.6 L686.7,604.7 L685.7,603.8 L684.8,602.8 L684,601.7 L683.2,600.6 L682.4,599.4" fill="none" stroke="#000" stroke-width="0.6"/>
<path d="M689.7,603 L688.8,602.1 L688,601.3 L687.1,600.3 L686.4,599.4 L685.6,598.4 L685,597.3" fill="none" stroke="#000" stroke-width="0.6"/>
<path d="M729.2,586.5 L729.1,587.2 L728.8,587.8 L728.4,588.3 L727.7,588.6 L727.1,588.8 L726.6,589.2 L726.3,589.8 L726.2,590.5 L726,591.2 L725.6,591.7 L725.1,592.1 L724.5,592.2 L723.8,592.4 L723.3,592.7 L723,593.2 L722.7,593.9 L722.4,594.6 L722,595.1 L721.4,595.3 L720.8,595.3 L720.2,595.4 L719.6,595.5 L719.2,596 L718.8,596.6 L718.4,597.3 L717.9,597.7 L717.4,597.8 L716.8,597.7 L716.2,597.6 L715.6,597.7 L715.2,598.1 L714.7,598.7 L714.2,599.2 L713.7,599.6 L713.1,599.6 L712.6,599.4 L712,599.1 L711.5,599.1 L711,599.4 L710.5,599.9 L709.9,600.4 L709.3,600.6 L708.8,600.5 L708.3,600.2 L707.9,599.8 L707.4,599.7 L706.8,599.9 L706.2,600.3 L705.6,600.6 L705.1,600.8 L704.6,600.6 L704.2,600.1 L703.8,599.7 L703.4,599.4 L702.8,599.5 L702.2,599.8 L701.6,600 L701,600.1 L700.6,599.7 L700.3,599.2 L700,598.7 L699.7,598.3 L699.1,598.3 L698.5,598.4 L697.9,598.6 L697.3,598.5 L697,598.1 L696.8,597.5 L696.6,596.9 L696.3,596.4 L695.9,596.3 L695.2,596.3 L694.6,596.3 L694.1,596.1 L693.9,595.6 L693.8,595 L693.7,594.3 L693.5,593.8 L693.1,593.6 L692.5,593.5 L691.9,593.3 L691.5,593 L691.3,592.5 L691.4,591.8 L691.4,591.1 L691.3,590.6 L691,590.2 L690.4,590 L689.9,589.7 L689.5,589.3 L689.5,588.7 L689.6,588 L689.8,587.3 L689.8,586.8 L689.5,586.3 L689.1,586 L688.6,585.6 L688.3,585.1 L688.4,584.5 L688.7,583.8 L688.9,583.2 L689,582.6 L688.8,582.1 L688.4,581.6 L688.1,581.1 L687.9,580.6 L688.1,580 L688.4,579.3 L688.8,578.7 L689,578.1 L688.9,577.6 L688.6,577 L688.3,576.5 L688.3,575.9 L688.5,575.3 L689,574.7 L689.5,574.1 L689.8,573.6 L689.8,573 L689.6,572.4 L689.4,571.7 L689.5,571.1 L689.8,570.6 L690.3,570.1 L690.9,569.6 L691.2,569.1 L691.3,568.5 L691.3,567.8 L691.2,567.1 L691.4,566.5 L691.8,566 L692.4,565.6 L693,565.2 L693.4,564.8 L693.6,564.2 L693.6,563.5 L693.7,562.8 L694,562.2 L694.4,561.7 L695.1,561.4 L695.7,561.2 L696.2,560.8 L696.5,560.2 L696.6,559.5 L696.8,558.8 L697.2,558.3 L697.7,557.9 L698.3,557.8 L699,557.6 L699.5,557.3 L699.8,556.8 L700.1,556.1 L700.4,555.4 L700.8,554.9 L701.4,554.7 L702,554.7 L702.6,554.6 L703.2,554.5 L703.6,554 L704,553.4 L704.4,552.7 L704.9,552.3 L705.4,552.2 L706,552.3 L706.6,552.4 L707.2,552.3 L707.6,551.9 L708.1,551.3 L708.6,550.8 L709.1,550.4 L709.7,550.4 L710.2,550.6 L710.8,550.9 L711.3,550.9 L711.8,550.6 L712.3,550.1 L712.9,549.6 L713.5,549.4 L714,549.5 L714.5,549.8 L714.9,550.2 L715.4,550.3 L716,550.1 L716.6,549.7 L717.2,549.4 L717.7,549.2 L718.2,549.4 L718.6,549.9 L719,550.3 L719.4,550.6 L720,550.5 L720.6,550.2 L721.2,550 L721.8,549.9 L722.2,550.3 L722.5,550.8 L722.8,551.3 L723.1,551.7 L723.7,551.7 L724.3,551.6 L724.9,551.4 L725.5,551.5 L725.8,551.9 L726,552.5 L726.2,553.1 L726.5,553.6 L726.9,553.7 L727.6,553.7 L728.2,553.7 L728.7,553.9 L728.9,554.4 L729,555 L729.1,555.7 L729.3,556.2 L729.7,556.4 L730.3,556.5 L730.9,556.7 L731.3,557 L731.5,557.5 L731.4,558.2 L731.4,558.9 L731.5,559.4 L731.8,559.8 L732.4,560 L732.9,560.3 L733.3,560.7 L733.3,561.3 L733.2,562 L733,562.7 L733,563.2 L733.3,563.7 L733.7,564 L734.2,564.4 L734.5,564.9 L734.4,565.5 L734.1,566.2 L733.9,566.8 L733.8,567.4 L734,567.9 L734.4,568.4 L734.7,568.9 L734.9,569.4 L734.7,570 L734.4,570.7 L734,571.3 L733.8,571.9 L733.9,572.4 L734.2,573 L734.5,573.5 L734.5,574.1 L734.3,574.7 L733.8,575.3 L733.3,575.9 L733,576.4 L733,577 L733.2,577.6 L733.4,578.3 L733.3,578.9 L733,579.4 L732.5,579.9 L731.9,580.4 L731.6,580.9 L731.5,581.5 L731.5,582.2 L731.6,582.9 L731.4,583.5 L731,584 L730.4,584.4 L729.8,584.8 L729.4,585.2 L729.2,585.8 L729.2,586.5 Z" fill="none" stroke="#000" stroke-width="1.3"/>
<path d="M772.8,609.6 L772.6,611.2 L772,612.5 L771,613.5 L769.6,614.1 L768.2,614.7 L767.1,615.5 L766.4,616.7 L766,618.2 L765.5,619.7 L764.7,620.9 L763.5,621.6 L762.1,621.9 L760.7,622.1 L759.5,622.6 L758.6,623.7 L757.8,625.1 L757,626.5 L756,627.5 L754.8,627.9 L753.4,627.8 L752.1,627.6 L750.9,627.9 L749.8,628.7 L748.8,630 L747.8,631.2 L746.6,632 L745.4,632 L744.1,631.6 L743,631 L741.8,631 L740.7,631.5 L739.4,632.5 L738.2,633.5 L736.9,634 L735.8,633.7 L734.8,632.9 L733.8,632 L732.8,631.7 L731.6,631.9 L730.2,632.6 L728.9,633.3 L727.6,633.5 L726.6,632.9 L725.9,631.8 L725.2,630.6 L724.3,629.9 L723.2,629.9 L721.8,630.3 L720.4,630.6 L719.2,630.4 L718.4,629.5 L718,628.2 L717.6,626.8 L716.9,625.9 L715.9,625.5 L714.5,625.6 L713.1,625.5 L712.1,625 L711.6,623.9 L711.5,622.4 L711.4,620.9 L711,619.8 L710.2,619.1 L708.9,618.8 L707.7,618.4 L706.8,617.6 L706.6,616.3 L706.8,614.7 L707.1,613.2 L707,612 L706.3,611.1 L705.3,610.3 L704.2,609.6 L703.6,608.5 L703.7,607.2 L704.2,605.6 L704.8,604.2 L705,602.8 L704.6,601.7 L703.8,600.7 L703,599.7 L702.7,598.4 L703,597.1 L703.9,595.7 L704.8,594.3 L705.2,593 L705.1,591.8 L704.6,590.5 L704.1,589.2 L704.1,587.9 L704.7,586.6 L705.8,585.3 L706.9,584.2 L707.6,583 L707.8,581.7 L707.6,580.2 L707.4,578.8 L707.7,577.4 L708.6,576.2 L709.9,575.3 L711.1,574.4 L712.1,573.4 L712.5,572.1 L712.6,570.6 L712.8,569 L713.4,567.7 L714.4,566.7 L715.8,566.1 L717.2,565.5 L718.3,564.7 L719,563.5 L719.4,562 L719.9,560.5 L720.7,559.3 L721.9,558.6 L723.3,558.3 L724.7,558.1 L725.9,557.6 L726.8,556.5 L727.6,555.1 L728.4,553.7 L729.4,552.7 L730.6,552.3 L732,552.4 L733.3,552.6 L734.5,552.3 L735.6,551.5 L736.6,550.2 L737.6,549 L738.8,548.2 L740,548.2 L741.3,548.6 L742.4,549.2 L743.6,549.2 L744.7,548.7 L746,547.7 L747.2,546.7 L748.5,546.2 L749.6,546.5 L750.6,547.3 L751.6,548.2 L752.6,548.5 L753.8,548.3 L755.2,547.6 L756.5,546.9 L757.8,546.7 L758.8,547.3 L759.5,548.4 L760.2,549.6 L761.1,550.3 L762.2,550.3 L763.6,549.9 L765,549.6 L766.2,549.8 L767,550.7 L767.4,552 L767.8,553.4 L768.5,554.3 L769.5,554.7 L770.9,554.6 L772.3,554.7 L773.3,555.2 L773.8,556.3 L773.9,557.8 L774,559.3 L774.4,560.4 L775.2,561.1 L776.5,561.4 L777.7,561.8 L778.6,562.6 L778.8,563.9 L778.6,565.5 L778.3,567 L778.4,568.2 L779.1,569.1 L780.1,569.9 L781.2,570.6 L781.8,571.7 L781.7,573 L781.2,574.6 L780.6,576 L780.4,577.4 L780.8,578.5 L781.6,579.5 L782.4,580.5 L782.7,581.8 L782.4,583.1 L781.5,584.5 L780.6,585.9 L780.2,587.2 L780.3,588.4 L780.8,589.7 L781.3,591 L781.3,592.3 L780.7,593.6 L779.6,594.9 L778.5,596 L777.8,597.2 L777.6,598.5 L777.8,600 L778,601.4 L777.7,602.8 L776.8,604 L775.5,604.9 L774.3,605.8 L773.3,606.8 L772.9,608.1 L772.8,609.6 Z" fill="#fbfbfb" stroke="#000" stroke-width="1.8"/>
<path d="M738.3,619.6 L735.6,619.6 L732.9,619.3 L730.3,618.6 L727.9,617.6 L725.6,616.4 L723.6,614.8 L721.7,613 L720.1,610.9 L718.7,608.6 L717.5,606.1 L716.7,603.4 L716.1,600.6 L715.9,597.7 L715.9,594.6 L716.2,591.6 L716.8,588.5 L717.7,585.4 L718.8,582.4 L720.3,579.4 L721.9,576.6 L723.8,573.9 L725.9,571.4 L728.2,569.2 L730.7,567.1 L733.3,565.3 L735.9,563.7 L738.7,562.5 L741.5,561.6 L744.3,560.9 L747.1,560.6 L749.8,560.6 L752.5,560.9 L755.1,561.6 L757.5,562.6 L759.8,563.8 L761.8,565.4 L763.7,567.2 L765.3,569.3 L766.7,571.6 L767.9,574.1 L768.7,576.8 L769.3,579.6 L769.5,582.5 L769.5,585.6 L769.2,588.6" fill="none" stroke="#000" stroke-width="1.3"/>
<ellipse cx="763.1" cy="601.3" rx="33.3" ry="42.2" transform="rotate(33 763.1 601.3)" fill="#fbfbfb" stroke="#000" stroke-width="1.1"/>
<path d="M731.6,627.8 L729.9,624.5 L728.6,621 L727.6,617.2 L727.1,613.2 L726.9,609.1 L727.2,605 L727.8,600.7 L728.9,596.5 L730.4,592.3 L732.2,588.3 L734.4,584.4 L736.9,580.6 L739.7,577.1 L742.7,573.9 L746,571 L749.5,568.4 L753.1,566.3 L756.9,564.5 L760.7,563.1 L764.6,562.1 L768.4,561.6 L766.5,576.1 L764,576.4 L761.6,577 L759.2,577.9 L756.8,579 L754.5,580.4 L752.3,582.1 L750.2,583.9 L748.2,586 L746.4,588.2 L744.9,590.5 L743.5,593 L742.3,595.6 L741.4,598.3 L740.7,600.9 L740.3,603.6 L740.1,606.3 L740.2,608.9 L740.6,611.4 L741.2,613.8 L742,616.1 L743.1,618.1 Z" fill="#000" stroke="none" stroke-width="0"/>
<path d="M746.5,575 L749.5,572.7 L752.5,570.7 L755.7,568.9 L759,567.6 L762.3,566.5 L765.6,565.8" fill="none" stroke="#fbfbfb" stroke-width="1.0"/>
<path d="M749.7,575.6 L752.2,573.8 L754.9,572.2 L757.6,570.9 L760.4,569.8 L763.1,569 L765.9,568.5" fill="none" stroke="#fbfbfb" stroke-width="1.1"/>
<path d="M753.4,575.9 L755.4,574.7 L757.4,573.7 L759.5,572.9 L761.5,572.2 L763.6,571.6 L765.7,571.3" fill="none" stroke="#fbfbfb" stroke-width="1.0"/>
<path d="M757.6,576 L758.8,575.5 L760.1,575 L761.3,574.6 L762.5,574.2 L763.8,573.9 L765.1,573.7" fill="none" stroke="#fbfbfb" stroke-width="0.7"/>
<path d="M735.8,623.7 L735,622.2 L734.3,620.7 L733.7,619.1 L733.2,617.5 L732.7,615.8 L732.4,614" fill="none" stroke="#fbfbfb" stroke-width="0.9"/>
<path d="M738.3,621.6 L737.7,620.4 L737.1,619.2 L736.6,617.9 L736.1,616.6 L735.8,615.2 L735.4,613.8" fill="none" stroke="#fbfbfb" stroke-width="0.9"/>
<path d="M733.3,625 L732.8,624.2 L732.4,623.3 L732,622.4 L731.7,621.5 L731.3,620.6 L731,619.7" fill="none" stroke="#fbfbfb" stroke-width="0.6"/>
<path d="M737.8,613.2 L737.4,610.3 L737.2,607.3 L737.4,604.1 L737.9,601 L738.7,597.8 L739.8,594.7 L741.1,591.7 L742.8,588.8 L744.7,586 L746.8,583.5 L749.2,581.1" fill="none" stroke="#fbfbfb" stroke-width="0.9" stroke-dasharray="4 2.5"/>
<path d="M732.8,603 L733.5,599 L734.7,595.1 L736.3,591.3 L738.2,587.6 L740.5,584.1 L743.1,580.9" fill="none" stroke="#fbfbfb" stroke-width="0.5" stroke-dasharray="2 4"/>
<path d="M778.5,569.6 L779,569.8 L779.5,570 L780.1,570.2 L780.6,570.5 L781.1,570.8 L781.6,571.1 L777.1,578.4 L776.7,578.2 L776.3,578 L775.9,577.8 L775.5,577.6 L775.1,577.5 L774.7,577.3 Z" fill="#000" stroke="none" stroke-width="0"/>
<path d="M791,570 L792.2,571.4 L793.4,572.9 L794.4,574.5 L795.4,576.2 L796.2,577.9 L797,579.7 L784.6,587.6 L784.1,586.5 L783.6,585.3 L783,584.3 L782.3,583.3 L781.6,582.3 L780.8,581.4 Z" fill="#000" stroke="none" stroke-width="0"/>
<path d="M784.2,568.7 L785.3,569.5 L786.4,570.3 L787.4,571.2 L788.4,572.1 L789.3,573.1 L790.2,574.2" fill="none" stroke="#000" stroke-width="0.7"/>
<path d="M788.8,572.5 L789.3,573.1 L789.8,573.7 L790.4,574.4 L790.8,575 L791.3,575.7 L791.8,576.4" fill="none" stroke="#fbfbfb" stroke-width="0.7"/>
<path d="M782.4,571.6 L783.4,572.3 L784.4,573 L785.3,573.8 L786.2,574.7 L787,575.6 L787.8,576.5" fill="none" stroke="#000" stroke-width="0.7"/>
<path d="M786.5,575 L787,575.6 L787.5,576.1 L788,576.7 L788.4,577.3 L788.9,577.9 L789.3,578.6" fill="none" stroke="#fbfbfb" stroke-width="0.7"/>
<path d="M780.6,574.4 L781.5,575 L782.4,575.7 L783.2,576.4 L784,577.2 L784.8,578 L785.5,578.9" fill="none" stroke="#000" stroke-width="0.7"/>
<path d="M784.3,577.5 L784.8,578 L785.2,578.5 L785.6,579.1 L786,579.6 L786.4,580.2 L786.8,580.7" fill="none" stroke="#fbfbfb" stroke-width="0.7"/>
<path d="M759.6,563.4 L763.5,562.3 L767.5,561.7 L771.3,561.5 L775.1,561.8 L778.8,562.6 L782.2,563.8 L785.5,565.5 L788.4,567.6 L791.1,570.1 L793.4,573 L795.4,576.2 L797,579.7" fill="none" stroke="#000" stroke-width="2.0"/>
<path d="M749.8,632 L749.5,631.9 L749.2,631.8 L748.9,631.7 L748.6,631.6 L748.3,631.5 L748,631.4 L751.1,625.2 L751.3,625.3 L751.6,625.3 L751.8,625.4 L752,625.5 L752.3,625.6 L752.5,625.7 Z" fill="#000" stroke="none" stroke-width="0"/>
<path d="M739.4,631.9 L738.4,631 L737.4,630.1 L736.5,629.1 L735.7,628 L734.9,626.9 L734.1,625.7" fill="none" stroke="#000" stroke-width="0.6"/>
<path d="M741.4,629.3 L740.5,628.4 L739.7,627.6 L738.8,626.6 L738.1,625.7 L737.3,624.7 L736.7,623.6" fill="none" stroke="#000" stroke-width="0.6"/>
<path d="M780.9,612.8 L780.8,613.5 L780.5,614.1 L780.1,614.6 L779.4,614.9 L778.8,615.1 L778.3,615.5 L778,616.1 L777.9,616.8 L777.7,617.5 L777.3,618 L776.8,618.4 L776.2,618.5 L775.5,618.7 L775,619 L774.7,619.5 L774.4,620.2 L774.1,620.9 L773.7,621.4 L773.1,621.6 L772.5,621.6 L771.9,621.7 L771.3,621.8 L770.9,622.3 L770.5,622.9 L770.1,623.6 L769.6,624 L769.1,624.1 L768.5,624 L767.9,623.9 L767.3,624 L766.9,624.4 L766.4,625 L765.9,625.5 L765.4,625.9 L764.8,625.9 L764.3,625.7 L763.7,625.4 L763.2,625.4 L762.7,625.7 L762.2,626.2 L761.6,626.7 L761,626.9 L760.5,626.8 L760,626.5 L759.6,626.1 L759.1,626 L758.5,626.2 L757.9,626.6 L757.3,626.9 L756.8,627.1 L756.3,626.9 L755.9,626.4 L755.5,626 L755.1,625.7 L754.5,625.8 L753.9,626.1 L753.3,626.3 L752.7,626.4 L752.3,626 L752,625.5 L751.7,625 L751.4,624.6 L750.8,624.6 L750.2,624.7 L749.6,624.9 L749,624.8 L748.7,624.4 L748.5,623.8 L748.3,623.2 L748,622.7 L747.6,622.6 L746.9,622.6 L746.3,622.6 L745.8,622.4 L745.6,621.9 L745.5,621.3 L745.4,620.6 L745.2,620.1 L744.8,619.9 L744.2,619.8 L743.6,619.6 L743.2,619.3 L743,618.8 L743.1,618.1 L743.1,617.4 L743,616.9 L742.7,616.5 L742.1,616.3 L741.6,616 L741.2,615.6 L741.2,615 L741.3,614.3 L741.5,613.6 L741.5,613.1 L741.2,612.6 L740.8,612.3 L740.3,611.9 L740,611.4 L740.1,610.8 L740.4,610.1 L740.6,609.5 L740.7,608.9 L740.5,608.4 L740.1,607.9 L739.8,607.4 L739.6,606.9 L739.8,606.3 L740.1,605.6 L740.5,605 L740.7,604.4 L740.6,603.9 L740.3,603.3 L740,602.8 L740,602.2 L740.2,601.6 L740.7,601 L741.2,600.4 L741.5,599.9 L741.5,599.3 L741.3,598.7 L741.1,598 L741.2,597.4 L741.5,596.9 L742,596.4 L742.6,595.9 L742.9,595.4 L743,594.8 L743,594.1 L742.9,593.4 L743.1,592.8 L743.5,592.3 L744.1,591.9 L744.7,591.5 L745.1,591.1 L745.3,590.5 L745.3,589.8 L745.4,589.1 L745.7,588.5 L746.1,588 L746.8,587.7 L747.4,587.5 L747.9,587.1 L748.2,586.5 L748.3,585.8 L748.5,585.1 L748.9,584.6 L749.4,584.2 L750,584.1 L750.7,583.9 L751.2,583.6 L751.5,583.1 L751.8,582.4 L752.1,581.7 L752.5,581.2 L753.1,581 L753.7,581 L754.3,580.9 L754.9,580.8 L755.3,580.3 L755.7,579.7 L756.1,579 L756.6,578.6 L757.1,578.5 L757.7,578.6 L758.3,578.7 L758.9,578.6 L759.3,578.2 L759.8,577.6 L760.3,577.1 L760.8,576.7 L761.4,576.7 L761.9,576.9 L762.5,577.2 L763,577.2 L763.5,576.9 L764,576.4 L764.6,575.9 L765.2,575.7 L765.7,575.8 L766.2,576.1 L766.6,576.5 L767.1,576.6 L767.7,576.4 L768.3,576 L768.9,575.7 L769.4,575.5 L769.9,575.7 L770.3,576.2 L770.7,576.6 L771.1,576.9 L771.7,576.8 L772.3,576.5 L772.9,576.3 L773.5,576.2 L773.9,576.6 L774.2,577.1 L774.5,577.6 L774.8,578 L775.4,578 L776,577.9 L776.6,577.7 L777.2,577.8 L777.5,578.2 L777.7,578.8 L777.9,579.4 L778.2,579.9 L778.6,580 L779.3,580 L779.9,580 L780.4,580.2 L780.6,580.7 L780.7,581.3 L780.8,582 L781,582.5 L781.4,582.7 L782,582.8 L782.6,583 L783,583.3 L783.2,583.8 L783.1,584.5 L783.1,585.2 L783.2,585.7 L783.5,586.1 L784.1,586.3 L784.6,586.6 L785,587 L785,587.6 L784.9,588.3 L784.7,589 L784.7,589.5 L785,590 L785.4,590.3 L785.9,590.7 L786.2,591.2 L786.1,591.8 L785.8,592.5 L785.6,593.1 L785.5,593.7 L785.7,594.2 L786.1,594.7 L786.4,595.2 L786.6,595.7 L786.4,596.3 L786.1,597 L785.7,597.6 L785.5,598.2 L785.6,598.7 L785.9,599.3 L786.2,599.8 L786.2,600.4 L786,601 L785.5,601.6 L785,602.2 L784.7,602.7 L784.7,603.3 L784.9,603.9 L785.1,604.6 L785,605.2 L784.7,605.7 L784.2,606.2 L783.6,606.7 L783.3,607.2 L783.2,607.8 L783.2,608.5 L783.3,609.2 L783.1,609.8 L782.7,610.3 L782.1,610.7 L781.5,611.1 L781.1,611.5 L780.9,612.1 L780.9,612.8 Z" fill="none" stroke="#000" stroke-width="1.3"/>
<path d="M824.5,641.1 L824.4,642.6 L823.8,644 L822.7,644.9 L821.3,645.5 L820,646.1 L818.9,646.9 L818.2,648.1 L817.7,649.6 L817.2,651.2 L816.4,652.4 L815.2,653.1 L813.8,653.3 L812.4,653.5 L811.2,654.1 L810.3,655.1 L809.6,656.6 L808.8,658 L807.7,659 L806.5,659.4 L805.1,659.3 L803.8,659.1 L802.6,659.4 L801.5,660.2 L800.5,661.5 L799.5,662.7 L798.3,663.5 L797.1,663.5 L795.8,663 L794.7,662.5 L793.5,662.4 L792.3,663 L791.1,664 L789.9,665 L788.6,665.5 L787.5,665.2 L786.5,664.4 L785.5,663.5 L784.5,663.1 L783.3,663.4 L781.9,664.1 L780.5,664.8 L779.3,664.9 L778.3,664.3 L777.6,663.2 L776.9,662.1 L776,661.4 L774.8,661.4 L773.4,661.7 L772,662.1 L770.8,661.9 L770.1,661 L769.6,659.7 L769.2,658.3 L768.6,657.4 L767.5,657 L766.2,657 L764.8,657 L763.8,656.5 L763.2,655.4 L763.1,653.9 L763.1,652.4 L762.7,651.3 L761.8,650.6 L760.5,650.2 L759.3,649.8 L758.5,649 L758.2,647.7 L758.4,646.2 L758.7,644.7 L758.6,643.4 L758,642.5 L756.9,641.8 L755.8,641 L755.2,640 L755.3,638.6 L755.9,637.1 L756.5,635.6 L756.6,634.3 L756.2,633.2 L755.4,632.2 L754.6,631.1 L754.3,629.9 L754.7,628.5 L755.5,627.1 L756.4,625.7 L756.9,624.4 L756.7,623.2 L756.2,621.9 L755.7,620.6 L755.7,619.2 L756.3,617.9 L757.4,616.7 L758.5,615.6 L759.3,614.4 L759.4,613.1 L759.2,611.6 L759,610.1 L759.3,608.8 L760.2,607.6 L761.5,606.7 L762.8,605.8 L763.7,604.7 L764.1,603.4 L764.3,601.9 L764.4,600.4 L765,599 L766.1,598.1 L767.5,597.5 L768.8,596.9 L769.9,596.1 L770.6,594.9 L771.1,593.4 L771.6,591.8 L772.4,590.6 L773.6,589.9 L775,589.7 L776.4,589.5 L777.6,588.9 L778.5,587.9 L779.2,586.4 L780,585 L781.1,584 L782.3,583.6 L783.7,583.7 L785,583.9 L786.2,583.6 L787.3,582.8 L788.3,581.5 L789.3,580.3 L790.5,579.5 L791.7,579.5 L793,580 L794.1,580.5 L795.3,580.6 L796.5,580 L797.7,579 L798.9,578 L800.2,577.5 L801.3,577.8 L802.3,578.6 L803.3,579.5 L804.3,579.9 L805.5,579.6 L806.9,578.9 L808.3,578.2 L809.5,578.1 L810.5,578.7 L811.2,579.8 L811.9,580.9 L812.8,581.6 L814,581.6 L815.4,581.3 L816.8,580.9 L818,581.1 L818.7,582 L819.2,583.3 L819.6,584.7 L820.2,585.6 L821.3,586 L822.6,586 L824,586 L825,586.5 L825.6,587.6 L825.7,589.1 L825.7,590.6 L826.1,591.7 L827,592.4 L828.3,592.8 L829.5,593.2 L830.3,594 L830.6,595.3 L830.4,596.8 L830.1,598.3 L830.2,599.6 L830.8,600.5 L831.9,601.2 L833,602 L833.6,603 L833.5,604.4 L832.9,605.9 L832.3,607.4 L832.2,608.7 L832.6,609.8 L833.4,610.8 L834.2,611.9 L834.5,613.1 L834.1,614.5 L833.3,615.9 L832.4,617.3 L831.9,618.6 L832.1,619.8 L832.6,621.1 L833.1,622.4 L833.1,623.8 L832.5,625.1 L831.4,626.3 L830.3,627.4 L829.5,628.6 L829.4,629.9 L829.6,631.4 L829.8,632.9 L829.5,634.2 L828.6,635.4 L827.3,636.3 L826,637.2 L825.1,638.3 L824.7,639.6 L824.5,641.1 Z" fill="#fbfbfb" stroke="#000" stroke-width="1.8"/>
<path d="M790,651.1 L787.2,651 L784.6,650.7 L782,650.1 L779.6,649.1 L777.3,647.8 L775.2,646.3 L773.3,644.4 L771.7,642.4 L770.3,640.1 L769.2,637.5 L768.3,634.9 L767.8,632 L767.5,629.1 L767.5,626 L767.8,623 L768.4,619.9 L769.3,616.8 L770.5,613.8 L771.9,610.8 L773.6,608 L775.5,605.3 L777.6,602.8 L779.9,600.5 L782.4,598.5 L784.9,596.6 L787.6,595.1 L790.4,593.8 L793.2,592.9 L796,592.3 L798.8,591.9 L801.6,592 L804.2,592.3 L806.8,592.9 L809.2,593.9 L811.5,595.2 L813.6,596.7 L815.5,598.6 L817.1,600.6 L818.5,602.9 L819.6,605.5 L820.5,608.1 L821,611 L821.3,613.9 L821.3,617 L821,620" fill="none" stroke="#000" stroke-width="1.3"/>
<ellipse cx="816" cy="631.2" rx="33.3" ry="42.2" transform="rotate(33 816 631.2)" fill="#fbfbfb" stroke="#000" stroke-width="1.1"/>
<path d="M787.3,661.6 L785.1,658.7 L783.3,655.4 L781.8,651.9 L780.7,648.1 L780.1,644.1 L779.8,640 L780,635.7 L780.6,631.5 L781.6,627.2 L783,622.9 L784.8,618.8 L786.9,614.8 L789.4,611 L792.2,607.4 L795.3,604.1 L798.6,601.1 L802.2,598.5 L805.8,596.3 L809.6,594.4 L813.5,593 L817.4,592 L821.3,591.5 L819.4,606 L816.9,606.3 L814.4,606.9 L812,607.8 L809.5,609 L807.2,610.4 L805,612.1 L802.9,614 L800.9,616.1 L799.1,618.4 L797.5,620.8 L796.2,623.3 L795,626 L794.1,628.6 L793.5,631.4 L793.1,634.1 L793,636.8 L793.2,639.4 L793.6,641.9 L794.3,644.3 L795.2,646.6 L796.4,648.6 L797.8,650.5 Z" fill="#000" stroke="none" stroke-width="0"/>
<path d="M799.4,604.9 L802.4,602.6 L805.4,600.6 L808.6,598.8 L811.9,597.5 L815.2,596.4 L818.5,595.7" fill="none" stroke="#fbfbfb" stroke-width="1.0"/>
<path d="M802.6,605.5 L805.1,603.7 L807.8,602.1 L810.5,600.8 L813.3,599.7 L816,598.9 L818.8,598.4" fill="none" stroke="#fbfbfb" stroke-width="1.1"/>
<path d="M806.3,605.8 L808.3,604.6 L810.3,603.6 L812.4,602.8 L814.4,602.1 L816.5,601.5 L818.6,601.2" fill="none" stroke="#fbfbfb" stroke-width="1.0"/>
<path d="M810.5,605.9 L811.7,605.4 L813,604.9 L814.2,604.5 L815.4,604.1 L816.7,603.8 L818,603.6" fill="none" stroke="#fbfbfb" stroke-width="0.7"/>
<path d="M791,657 L790,655.7 L789.1,654.3 L788.3,652.9 L787.5,651.4 L786.9,649.8 L786.3,648.2" fill="none" stroke="#fbfbfb" stroke-width="0.9"/>
<path d="M793.3,654.6 L792.5,653.5 L791.8,652.4 L791.1,651.3 L790.5,650.1 L789.9,648.9 L789.4,647.6" fill="none" stroke="#fbfbfb" stroke-width="0.9"/>
<path d="M788.6,658.6 L788.1,657.9 L787.5,657.1 L787,656.4 L786.5,655.6 L786.1,654.7 L785.6,653.9" fill="none" stroke="#fbfbfb" stroke-width="0.6"/>
<path d="M790.7,643.1 L790.3,640.2 L790.1,637.2 L790.3,634 L790.8,630.9 L791.6,627.7 L792.7,624.6 L794,621.6 L795.7,618.7 L797.6,615.9 L799.7,613.4 L802.1,611" fill="none" stroke="#fbfbfb" stroke-width="0.9" stroke-dasharray="4 2.5"/>
<path d="M785.7,632.9 L786.4,628.9 L787.6,625 L789.2,621.2 L791.1,617.5 L793.4,614 L796,610.8" fill="none" stroke="#fbfbfb" stroke-width="0.5" stroke-dasharray="2 4"/>
<path d="M829.2,591.9 L832.8,592.8 L836.1,594.2 L839.2,596 L842.1,598.1 L844.6,600.7 L846.8,603.6 L848.7,606.8 L850.1,610.4 L851.2,614.1 L851.9,618.1 L852.2,622.2 L852,626.4 L851.5,630.6 L850.5,634.9 L849.1,639.1 L847.4,643.2 L845.3,647.2 L842.8,651 L840.1,654.6 L837,657.9 L833.7,660.9 L830.3,663.6 L826.6,665.9 L822.8,667.8 L819,669.2 L815.1,670.3 L815.4,656 L817.9,655.4 L820.3,654.4 L822.7,653.2 L825.1,651.8 L827.3,650.1 L829.3,648.2 L831.3,646.1 L833,643.8 L834.6,641.4 L835.9,638.8 L837,636.2 L837.9,633.5 L838.5,630.8 L838.9,628.1 L839,625.5 L838.8,622.9 L838.4,620.3 L837.7,618 L836.7,615.7 L835.6,613.7 L834.2,611.8 L832.5,610.2 L830.7,608.8 L828.8,607.7 L826.6,606.8 L824.4,606.3 Z" fill="#000" stroke="none" stroke-width="0"/>
<path d="M828.2,595.1 L830.5,595.6 L832.7,596.4 L834.8,597.3 L836.8,598.4 L838.7,599.8 L840.5,601.3" fill="none" stroke="#fbfbfb" stroke-width="1.1"/>
<path d="M827.7,661.9 L825.9,663 L824,664 L822.1,664.9 L820.2,665.7 L818.3,666.3 L816.3,666.9" fill="none" stroke="#fbfbfb" stroke-width="1.1"/>
<path d="M827.2,597.8 L829.4,598.3 L831.4,599 L833.4,599.9 L835.3,600.9 L837,602.2 L838.7,603.6" fill="none" stroke="#fbfbfb" stroke-width="1.1"/>
<path d="M826.8,659.6 L825.1,660.6 L823.4,661.5 L821.6,662.4 L819.9,663.1 L818.1,663.7 L816.3,664.2" fill="none" stroke="#fbfbfb" stroke-width="1.1"/>
<path d="M826.3,600.6 L828.3,601 L830.2,601.7 L832,602.5 L833.7,603.4 L835.3,604.6 L836.8,605.8" fill="none" stroke="#fbfbfb" stroke-width="1.1"/>
<path d="M825.9,657.3 L824.4,658.2 L822.8,659 L821.2,659.8 L819.6,660.4 L817.9,661 L816.3,661.5" fill="none" stroke="#fbfbfb" stroke-width="1.1"/>
<path d="M825.4,603.3 L827.2,603.7 L828.9,604.3 L830.5,605 L832.1,605.9 L833.6,606.9 L834.9,608.1" fill="none" stroke="#fbfbfb" stroke-width="1.1"/>
<path d="M825,654.9 L823.6,655.8 L822.2,656.5 L820.7,657.2 L819.2,657.8 L817.8,658.3 L816.3,658.7" fill="none" stroke="#fbfbfb" stroke-width="1.1"/>
<path d="M805.4,662.6 L805,662.5 L804.6,662.5 L804.3,662.4 L803.9,662.3 L803.5,662.2 L803.1,662.1 L805.8,655.7 L806.1,655.8 L806.4,655.9 L806.7,655.9 L807,656 L807.3,656.1 L807.6,656.1 Z" fill="#000" stroke="none" stroke-width="0"/>
<path d="M819.5,669.1 L815.4,670.2 L811.3,670.8 L807.3,671 L803.4,670.6 L799.6,669.7 L796.1,668.3 L792.8,666.4 L789.8,664.1 L787.1,661.4 L784.8,658.2" fill="none" stroke="#000" stroke-width="1.8"/>
<path d="M812.5,593.3 L816.2,592.3 L819.8,591.7 L823.5,591.4 L827,591.6 L830.5,592.2 L833.8,593.2" fill="none" stroke="#000" stroke-width="2.0"/>
<path d="M812.9,667.5 L811.5,667.7 L810.2,667.8 L808.8,667.8 L807.5,667.8 L806.2,667.7 L804.9,667.5" fill="none" stroke="#000" stroke-width="0.6"/>
<path d="M794.9,663.8 L793.9,663.1 L793,662.4 L792.1,661.7 L791.2,660.9 L790.4,660 L789.6,659.2" fill="none" stroke="#000" stroke-width="0.6"/>
<path d="M813.1,664.4 L811.9,664.5 L810.7,664.6 L809.5,664.6 L808.3,664.6 L807.1,664.5 L805.9,664.4" fill="none" stroke="#000" stroke-width="0.6"/>
<path d="M796.7,660.9 L795.8,660.3 L795,659.7 L794.2,659 L793.4,658.3 L792.6,657.5 L791.9,656.7" fill="none" stroke="#000" stroke-width="0.6"/>
<path d="M813.4,661.2 L812.3,661.3 L811.2,661.4 L810.1,661.4 L809,661.4 L807.9,661.3 L806.9,661.2" fill="none" stroke="#000" stroke-width="0.6"/>
<path d="M798.5,658.1 L797.7,657.6 L797,657 L796.2,656.4 L795.5,655.7 L794.8,655 L794.2,654.3" fill="none" stroke="#000" stroke-width="0.6"/>
<path d="M833.8,642.7 L833.7,643.4 L833.4,644 L833,644.5 L832.3,644.8 L831.7,645 L831.2,645.4 L830.9,646 L830.8,646.7 L830.6,647.4 L830.2,647.9 L829.7,648.3 L829.1,648.4 L828.4,648.6 L827.9,648.9 L827.6,649.4 L827.3,650.1 L827,650.8 L826.6,651.3 L826,651.5 L825.4,651.5 L824.8,651.6 L824.2,651.7 L823.8,652.2 L823.4,652.8 L823,653.5 L822.5,653.9 L822,654 L821.4,653.9 L820.8,653.8 L820.2,653.9 L819.8,654.3 L819.3,654.9 L818.8,655.4 L818.3,655.8 L817.7,655.8 L817.2,655.6 L816.6,655.3 L816.1,655.3 L815.6,655.6 L815.1,656.1 L814.5,656.6 L813.9,656.8 L813.4,656.7 L812.9,656.4 L812.5,656 L812,655.9 L811.4,656.1 L810.8,656.5 L810.2,656.8 L809.7,657 L809.2,656.8 L808.8,656.3 L808.4,655.9 L808,655.6 L807.4,655.7 L806.8,656 L806.2,656.2 L805.6,656.3 L805.2,655.9 L804.9,655.4 L804.6,654.9 L804.3,654.5 L803.7,654.5 L803.1,654.6 L802.5,654.8 L801.9,654.7 L801.6,654.3 L801.4,653.7 L801.2,653.1 L800.9,652.6 L800.5,652.5 L799.8,652.5 L799.2,652.5 L798.7,652.3 L798.5,651.8 L798.4,651.2 L798.3,650.5 L798.1,650 L797.7,649.8 L797.1,649.7 L796.5,649.5 L796.1,649.2 L795.9,648.7 L796,648 L796,647.3 L795.9,646.8 L795.6,646.4 L795,646.2 L794.5,645.9 L794.1,645.5 L794.1,644.9 L794.2,644.2 L794.4,643.5 L794.4,643 L794.1,642.5 L793.7,642.2 L793.2,641.8 L792.9,641.3 L793,640.7 L793.3,640 L793.5,639.4 L793.6,638.8 L793.4,638.3 L793,637.8 L792.7,637.3 L792.5,636.8 L792.7,636.2 L793,635.5 L793.4,634.9 L793.6,634.3 L793.5,633.8 L793.2,633.2 L792.9,632.7 L792.9,632.1 L793.1,631.5 L793.6,630.9 L794.1,630.3 L794.4,629.8 L794.4,629.2 L794.2,628.6 L794,627.9 L794.1,627.3 L794.4,626.8 L794.9,626.3 L795.5,625.8 L795.8,625.3 L795.9,624.7 L795.9,624 L795.8,623.3 L796,622.7 L796.4,622.2 L797,621.8 L797.6,621.4 L798,621 L798.2,620.4 L798.2,619.7 L798.3,619 L798.6,618.4 L799,617.9 L799.7,617.6 L800.3,617.4 L800.8,617 L801.1,616.4 L801.2,615.7 L801.4,615 L801.8,614.5 L802.3,614.1 L802.9,614 L803.6,613.8 L804.1,613.5 L804.4,613 L804.7,612.3 L805,611.6 L805.4,611.1 L806,610.9 L806.6,610.9 L807.2,610.8 L807.8,610.7 L808.2,610.2 L808.6,609.6 L809,608.9 L809.5,608.5 L810,608.4 L810.6,608.5 L811.2,608.6 L811.8,608.5 L812.2,608.1 L812.7,607.5 L813.2,607 L813.7,606.6 L814.3,606.6 L814.8,606.8 L815.4,607.1 L815.9,607.1 L816.4,606.8 L816.9,606.3 L817.5,605.8 L818.1,605.6 L818.6,605.7 L819.1,606 L819.5,606.4 L820,606.5 L820.6,606.3 L821.2,605.9 L821.8,605.6 L822.3,605.4 L822.8,605.6 L823.2,606.1 L823.6,606.5 L824,606.8 L824.6,606.7 L825.2,606.4 L825.8,606.2 L826.4,606.1 L826.8,606.5 L827.1,607 L827.4,607.5 L827.7,607.9 L828.3,607.9 L828.9,607.8 L829.5,607.6 L830.1,607.7 L830.4,608.1 L830.6,608.7 L830.8,609.3 L831.1,609.8 L831.5,609.9 L832.2,609.9 L832.8,609.9 L833.3,610.1 L833.5,610.6 L833.6,611.2 L833.7,611.9 L833.9,612.4 L834.3,612.6 L834.9,612.7 L835.5,612.9 L835.9,613.2 L836.1,613.7 L836,614.4 L836,615.1 L836.1,615.6 L836.4,616 L837,616.2 L837.5,616.5 L837.9,616.9 L837.9,617.5 L837.8,618.2 L837.6,618.9 L837.6,619.4 L837.9,619.9 L838.3,620.2 L838.8,620.6 L839.1,621.1 L839,621.7 L838.7,622.4 L838.5,623 L838.4,623.6 L838.6,624.1 L839,624.6 L839.3,625.1 L839.5,625.6 L839.3,626.2 L839,626.9 L838.6,627.5 L838.4,628.1 L838.5,628.6 L838.8,629.2 L839.1,629.7 L839.1,630.3 L838.9,630.9 L838.4,631.5 L837.9,632.1 L837.6,632.6 L837.6,633.2 L837.8,633.8 L838,634.5 L837.9,635.1 L837.6,635.6 L837.1,636.1 L836.5,636.6 L836.2,637.1 L836.1,637.7 L836.1,638.4 L836.2,639.1 L836,639.7 L835.6,640.2 L835,640.6 L834.4,641 L834,641.4 L833.8,642 L833.8,642.7 Z" fill="none" stroke="#000" stroke-width="1.3"/>
<ellipse cx="104.5" cy="550.1" rx="40.7" ry="49.3" transform="rotate(36.9 104.5 550.1)" fill="#fbfbfb" stroke="#000" stroke-width="1.3"/>
<path d="M84.4,594.5 L80.4,592.9 L76.7,590.8 L73.3,588.2 L70.2,585.2 L67.5,581.8 L65.2,578.1 L63.4,574 L62,569.7 L61.1,565.2 L60.6,560.5 L60.7,555.7 L61.2,550.8 L62.2,545.9 L63.7,541.1 L65.7,536.4 L68,531.8 L70.8,527.4 L74,523.3 L77.4,519.5 L81.2,516 L85.3,512.9 L89.5,510.2 L94,508 L98.5,506.2 L103.1,504.9 L107.7,504.1 L112.3,503.8 L116.8,504 L121.2,504.8" fill="none" stroke="#000" stroke-width="2.4"/>
<path d="M88.3,593.8 L84.4,592.2 L80.8,590.2 L77.5,587.7 L74.5,584.8 L72,581.5 L69.8,577.8 L68.1,573.8 L66.8,569.6 L66,565.2 L65.7,560.6 L65.8,555.9 L66.5,551.1 L67.6,546.3 L69.1,541.6 L71.1,537 L73.5,532.5 L76.3,528.2 L79.5,524.2 L83,520.5 L86.8,517.1 L90.8,514.1 L95,511.6 L99.4,509.4 L103.8,507.8 L108.3,506.6 L112.8,505.9 L117.3,505.7 L121.6,506.1 L125.8,506.9 L129.8,508.2" fill="none" stroke="#000" stroke-width="1.2"/>
<path d="M88.4,591.9 L84.9,590 L81.7,587.7 L78.9,585 L76.4,581.9 L74.2,578.5 L72.5,574.7 L71.3,570.7 L70.4,566.5 L70.1,562.1 L70.1,557.5 L70.7,552.9 L71.7,548.3 L73.1,543.7 L75,539.2 L77.2,534.8 L79.9,530.6 L82.9,526.6 L86.2,522.9 L89.8,519.5 L93.6,516.5 L97.6,513.8 L101.8,511.6 L106.1,509.8 L110.4,508.4 L114.7,507.6 L119,507.2 L123.2,507.3 L127.3,507.9 L131.2,509 L134.9,510.6" fill="none" stroke="#000" stroke-width="1.3"/>
<path d="M143.6,529.1 L144.7,533.3 L145.3,537.7 L145.4,542.2 L145.1,546.8 L144.3,551.5 L143.1,556.1 L141.4,560.7 L139.3,565.1 L136.8,569.4 L133.9,573.5 L130.7,577.3 L127.2,580.8 L123.4,583.9 L119.4,586.7 L115.3,589.1 L111,591 L106.6,592.4 L102.2,593.4 L97.9,593.9 L93.6,593.9" fill="none" stroke="#000" stroke-width="1.0"/>
<path d="M83,586 L80.4,583.2 L78.2,580.1 L76.4,576.6 L75,572.9 L74,568.9 L73.4,564.7 L73.3,560.4 L73.6,556 L74.3,551.5 L75.5,547 L77.1,542.6 L79.1,538.2 L81.5,534 L84.2,530 L87.2,526.2 L90.6,522.7 L94.1,519.5 L97.9,516.7 L101.9,514.3 L105.9,512.2 L110.1,510.6 L114.3,509.4 L118.5,508.7 L122.6,508.5 L126.6,508.7 L130.4,509.5 L134.1,510.6 L137.5,512.3" fill="none" stroke="#000" stroke-width="1.0"/>
<path d="M82.4,564.1 L82.2,560.5 L82.4,556.8 L82.9,553 L83.9,549.2 L85.1,545.5 L86.7,541.8 L88.7,538.3 L90.9,534.9 L93.4,531.7 L96.2,528.7 L99.2,526 L102.3,523.6 L105.6,521.5 L109.1,519.7" fill="none" stroke="#000" stroke-width="0.8" stroke-dasharray="10 3"/>
<path d="M88.8,557.5 L89.2,554.2 L89.9,550.9 L90.9,547.6 L92.2,544.3 L93.8,541.1 L95.7,538 L97.8,535.1 L100.2,532.4 L102.7,529.9 L105.5,527.6" fill="none" stroke="#000" stroke-width="0.8"/>
<rect x="74.6" y="586.9" width="7" height="8" fill="#fbfbfb" stroke="none"/>
<line x1="74.1" y1="587.4" x2="74.6" y2="593.4" fill="none" stroke="#000" stroke-width="1.3"/>
<line x1="81.6" y1="585.9" x2="82.6" y2="590.9" fill="none" stroke="#000" stroke-width="2.2"/>
<line x1="129" y1="557" x2="129" y2="563" fill="none" stroke="#000" stroke-width="1.4"/>
<ellipse cx="110.1" cy="551.5" rx="20.4" ry="25.2" transform="rotate(37.4 110.1 551.5)" fill="#fbfbfb" stroke="#000" stroke-width="1.3"/>
<path d="M94.8,571.6 L93.1,570.1 L91.7,568.5 L90.4,566.6 L89.4,564.6 L88.6,562.4 L88.1,560.1 L87.8,557.7 L87.8,555.2 L88.1,552.7 L88.6,550.2 L89.3,547.7 L90.3,545.2 L91.5,542.8 L92.9,540.5 L94.5,538.4 L96.3,536.3 L98.3,534.5 L100.4,532.9 L102.6,531.4 L104.9,530.2 L107.2,529.3 L109.6,528.6 L112,528.2 L114.4,528 L116.7,528.1 L119,528.5" fill="none" stroke="#000" stroke-width="2.0"/>
<ellipse cx="111.6" cy="552" rx="17.5" ry="22.2" transform="rotate(37.4 111.6 552)" fill="none" stroke="#000" stroke-width="1.1"/>
<ellipse cx="110.9" cy="552.4" rx="12.1" ry="17.2" transform="rotate(39 110.9 552.4)" fill="#fbfbfb" stroke="#000" stroke-width="2.0"/>
<path d="M119.4,541.5 L119.9,542.6 L120.2,543.8 L120.4,545 L120.4,546.3 L120.3,547.7 L120,549.2 L119.6,550.6 L119.1,552.1 L118.4,553.6 L117.6,555.1 L116.7,556.5 L115.7,557.9 L114.6,559.2 L113.5,560.4 L112.2,561.5 L110.9,562.5 L109.6,563.4 L108.2,564.1 L106.9,564.7 L105.5,565.2 L104.2,565.5 L102.9,565.6 L101.7,565.6 L100.5,565.4 L99.5,565.1 L98.5,564.6" fill="none" stroke="#000" stroke-width="2.2"/>
<path d="M122.9,544.6 L123.1,545.9 L123.1,547.4 L122.9,548.9 L122.6,550.4 L122.2,551.9 L121.6,553.5 L120.9,555 L120.1,556.5 L119.1,558 L118,559.4 L116.9,560.7 L115.6,561.9 L114.3,563 L112.9,564 L111.5,564.9 L110.1,565.6 L108.6,566.1 L107.2,566.5 L105.8,566.8 L104.5,566.8 L103.2,566.7 L101.9,566.5 L100.8,566.1" fill="none" stroke="#000" stroke-width="1.0"/>
<ellipse cx="179.2" cy="587.9" rx="35.6" ry="46.7" transform="rotate(38.6 179.2 587.9)" fill="#fbfbfb" stroke="#000" stroke-width="1.0"/>
<path d="M147.8,622.3 L145.3,619.4 L143.2,616.2 L141.5,612.7 L140.2,608.8 L139.3,604.8 L138.9,600.5 L139,596.2 L139.5,591.7 L140.4,587.1 L141.8,582.6 L143.6,578.2 L145.8,573.8 L148.4,569.6 L151.3,565.6 L154.6,561.9 L158.1,558.5 L161.8,555.3 L165.8,552.6 L169.9,550.2 L174.1,548.3 L178.3,546.8 L182.6,545.8 L186.8,545.2 L191,545.1 L195,545.5 L198.8,546.4 L202.4,547.7 L205.8,549.5" fill="none" stroke="#000" stroke-width="2.4"/>
<path d="M167.9,630.6 L164,630.3 L160.3,629.5 L156.8,628.3 L153.5,626.7 L150.5,624.7 L147.8,622.3" fill="none" stroke="#000" stroke-width="1.6"/>
<path d="M205.8,549.5 L207.9,551 L209.9,552.7 L211.7,554.5 L213.4,556.6 L214.8,558.8 L216.1,561.1" fill="none" stroke="#000" stroke-width="1.6"/>
<ellipse cx="181.5" cy="589" rx="18.5" ry="24.1" transform="rotate(39.8 181.5 589)" fill="#fbfbfb" stroke="#000" stroke-width="1.0"/>
<path d="M200.9,575.6 L201.6,577.6 L202.1,579.6 L202.4,581.8 L202.5,584 L202.3,586.3 L201.9,588.6 L201.2,591 L200.4,593.3 L199.3,595.5 L198,597.7 L196.6,599.8 L194.9,601.8 L193.1,603.6 L191.2,605.3 L189.2,606.7 L187.1,608 L184.9,609.1 L182.7,609.9 L180.5,610.5 L178.3,610.9 L176.1,611 L174,610.9 L172,610.5 L170,609.9 L168.2,609 L166.6,608 L165.1,606.7 L163.8,605.2" fill="none" stroke="#000" stroke-width="2.4"/>
<line x1="176.9" y1="561.3" x2="176" y2="551.6" fill="none" stroke="#000" stroke-width="0.8"/>
<line x1="179.8" y1="564" x2="180.3" y2="547.7" fill="none" stroke="#000" stroke-width="1.1"/>
<line x1="182.6" y1="563.5" x2="185" y2="546.8" fill="none" stroke="#000" stroke-width="1.1"/>
<line x1="185.5" y1="563.4" x2="189.9" y2="546.6" fill="none" stroke="#000" stroke-width="1.1"/>
<line x1="189.9" y1="559.9" x2="193.8" y2="549.7" fill="none" stroke="#000" stroke-width="0.8"/>
<line x1="180.6" y1="614.7" x2="181.1" y2="624.6" fill="none" stroke="#000" stroke-width="0.8"/>
<line x1="177.7" y1="611.9" x2="176.7" y2="628.3" fill="none" stroke="#000" stroke-width="1.1"/>
<line x1="174.9" y1="612.3" x2="171.9" y2="629" fill="none" stroke="#000" stroke-width="1.1"/>
<line x1="172" y1="612.3" x2="167" y2="629.1" fill="none" stroke="#000" stroke-width="1.1"/>
<line x1="167.4" y1="615.5" x2="163.1" y2="625.7" fill="none" stroke="#000" stroke-width="0.8"/>
<ellipse cx="248.8" cy="627.8" rx="34.5" ry="48.8" transform="rotate(40.9 248.8 627.8)" fill="#fbfbfb" stroke="#000" stroke-width="1.0"/>
<path d="M214.6,662.5 L212.4,659.6 L210.5,656.3 L209.1,652.7 L208.1,648.9 L207.6,644.7 L207.5,640.4 L207.9,636 L208.8,631.5 L210.1,626.9 L211.8,622.3 L214,617.8 L216.5,613.4 L219.4,609.2 L222.7,605.1 L226.2,601.4 L230,597.9 L234,594.8 L238.1,592 L242.4,589.6 L246.8,587.7 L251.1,586.2 L255.5,585.1 L259.7,584.6 L263.9,584.5 L267.9,585 L271.6,585.9 L275.1,587.2 L278.3,589" fill="none" stroke="#000" stroke-width="2.4"/>
<path d="M234.1,671 L230.3,670.6 L226.6,669.9 L223.2,668.6 L220,667 L217.2,664.9 L214.6,662.5" fill="none" stroke="#000" stroke-width="1.6"/>
<path d="M278.3,589 L280.3,590.6 L282.2,592.3 L283.8,594.1 L285.3,596.2 L286.6,598.4 L287.7,600.8" fill="none" stroke="#000" stroke-width="1.6"/>
<ellipse cx="248.8" cy="627" rx="17.8" ry="24.5" transform="rotate(39.5 248.8 627)" fill="#fbfbfb" stroke="#000" stroke-width="1.0"/>
<path d="M268.1,613.1 L268.8,615 L269.2,617 L269.5,619.2 L269.5,621.4 L269.2,623.7 L268.8,626 L268.1,628.3 L267.2,630.6 L266.1,632.9 L264.8,635.1 L263.3,637.2 L261.7,639.2 L259.9,641.1 L258,642.8 L255.9,644.3 L253.8,645.7 L251.7,646.8 L249.5,647.7 L247.3,648.4 L245.1,648.8 L243,649 L240.9,648.9 L238.9,648.6 L237,648.1 L235.3,647.3 L233.7,646.3 L232.3,645 L231,643.6" fill="none" stroke="#000" stroke-width="2.4"/>
<line x1="231" y1="613.4" x2="224.5" y2="608.1" fill="none" stroke="#000" stroke-width="0.8"/>
<line x1="234.8" y1="613.6" x2="225.3" y2="603.9" fill="none" stroke="#000" stroke-width="1.1"/>
<line x1="236.4" y1="612" x2="228" y2="601.2" fill="none" stroke="#000" stroke-width="1.1"/>
<line x1="238.1" y1="610.5" x2="230.9" y2="598.7" fill="none" stroke="#000" stroke-width="1.1"/>
<line x1="238.7" y1="606.1" x2="235" y2="598.2" fill="none" stroke="#000" stroke-width="0.8"/>
<line x1="268.9" y1="638.9" x2="276.3" y2="643" fill="none" stroke="#000" stroke-width="0.8"/>
<line x1="264.9" y1="639.3" x2="275.9" y2="647.1" fill="none" stroke="#000" stroke-width="1.1"/>
<line x1="263.5" y1="641" x2="273.5" y2="650.1" fill="none" stroke="#000" stroke-width="1.1"/>
<line x1="261.9" y1="642.7" x2="270.9" y2="652.8" fill="none" stroke="#000" stroke-width="1.1"/>
<line x1="262" y1="646.7" x2="266.9" y2="653.7" fill="none" stroke="#000" stroke-width="0.8"/>
<ellipse cx="319.8" cy="665.5" rx="36.3" ry="47" transform="rotate(44.1 319.8 665.5)" fill="#fbfbfb" stroke="#000" stroke-width="1.0"/>
<path d="M285,696.9 L282.7,693.7 L280.9,690.3 L279.5,686.5 L278.5,682.6 L278.1,678.4 L278.1,674.1 L278.5,669.7 L279.4,665.2 L280.8,660.8 L282.6,656.3 L284.8,652 L287.4,647.9 L290.4,643.9 L293.7,640.2 L297.3,636.8 L301.2,633.7 L305.3,630.9 L309.5,628.6 L313.8,626.6 L318.2,625.1 L322.7,624 L327,623.4 L331.4,623.3 L335.5,623.7 L339.6,624.5 L343.3,625.7 L346.9,627.5 L350.1,629.6" fill="none" stroke="#000" stroke-width="2.4"/>
<path d="M304.5,707.3 L300.7,706.6 L297,705.4 L293.5,703.9 L290.4,701.9 L287.5,699.6 L285,696.9" fill="none" stroke="#000" stroke-width="1.6"/>
<path d="M350.1,629.6 L352.1,631.3 L353.9,633.2 L355.6,635.3 L357.1,637.5 L358.3,639.8 L359.4,642.3" fill="none" stroke="#000" stroke-width="1.6"/>
<ellipse cx="321.8" cy="666.7" rx="18.5" ry="24.5" transform="rotate(46.2 321.8 666.7)" fill="#fbfbfb" stroke="#000" stroke-width="1.0"/>
<path d="M342.8,655.3 L343.3,657.3 L343.6,659.4 L343.6,661.6 L343.4,663.8 L342.9,666.1 L342.2,668.4 L341.3,670.7 L340.1,672.9 L338.8,675.1 L337.2,677.1 L335.5,679.1 L333.6,680.9 L331.6,682.5 L329.5,684 L327.3,685.3 L325.1,686.3 L322.7,687.2 L320.4,687.8 L318.1,688.2 L315.9,688.3 L313.7,688.2 L311.6,687.9 L309.6,687.3 L307.7,686.5 L306,685.4 L304.5,684.2 L303.2,682.7 L302.1,681.1" fill="none" stroke="#000" stroke-width="2.4"/>
<line x1="317.5" y1="639.4" x2="316.7" y2="629.6" fill="none" stroke="#000" stroke-width="0.8"/>
<line x1="320.4" y1="642.1" x2="320.8" y2="625.8" fill="none" stroke="#000" stroke-width="1.1"/>
<line x1="323.2" y1="641.6" x2="325.5" y2="625" fill="none" stroke="#000" stroke-width="1.1"/>
<line x1="326" y1="641.4" x2="330.3" y2="624.7" fill="none" stroke="#000" stroke-width="1.1"/>
<line x1="330.4" y1="637.9" x2="334.3" y2="627.8" fill="none" stroke="#000" stroke-width="0.8"/>
<line x1="321.2" y1="691.8" x2="321.7" y2="701.7" fill="none" stroke="#000" stroke-width="0.8"/>
<line x1="318.4" y1="689" x2="317.4" y2="705.4" fill="none" stroke="#000" stroke-width="1.1"/>
<line x1="315.6" y1="689.4" x2="312.6" y2="706" fill="none" stroke="#000" stroke-width="1.1"/>
<line x1="312.7" y1="689.5" x2="307.8" y2="706.1" fill="none" stroke="#000" stroke-width="1.1"/>
<line x1="308.2" y1="692.8" x2="303.9" y2="702.9" fill="none" stroke="#000" stroke-width="0.8"/>
<ellipse cx="386.2" cy="698.4" rx="23.1" ry="29.9" transform="rotate(43.3 386.2 698.4)" fill="#fbfbfb" stroke="#000" stroke-width="0.9"/>
<ellipse cx="384.7" cy="698.9" rx="21.5" ry="29" transform="rotate(43.3 384.7 698.9)" fill="#fbfbfb" stroke="#000" stroke-width="1.0"/>
<path d="M369.6,721.7 L367.8,720.5 L366.2,719 L364.7,717.3 L363.6,715.4 L362.7,713.2 L362,711 L361.6,708.6 L361.6,706 L361.7,703.4 L362.2,700.8 L362.9,698.1 L364,695.4 L365.2,692.8 L366.7,690.3 L368.4,687.8 L370.3,685.5 L372.4,683.3 L374.7,681.3 L377.1,679.5 L379.6,677.9 L382.1,676.6 L384.8,675.5 L387.4,674.6 L390,674.1 L392.6,673.8 L395.1,673.8 L397.5,674.2 L399.7,674.7 L401.8,675.6 L403.8,676.7 L405.5,678.1 L407,679.7 L408.3,681.5 L409.4,683.6 L410.1,685.8 L410.6,688.1" fill="none" stroke="#000" stroke-width="2.6"/>
<ellipse cx="387.7" cy="698.9" rx="16.2" ry="22.1" transform="rotate(43.3 387.7 698.9)" fill="none" stroke="#000" stroke-width="1.6"/>
<ellipse cx="388.2" cy="698.9" rx="13.8" ry="19.7" transform="rotate(43.3 388.2 698.9)" fill="none" stroke="#000" stroke-width="1.0"/>
<path d="M406,690.8 L406.1,692.6 L406,694.5 L405.8,696.4 L405.3,698.4 L404.6,700.4 L403.7,702.3 L402.6,704.2 L401.4,706.1 L400,707.9 L398.5,709.5 L396.8,711.1 L395.1,712.5 L393.2,713.7 L391.4,714.8 L389.4,715.7 L387.5,716.4 L385.6,716.8 L383.7,717.1 L381.8,717.2 L380.1,717 L378.4,716.7" fill="none" stroke="#000" stroke-width="0.8"/>
<path d="M439.5,705.2 L440.7,706.4 L441.8,707.7 L442.7,709.1 L443.5,710.7 L444.1,712.5 L444.5,714.3 L444.7,716.3 L444.8,718.3 L444.7,720.3 L444.4,722.3 L443.9,724.4 L443.2,726.4 L442.4,728.4 L441.4,730.3 L440.2,732.1 L439,733.8 L437.6,735.3 L436.1,736.8 L434.5,738 L432.9,739 L431.2,739.9 L429.4,740.6 L427.7,741 L426,741.3 L424.2,741.3 L422.6,741.1 L421,740.7 L419.5,740 L418.1,739.2 L416.8,738.2 L415.6,737 L414.6,735.6 L413.7,734.1 L413,732.4 L412.5,730.6 L412.2,728.7 L412,726.8 L412,724.7 L412.2,722.7 L412.6,720.6 L413.2,718.6 L413.9,716.6 L414.9,714.6 L415.9,712.8 L417.1,711 L418.4,709.4 L419.9,707.9 L421.4,706.6 L423,705.4 L424.7,704.4 L426.4,703.7 L428.1,703.1 L429.9,702.7 L431.6,702.6 L433.3,702.7" fill="none" stroke="#000" stroke-width="2.0"/>
<path d="M438.8,708.2 L439.7,709.2 L440.5,710.4 L441.2,711.8 L441.7,713.2 L442,714.8 L442.3,716.4 L442.3,718.1 L442.2,719.8 L442,721.6 L441.6,723.4 L441.1,725.1 L440.4,726.8 L439.6,728.5 L438.7,730 L437.6,731.5 L436.5,732.9 L435.2,734.2 L433.9,735.3 L432.5,736.3 L431.1,737.1 L429.7,737.8 L428.2,738.3 L426.8,738.6 L425.3,738.7 L423.9,738.6 L422.6,738.4 L421.3,738 L420.1,737.4 L418.9,736.6 L417.9,735.7 L417,734.6 L416.2,733.3 L415.6,732 L415.1,730.5 L414.7,729 L414.5,727.3 L414.5,725.6 L414.6,723.9 L414.8,722.1 L415.2,720.4 L415.8,718.6 L416.5,716.9 L417.3,715.3 L418.2,713.7 L419.3,712.2 L420.4,710.8 L421.7,709.6 L423,708.5 L424.4,707.5 L425.8,706.7 L427.2,706 L428.7,705.6 L430.2,705.3 L431.6,705.2" fill="none" stroke="#000" stroke-width="0.9"/>
<circle cx="431" cy="705" r="1.7" fill="#fbfbfb" stroke="#000" stroke-width="1"/>
<circle cx="437" cy="705.5" r="1.7" fill="#fbfbfb" stroke="#000" stroke-width="1"/>
<ellipse cx="456.3" cy="744.8" rx="4.2" ry="10.6" transform="rotate(20 456.3 744.8)" fill="#fbfbfb" stroke="#000" stroke-width="1.2"/>
<path d="M452.7,754.8 L452.3,754.6 L451.9,754.2 L451.6,753.8 L451.4,753.3 L451.2,752.7 L451,752 L451,751.2 L450.9,750.4 L451,749.5 L451.1,748.5 L451.2,747.5 L451.4,746.5 L451.7,745.5 L452,744.4 L452.4,743.4 L452.8,742.3 L453.2,741.3 L453.7,740.4 L454.2,739.4 L454.7,738.6 L455.2,737.8 L455.8,737.1 L456.4,736.4 L456.9,735.9 L457.5,735.5 L458,735.1 L458.5,734.9 L459,734.8 L459.5,734.7 L459.9,734.8" fill="none" stroke="#000" stroke-width="1.3" stroke-dasharray="5 2"/>
<line x1="451" y1="746" x2="453.5" y2="745" fill="none" stroke="#000" stroke-width="1.4"/>
<path d="M460,733.6 L511.5,754.8 L502.5,779.6 L458,755.4 Z" fill="#fbfbfb" stroke="none" stroke-width="0"/>
<line x1="460" y1="733.6" x2="511.5" y2="754.8" fill="none" stroke="#000" stroke-width="1.3" stroke-dasharray="8 2 3 2"/>
<line x1="458" y1="755.4" x2="502.5" y2="779.6" fill="none" stroke="#000" stroke-width="2.6"/>
<path d="M458.8,747.1 L505.9,770.2 L502.5,779.6 L458,755.4 Z" fill="#000" stroke="none" stroke-width="0"/>
<line x1="462.3" y1="736.6" x2="509.7" y2="756.6" fill="none" stroke="#000" stroke-width="0.8" stroke-dasharray="5 2.5"/>
<line x1="462.1" y1="738.6" x2="508.9" y2="758.8" fill="none" stroke="#000" stroke-width="0.8" stroke-dasharray="5 2.5"/>
<line x1="462" y1="740.5" x2="508" y2="761.1" fill="none" stroke="#000" stroke-width="0.8" stroke-dasharray="5 2.5"/>
<line x1="461.8" y1="742.5" x2="507.2" y2="763.3" fill="none" stroke="#000" stroke-width="1.5" stroke-dasharray="8 1.5"/>
<line x1="461.6" y1="744.5" x2="506.4" y2="765.6" fill="none" stroke="#000" stroke-width="1.5" stroke-dasharray="8 1.5"/>
<line x1="461.4" y1="746.5" x2="505.6" y2="767.8" fill="none" stroke="#000" stroke-width="1.5" stroke-dasharray="8 1.5"/>
<line x1="463.2" y1="749.5" x2="504.8" y2="770.1" fill="none" stroke="#fbfbfb" stroke-width="0.6" stroke-dasharray="6 4"/>
<line x1="463" y1="751.5" x2="504" y2="772.3" fill="none" stroke="#fbfbfb" stroke-width="0.6" stroke-dasharray="6 4"/>
<line x1="462.9" y1="753.4" x2="503.1" y2="774.6" fill="none" stroke="#fbfbfb" stroke-width="0.6" stroke-dasharray="6 4"/>
<line x1="462.7" y1="755.4" x2="502.3" y2="776.8" fill="none" stroke="#fbfbfb" stroke-width="0.6" stroke-dasharray="6 4"/>
<path d="M464,734.1 L464.5,734.3 L464.8,734.6 L465.2,735.1 L465.5,735.6 L465.7,736.3 L465.8,737 L465.9,737.8 L466,738.7 L465.9,739.7 L465.9,740.7 L465.7,741.8 L465.5,742.8 L465.2,744 L464.9,745.1 L464.5,746.2 L464.1,747.3 L463.6,748.3 L463.1,749.3 L462.6,750.3 L462,751.2 L461.4,752.1 L460.8,752.8 L460.2,753.5 L459.6,754 L459,754.5 L458.5,754.9 L457.9,755.1 L457.4,755.2 L456.8,755.2 L456.4,755.1" fill="none" stroke="#000" stroke-width="1.3"/>
<path d="M510.9,755 L511.4,755.2 L511.9,755.6 L512.2,756.1 L512.5,756.8 L512.8,757.5 L513,758.4 L513.1,759.3 L513.1,760.3 L513.1,761.5 L513,762.6 L512.8,763.9 L512.5,765.1 L512.2,766.4 L511.8,767.7 L511.4,769 L510.9,770.2 L510.4,771.5 L509.8,772.7 L509.2,773.8 L508.5,774.8 L507.8,775.8 L507.2,776.7 L506.5,777.5 L505.8,778.1 L505.1,778.7 L504.4,779.1 L503.8,779.4 L503.2,779.5 L502.6,779.5 L502.1,779.4" fill="none" stroke="#000" stroke-width="1.2"/>
<path d="M506.8,753.4 L545.5,767.5 L530.2,798 L501.5,780.5 Z" fill="#fbfbfb" stroke="none" stroke-width="0"/>
<line x1="506.8" y1="753.4" x2="545.5" y2="767.5" fill="none" stroke="#000" stroke-width="1.6" stroke-dasharray="12 2"/>
<line x1="501.5" y1="780.5" x2="530.2" y2="798" fill="none" stroke="#000" stroke-width="2.6"/>
<path d="M499.5,780.4 L498.9,780.1 L498.4,779.7 L497.9,779.2 L497.5,778.5 L497.2,777.7 L497,776.7 L496.8,775.7 L496.7,774.5 L496.8,773.3 L496.9,772 L497,770.6 L497.3,769.2 L497.6,767.8 L498.1,766.3 L498.5,764.9 L499.1,763.5 L499.7,762.1 L500.4,760.8 L501.1,759.6 L501.8,758.4 L502.6,757.3 L503.4,756.4 L504.1,755.5 L504.9,754.8 L505.7,754.3 L506.5,753.8 L507.2,753.6 L507.9,753.5 L508.6,753.5 L509.2,753.7" fill="none" stroke="#000" stroke-width="1.4"/>
<path d="M502.8,782.2 L502.2,781.9 L501.6,781.5 L501.2,781 L500.8,780.3 L500.4,779.5 L500.2,778.5 L500,777.4 L500,776.3 L500,775 L500.1,773.7 L500.3,772.3 L500.5,770.8 L500.9,769.4 L501.3,767.9 L501.8,766.5 L502.4,765 L503,763.6 L503.7,762.3 L504.4,761 L505.1,759.8 L505.9,758.7 L506.7,757.8 L507.5,756.9 L508.3,756.2 L509.1,755.6 L509.9,755.2 L510.7,754.9 L511.4,754.8 L512,754.8 L512.7,755" fill="none" stroke="#000" stroke-width="2.4"/>
<path d="M510.3,786.4 L509.7,786.1 L509.1,785.7 L508.7,785.1 L508.2,784.4 L507.9,783.5 L507.7,782.5 L507.5,781.4 L507.4,780.2 L507.4,778.9 L507.5,777.5 L507.7,776.1 L508,774.6 L508.4,773.1 L508.8,771.5 L509.3,770 L509.9,768.5 L510.6,767 L511.3,765.6 L512,764.3 L512.8,763.1 L513.6,762 L514.4,760.9 L515.3,760.1 L516.1,759.3 L516.9,758.7 L517.8,758.3 L518.5,758 L519.3,757.9 L520,757.9 L520.6,758.1" fill="none" stroke="#000" stroke-width="3.0"/>
<path d="M513.9,788.4 L513.3,788.1 L512.7,787.7 L512.2,787.1 L511.8,786.4 L511.5,785.5 L511.2,784.5 L511,783.4 L511,782.1 L511,780.8 L511.1,779.4 L511.3,777.9 L511.6,776.4 L511.9,774.8 L512.4,773.3 L512.9,771.7 L513.5,770.2 L514.2,768.7 L514.9,767.3 L515.6,765.9 L516.4,764.7 L517.3,763.5 L518.1,762.5 L519,761.6 L519.8,760.8 L520.7,760.2 L521.5,759.7 L522.3,759.4 L523.1,759.3 L523.8,759.4 L524.4,759.6" fill="none" stroke="#000" stroke-width="1.0"/>
<path d="M519.2,791.3 L518.5,791 L518,790.6 L517.4,790 L517,789.2 L516.7,788.3 L516.4,787.3 L516.2,786.1 L516.1,784.9 L516.2,783.5 L516.3,782 L516.5,780.5 L516.8,779 L517.1,777.4 L517.6,775.8 L518.1,774.2 L518.8,772.6 L519.4,771.1 L520.2,769.6 L520.9,768.2 L521.8,766.9 L522.6,765.7 L523.5,764.7 L524.4,763.8 L525.2,763 L526.1,762.3 L527,761.9 L527.8,761.6 L528.6,761.5 L529.3,761.5 L530,761.7" fill="none" stroke="#000" stroke-width="3.2"/>
<path d="M523.1,793.5 L522.5,793.2 L521.9,792.8 L521.3,792.2 L520.9,791.4 L520.5,790.5 L520.3,789.4 L520.1,788.2 L520,786.9 L520,785.5 L520.2,784 L520.4,782.5 L520.7,780.9 L521,779.3 L521.5,777.6 L522.1,776 L522.7,774.4 L523.4,772.9 L524.1,771.4 L524.9,770 L525.8,768.6 L526.6,767.4 L527.5,766.3 L528.4,765.4 L529.3,764.6 L530.2,764 L531.1,763.5 L531.9,763.2 L532.7,763.1 L533.4,763.1 L534.1,763.3" fill="none" stroke="#000" stroke-width="1.0"/>
<path d="M529.7,797.2 L529,796.9 L528.4,796.4 L527.9,795.8 L527.4,795 L527,794 L526.8,792.9 L526.6,791.7 L526.5,790.4 L526.5,788.9 L526.6,787.4 L526.8,785.8 L527.1,784.1 L527.5,782.5 L528,780.8 L528.6,779.1 L529.2,777.5 L530,775.8 L530.7,774.3 L531.6,772.8 L532.4,771.5 L533.3,770.2 L534.2,769.1 L535.2,768.1 L536.1,767.3 L537,766.7 L537.9,766.2 L538.7,765.9 L539.6,765.7 L540.3,765.8 L541.1,766" fill="none" stroke="#000" stroke-width="1.6"/>
<path d="M541,811.6 L539.4,811 L537.9,810.2 L536.4,809.1 L535.1,807.8 L534,806.3 L532.9,804.6 L532.1,802.7 L531.4,800.7 L530.9,798.6 L530.5,796.4 L530.4,794 L530.4,791.7 L530.6,789.2 L531,786.8 L531.6,784.5 L532.4,782.1 L533.3,779.9 L534.4,777.7 L535.6,775.7 L537,773.8 L538.5,772 L540,770.5 L541.7,769.2 L543.4,768.1 L545.2,767.2 L547,766.5 L548.8,766.1 L550.5,766 L552.3,766.1 L554,766.4 L583.2,775.4 L585.4,776.1 L587.4,777.2 L589.3,778.5 L591.1,780.1 L592.7,781.9 L594.1,783.9 L595.4,786.1 L596.4,788.5 L597.1,791 L597.7,793.7 L598,796.4 L598,799.2 L597.9,802 L597.4,804.8 L596.8,807.5 L595.9,810.2 L594.7,812.8 L593.4,815.3 L591.9,817.6 L590.2,819.8 L588.3,821.8 L586.3,823.5 L584.2,825 L582,826.2 L579.7,827.2 L577.4,827.8 L575.1,828.2 L572.7,828.3 L570.4,828.1 L568.2,827.6 Z" fill="#fbfbfb" stroke="none" stroke-width="0"/>
<path d="M543.9,812 L542.1,811.8 L540.4,811.4 L538.8,810.7 L537.3,809.8 L535.9,808.6 L534.6,807.2 L533.5,805.6 L532.5,803.8 L531.7,801.8 L531.1,799.7 L530.7,797.5 L530.4,795.2 L530.4,792.8 L530.5,790.3 L530.8,787.9 L531.4,785.4 L532.1,783 L533,780.7 L534,778.5 L535.2,776.4 L536.5,774.4 L538,772.6 L539.6,771 L541.2,769.5 L542.9,768.3 L544.7,767.4 L546.5,766.6 L548.3,766.2 L550.2,766 L551.9,766 L553.7,766.3 L555.3,766.9" fill="none" stroke="#000" stroke-width="2.6"/>
<path d="M554.5,766.6 L560,765.8 L582.5,775.2" fill="none" stroke="#000" stroke-width="1.5" stroke-dasharray="10 2"/>
<line x1="541.6" y1="811.7" x2="566.4" y2="827" fill="none" stroke="#000" stroke-width="2.2"/>
<path d="M545.6,816 L543.8,815.1 L542.1,813.9 L540.6,812.5 L539.2,810.8 L538,809 L537,806.9 L536.1,804.7 L535.5,802.3 L535.1,799.8 L534.9,797.3 L535,794.6 L535.2,792 L535.7,789.3 L536.4,786.7 L537.3,784.2 L538.4,781.8 L539.7,779.4 L541.1,777.3 L542.7,775.3 L544.4,773.5 L546.3,771.9 L548.2,770.6 L550.2,769.5 L552.2,768.7 L554.3,768.2 L556.3,768 L558.3,768" fill="none" stroke="#000" stroke-width="2.4"/>
<path d="M550.2,818.7 L548.4,817.5 L546.7,816.1 L545.2,814.4 L543.9,812.5 L542.8,810.3 L541.9,808 L541.2,805.6 L540.7,803 L540.5,800.3 L540.5,797.6 L540.7,794.8 L541.1,792.1 L541.8,789.4 L542.7,786.7 L543.8,784.1 L545.2,781.7 L546.6,779.4 L548.3,777.3 L550.1,775.4 L552,773.8 L554,772.4 L556.1,771.2 L558.2,770.3 L560.4,769.8 L562.6,769.5" fill="none" stroke="#000" stroke-width="1.0"/>
<path d="M558,822.9 L556,821.9 L554.1,820.6 L552.4,819.1 L550.9,817.3 L549.5,815.3 L548.4,813.1 L547.4,810.7 L546.7,808.2 L546.2,805.6 L546,802.8 L546,800 L546.3,797.2 L546.8,794.4 L547.5,791.6 L548.5,789 L549.6,786.4 L551,783.9 L552.6,781.6 L554.3,779.5 L556.2,777.7 L558.2,776 L560.3,774.6 L562.5,773.5 L564.7,772.7 L567,772.2 L569.3,771.9 L571.5,772" fill="none" stroke="#000" stroke-width="1.6"/>
<ellipse cx="575.7" cy="801.5" rx="21.9" ry="27.2" transform="rotate(16 575.7 801.5)" fill="#fbfbfb" stroke="#000" stroke-width="0.9" stroke-dasharray="7 2 2 2"/>
<path d="M561.5,824 L559.7,822.3 L558.1,820.4 L556.8,818.3 L555.6,816 L554.7,813.5 L554,810.9 L553.6,808.2 L553.4,805.4 L553.4,802.5 L553.7,799.7 L554.3,796.9 L555.1,794.1 L556.1,791.4 L557.4,788.8 L558.8,786.4 L560.5,784.1 L562.3,782 L564.2,780.2 L566.3,778.6 L568.6,777.2 L570.8,776.2 L573.2,775.4 L575.5,774.9" fill="none" stroke="#000" stroke-width="1.2"/>
<ellipse cx="575.6" cy="804.2" rx="12.6" ry="14.6" transform="rotate(16 575.6 804.2)" fill="#fbfbfb" stroke="#000" stroke-width="1.0"/>
<clipPath id="chole"><ellipse cx="575.6" cy="804.2" rx="12.6" ry="14.6" transform="rotate(16.0 575.6 804.2)"/></clipPath>
<g clip-path="url(#chole)"><ellipse cx="582.6" cy="797.2" rx="14" ry="15" transform="rotate(16 582.6 797.2)" fill="#fbfbfb" stroke="none" stroke-width="0"/><path d="M578.2,818.1 L576.8,818.4 L575.5,818.6 L574.1,818.6 L572.8,818.5 L571.5,818.2 L570.2,817.8 L569,817.2 L567.9,816.4 L566.9,815.5 L566,814.5 L565.1,813.4 L564.4,812.1 L563.8,810.8 L563.4,809.4 L563.1,807.9 L562.9,806.5 L562.8,804.9 L563,803.4 L563.2,801.9 L563.6,800.4 L564.1,798.9 L564.8,797.5 L565.5,796.2 L566.4,795 L567.4,793.9 L568.5,792.8 L569.7,792 L570.9,791.2 L571.1,790.1 L570.3,791.5 L569.6,792.9 L569.1,794.3 L568.7,795.8 L568.5,797.4 L568.3,798.9 L568.4,800.4 L568.6,801.9 L568.9,803.4 L569.3,804.8 L569.9,806.1 L570.6,807.4 L571.5,808.5 L572.4,809.5 L573.5,810.4 L574.6,811.2 L575.8,811.8 L577.1,812.2 Z" fill="#000" stroke="none" stroke-width="0"/><line x1="561.6" y1="796.2" x2="589.6" y2="789.7" fill="none" stroke="#000" stroke-width="1.5" stroke-dasharray="3 1.6"/><line x1="561.6" y1="799.6" x2="589.6" y2="793.1" fill="none" stroke="#000" stroke-width="1.5" stroke-dasharray="3 1.6"/><line x1="561.6" y1="803" x2="589.6" y2="796.5" fill="none" stroke="#000" stroke-width="1.5" stroke-dasharray="3 1.6"/><line x1="561.6" y1="806.4" x2="589.6" y2="799.9" fill="none" stroke="#000" stroke-width="1.5" stroke-dasharray="3 1.6"/><line x1="561.6" y1="809.8" x2="589.6" y2="803.3" fill="none" stroke="#000" stroke-width="1.5" stroke-dasharray="3 1.6"/><line x1="561.6" y1="813.2" x2="589.6" y2="806.7" fill="none" stroke="#000" stroke-width="1.5" stroke-dasharray="3 1.6"/><line x1="561.6" y1="816.6" x2="589.6" y2="810.1" fill="none" stroke="#000" stroke-width="1.5" stroke-dasharray="3 1.6"/></g>
<path d="M716.6,890.7 L710.8,897.6 L704.5,903.9 L697.8,909.6 L690.7,914.7 L683.2,919.1 L675.6,922.6 L667.8,925.4 L659.9,927.4 L652.1,928.5 L644.4,928.7 L636.9,928 L629.7,926.5 L622.9,924.2 L616.4,921 L610.5,917 L605.2,912.3 L600.5,906.9 L596.5,900.9 L593.2,894.3 L590.6,887.2 L588.9,879.7 L588,871.8 L587.9,863.8 L588.6,855.5 L590.1,847.2 L592.4,838.9 L595.5,830.7 L599.3,822.8 L603.8,815.1 L609,807.8 L614.8,800.9 L621.1,794.6 L627.8,788.9 L634.9,783.8 L642.4,779.4 L650,775.9 L657.8,773.1 L665.7,771.1 L673.5,770 L681.2,769.8 L688.7,770.5 L695.9,772 L702.7,774.3 L709.2,777.5 L715.1,781.5 L720.4,786.2 L725.1,791.6 L729.1,797.6 L732.4,804.2 L735,811.3 L736.7,818.8 L737.6,826.7 L737.7,834.7 L737,843 L735.5,851.3 L733.2,859.6 L730.1,867.8 L726.3,875.7 L721.8,883.4 L716.6,890.7" fill="none" stroke="#000" stroke-width="1.2" stroke-dasharray="10 3 2.5 3"/>
<path d="M613.1,912 L608.6,906.9 L604.7,901.2 L601.5,894.9 L599,888.1 L597.4,880.9 L596.5,873.3 L596.5,865.5 L597.2,857.5 L598.7,849.4 L601.1,841.3 L604.1,833.3 L607.9,825.5 L612.4,818 L617.5,810.9 L623.2,804.2 L629.4,798 L636,792.4 L642.9,787.5 L650.2,783.3 L657.6,779.8 L665.2,777.1 L672.8,775.3 L680.3,774.3 L687.7,774.2 L694.9,774.9 L701.7,776.5 L708.2,778.9 L714.2,782.1 L719.7,786.1 L724.6,790.8 L728.9,796.2 L732.5,802.2" fill="none" stroke="#000" stroke-width="1.1" stroke-dasharray="12 3"/>
<path d="M590.6,887.2 L588.8,878.8 L587.9,870.1 L588,861 L589.1,851.8 L591.3,842.6 L594.4,833.4" fill="none" stroke="#000" stroke-width="2.0" stroke-dasharray="9 4"/>
<path d="M614.6,850.3 L616.5,843.7 L619,837.2 L622.1,830.9 L625.7,824.7 L629.8,818.9 L634.4,813.4 L639.5,808.3 L644.8,803.7 L650.5,799.6 L656.4,796.1 L662.4,793.2 L668.6,790.9 L674.8,789.3 L681,788.4 L687,788.1 L692.9,788.6 L698.6,789.7 L704,791.5 L709,794 L713.6,797 L717.8,800.7 L721.4,805 L724.5,809.7 L727.1,814.9 L729,820.5" fill="none" stroke="#000" stroke-width="0.7" stroke-dasharray="2 5"/>
<path d="M733.8,840.7 L732.9,847.6 L731.4,854.6 L729.1,861.5 L726.3,868.3 L722.9,874.9 L718.9,881.2 L714.3,887.2 L709.4,892.9 L704,898 L698.2,902.7 L692.2,906.8 L685.9,910.3 L679.5,913.1 L673,915.3 L666.5,916.7 L660.1,917.5 L653.7,917.5 L647.6,916.8 L641.8,915.3 L636.2,913.2" fill="none" stroke="#000" stroke-width="0.7" stroke-dasharray="2 5"/>
<path d="M632.5,892.1 L629.1,889.3 L626.1,886 L623.6,882.3 L621.5,878.2 L620,873.8 L619,869.1 L618.5,864.3 L618.5,859.3 L619,854.1 L620.1,848.9 L621.7,843.8 L623.9,838.7 L626.4,833.7 L629.5,828.9 L632.9,824.3 L636.7,820 L640.9,816 L645.3,812.4 L650,809.2 L654.8,806.5 L659.8,804.2 L664.9,802.5 L669.9,801.3 L675,800.6 L680,800.4 L684.8,800.8 L689.4,801.7 L693.7,803.2 L697.8,805.2 L701.5,807.7 L704.9,810.6 L707.8,814 L710.2,817.7 L712.2,821.8" fill="none" stroke="#000" stroke-width="1.8" stroke-dasharray="14 2.5"/>
<path d="M634.5,888.3 L631.6,885.2 L629.2,881.8 L627.2,877.9 L625.7,873.8 L624.7,869.4 L624.3,864.7 L624.3,859.9 L624.9,855 L625.9,850.1 L627.5,845.1 L629.6,840.2 L632.1,835.4 L635.1,830.8 L638.4,826.4 L642.1,822.2 L646.1,818.4 L650.4,815 L655,811.9 L659.6,809.3 L664.4,807.2 L669.3,805.6 L674.2,804.4 L679,803.8 L683.7,803.7 L688.2,804.2 L692.6,805.2 L696.6,806.6 L700.4,808.6 L703.8,811.1 L706.9,814 L709.5,817.3" fill="none" stroke="#000" stroke-width="1.1" stroke-dasharray="9 3"/>
<path d="M712.2,821.8 L713.7,826.4 L714.7,831.3 L715.1,836.4 L714.9,841.6 L714.2,847 L712.8,852.4 L711,857.7 L708.6,863" fill="none" stroke="#000" stroke-width="1.3" stroke-dasharray="6 3"/>
<path d="M715.1,837.4 L714.8,842.6 L714,847.8 L712.6,853 L710.7,858.2 L708.4,863.3 L705.5,868.3 L702.2,873 L698.5,877.5 L694.5,881.7 L690.1,885.5 L685.5,888.9 L680.7,891.8 L675.7,894.3 L670.6,896.3 L665.4,897.7 L660.3,898.6 L655.3,899 L650.3,898.8 L645.6,898 L641.1,896.7 L636.9,894.9" fill="none" stroke="#000" stroke-width="1.2" stroke-dasharray="8 3"/>
<path d="M711.1,836 L710.8,841.2 L710,846.4 L708.6,851.6 L706.7,856.8 L704.4,861.9 L701.5,866.9 L698.2,871.6 L694.5,876.1 L690.5,880.3 L686.1,884.1 L681.5,887.5 L676.7,890.4 L671.7,892.9 L666.6,894.9 L661.4,896.3 L656.3,897.2 L651.3,897.6 L646.3,897.4 L641.6,896.6 L637.1,895.3 L632.9,893.5" fill="none" stroke="#000" stroke-width="1.6" stroke-dasharray="12 3"/>
<path d="M707.1,834.6 L706.8,839.8 L706,845 L704.6,850.2 L702.7,855.4 L700.4,860.5 L697.5,865.5 L694.2,870.2 L690.5,874.7 L686.5,878.9 L682.1,882.7 L677.5,886.1 L672.7,889 L667.7,891.5 L662.6,893.5 L657.4,894.9 L652.3,895.8 L647.3,896.2 L642.3,896 L637.6,895.2 L633.1,893.9 L628.9,892.1" fill="none" stroke="#000" stroke-width="1.4" stroke-dasharray="9 3"/>
<path d="M703.1,833.2 L702.8,838.4 L702,843.6 L700.6,848.8 L698.7,854 L696.4,859.1 L693.5,864.1 L690.2,868.8 L686.5,873.3 L682.5,877.5 L678.1,881.3 L673.5,884.7 L668.7,887.6 L663.7,890.1 L658.6,892.1 L653.4,893.5 L648.3,894.4 L643.3,894.8 L638.3,894.6 L633.6,893.8 L629.1,892.5 L624.9,890.7" fill="none" stroke="#000" stroke-width="2.0" stroke-dasharray="16 3"/>
<path d="M699.1,831.8 L698.8,837 L698,842.2 L696.6,847.4 L694.7,852.6 L692.4,857.7 L689.5,862.7 L686.2,867.4 L682.5,871.9 L678.5,876.1 L674.1,879.9 L669.5,883.3 L664.7,886.2 L659.7,888.7 L654.6,890.7 L649.4,892.1 L644.3,893 L639.3,893.4 L634.3,893.2 L629.6,892.4 L625.1,891.1 L620.9,889.3" fill="none" stroke="#000" stroke-width="1.2" stroke-dasharray="7 3"/>
<path d="M665.4,888.6 L661.2,890.4 L657,892 L652.8,893.2 L648.6,894 L644.4,894.4 L640.3,894.5 L647,896.5 L650.3,896.4 L653.6,896 L657,895.3 L660.3,894.5 L663.7,893.4 L667.1,892.1 Z" fill="#000" stroke="#000" stroke-width="1"/>
<path d="M699.5,813.5 L701.1,816.3 L702.4,819.3 L703.5,822.5 L704.3,825.8 L704.8,829.2 L705.1,832.8 L700,829.1 L699.7,826.4 L699.3,823.8 L698.7,821.2 L697.9,818.8 L697,816.4 L696,814.1 Z" fill="#000" stroke="#000" stroke-width="1"/>
<line x1="672" y1="797" x2="672" y2="804" fill="none" stroke="#000" stroke-width="1.6"/>
<line x1="677" y1="797" x2="677" y2="803" fill="none" stroke="#000" stroke-width="1.6"/>
<path d="M928.8,174.7 L933.8,174.2 L938.7,174.4 L943.4,175.1 L947.9,176.3 L952.1,178.1 L956,180.5 L959.5,183.3 L962.6,186.6 L965.2,190.3 L967.4,194.5 L969.1,198.9 L970.2,203.7 L970.8,208.7 L970.9,213.9 L970.4,219.2 L969.4,224.5 L967.8,229.9 L965.8,235.2 L963.3,240.4 L960.3,245.4 L956.9,250.2 L953.1,254.7 L948.9,258.9 L944.5,262.7 L939.8,266 L935,268.9 L930,271.3 L924.9,273.2 L919.8,274.5 L914.7,275.3 L909.8,275.5 L904.9,275.1 L900.3,274.2 L895.9,272.7 L891.9,270.6 L888.2,268.1 L884.8,265.1 L881.9,261.6 L879.5,257.7 L877.5,253.4 L876.1,248.8 L875.2,243.9 L874.8,238.8 L875,233.6 L875.7,228.3 L876.9,222.9 L878.7,217.5 L880.9,212.3 L883.7,207.1 L886.8,202.2 L890.4,197.5 L894.3,193.1 L898.6,189.1 L903.1,185.5 L907.9,182.4 L912.8,179.7 L917.9,177.5 L923,175.9 L924.2,182 L919.8,183.5 L915.4,185.5 L911.1,187.9 L906.9,190.7 L902.9,193.9 L899.2,197.4 L895.7,201.3 L892.5,205.4 L889.7,209.7 L887.3,214.3 L885.3,218.9 L883.7,223.6 L882.6,228.3 L881.9,233 L881.7,237.6 L882,242 L882.7,246.3 L883.9,250.3 L885.6,254 L887.7,257.4 L890.1,260.4 L893,263 L896.2,265.2 L899.7,267 L903.5,268.2 L907.6,269 L911.8,269.3 L916.1,269 L920.5,268.3 L925,267.1 L929.4,265.4 L933.8,263.3 L938,260.7 L942.1,257.7 L946,254.4 L949.7,250.7 L953,246.7 L956,242.5 L958.7,238.1 L960.9,233.5 L962.7,228.8 L964.1,224.1 L965.1,219.4 L965.5,214.8 L965.5,210.2 L965.1,205.9 L964.1,201.7 L962.7,197.8 L960.9,194.2 L958.6,191 L956,188.1 L953,185.7 L949.6,183.7 L946,182.1 L942.1,181.1 L938,180.5 L933.7,180.5 L929.3,180.9 Z" fill="#fbfbfb" stroke="#000" stroke-width="1.2"/>
<path d="M928.8,174.7 L934,174.2 L939,174.4 L943.8,175.1 L948.4,176.5 L952.7,178.4 L956.6,180.9 L960.1,183.9 L963.2,187.4 L965.8,191.3 L967.9,195.6 L969.4,200.3 L970.4,205.3 L970.9,210.5 L970.7,215.9 L970,221.3 L968.8,226.9 L967,232.3 L964.6,237.8 L961.8,243 L958.5,248.1 L954.8,252.8 L950.7,257.2 L946.2,261.3 L941.5,264.9" fill="none" stroke="#000" stroke-width="2.6"/>
<path d="M917.1,275 L912.2,275.5 L907.3,275.4 L902.7,274.7 L898.2,273.5 L894.1,271.8 L890.2,269.6 L886.7,266.9 L883.6,263.7 L880.9,260.1 L878.7,256.1 L876.9,251.7 L875.7,247.1 L875,242.2 L874.8,237.1 L875.1,231.9 L876,226.7 L877.4,221.4 L879.2,216.1 L881.6,210.9 L884.4,205.9 L887.6,201.1 L891.2,196.6 L895.2,192.3 L899.4,188.4 L903.9,185" fill="none" stroke="#000" stroke-width="1.9"/>
<path d="M881.8,254.3 L880.1,250.2 L879,245.7 L878.4,241 L878.3,236.1 L878.7,231.1 L879.6,226 L881,220.8 L883,215.8 L885.3,210.8 L888.2,206 L891.4,201.4 L895,197.1 L898.9,193.2 L903.1,189.5 L907.6,186.3 L912.2,183.6 L916.9,181.3" fill="none" stroke="#000" stroke-width="0.8"/>
<ellipse cx="931.3" cy="183.7" rx="3.2" ry="3.8" fill="#fbfbfb" stroke="#000" stroke-width="1.6"/>
<ellipse cx="932" cy="179.7" rx="2.8" ry="1.9" fill="#fbfbfb" stroke="none"/>
<circle cx="931.3" cy="184" r="0.8" fill="#000"/>
<ellipse cx="921.8" cy="185.8" rx="3.2" ry="3.8" fill="#fbfbfb" stroke="#000" stroke-width="1.1"/>
<ellipse cx="921.6" cy="182" rx="2.8" ry="1.9" fill="#fbfbfb" stroke="none"/>
<circle cx="921.8" cy="186.1" r="0.8" fill="#000"/>
<path d="M998.8,230.9 L1001.7,231.1 L1004.5,231.6 L1007.2,232.4 L1009.8,233.5 L1012.1,235 L1014.3,236.7 L1016.3,238.8 L1018,241 L1019.4,243.5 L1020.6,246.2 L1021.5,249.1 L1022,252.1 L1022.3,255.2 L1022.2,258.4 L1021.9,261.6 L1021.2,264.8 L1020.2,268 L1019,271.1 L1017.4,274.1 L1015.6,277 L1013.6,279.6 L1011.3,282.1 L1008.9,284.4 L1006.3,286.4 L1003.5,288.2 L1000.7,289.6 L997.8,290.7 L994.8,291.6 L991.8,292 L988.9,292.2 L986,292 L983.2,291.5 L980.5,290.6 L977.9,289.5 L975.6,288 L973.4,286.2 L971.5,284.2 L969.8,281.9 L968.4,279.4 L967.2,276.6 L966.4,273.8 L965.8,270.7 L965.6,267.6 L965.7,264.4 L966.1,261.2 L966.8,258 L967.8,254.8 L969.1,251.7 L970.6,248.8 L972.4,245.9 L974.5,243.2 L976.8,240.8 L979.2,238.5 L981.9,236.5 L984.6,234.8 L987.5,233.4 L990.4,232.3 L993.4,231.5 L994.4,235.3 L991.8,236 L989.3,237 L986.8,238.3 L984.4,239.8 L982.1,241.5 L980,243.5 L978,245.7 L976.2,248 L974.6,250.5 L973.2,253.1 L972.1,255.8 L971.2,258.6 L970.6,261.4 L970.2,264.2 L970.1,267 L970.3,269.7 L970.8,272.3 L971.5,274.8 L972.5,277.2 L973.7,279.4 L975.1,281.4 L976.8,283.2 L978.7,284.7 L980.7,286 L982.9,287 L985.2,287.7 L987.7,288.2 L990.2,288.3 L992.7,288.2 L995.3,287.7 L997.9,287 L1000.4,286 L1002.9,284.7 L1005.3,283.2 L1007.6,281.4 L1009.7,279.4 L1011.7,277.2 L1013.5,274.9 L1015,272.4 L1016.4,269.7 L1017.5,267 L1018.4,264.3 L1019,261.4 L1019.3,258.6 L1019.4,255.9 L1019.2,253.2 L1018.7,250.5 L1017.9,248 L1017,245.7 L1015.7,243.5 L1014.2,241.5 L1012.6,239.8 L1010.7,238.3 L1008.6,237 L1006.4,236 L1004.1,235.3 L1001.6,234.9 L999.1,234.8 Z" fill="#fbfbfb" stroke="#000" stroke-width="1.2"/>
<path d="M998.8,230.9 L1001.7,231.1 L1004.5,231.6 L1007.2,232.4 L1009.7,233.5 L1012.1,235 L1014.3,236.7 L1016.2,238.7 L1017.9,241 L1019.4,243.5 L1020.6,246.1 L1021.4,249 L1022,252 L1022.3,255.1 L1022.2,258.3 L1021.9,261.5 L1021.2,264.7 L1020.3,267.8 L1019,270.9 L1017.5,273.9 L1015.7,276.8 L1013.7,279.5 L1011.5,282 L1009.1,284.3 L1006.5,286.3 L1003.7,288" fill="none" stroke="#000" stroke-width="2.6"/>
<path d="M994.9,291.5 L991.9,292 L989,292.2 L986.1,292 L983.3,291.5 L980.6,290.7 L978.1,289.5 L975.7,288.1 L973.5,286.3 L971.6,284.3 L969.9,282 L968.5,279.5 L967.3,276.8 L966.4,274 L965.9,271 L965.6,267.9 L965.7,264.7 L966,261.5 L966.7,258.3 L967.7,255.1 L968.9,252 L970.5,249 L972.3,246.2 L974.3,243.5 L976.5,241 L979,238.7" fill="none" stroke="#000" stroke-width="1.9"/>
<path d="M971.8,280.8 L970.5,278.4 L969.4,275.9 L968.6,273.2 L968.1,270.4 L967.9,267.5 L967.9,264.5 L968.3,261.5 L968.9,258.5 L969.9,255.6 L971,252.6 L972.5,249.8 L974.2,247.2 L976.1,244.6 L978.2,242.3 L980.5,240.2 L982.9,238.3 L985.5,236.6 L988.2,235.3 L990.9,234.2" fill="none" stroke="#000" stroke-width="0.8"/>
<ellipse cx="1000.2" cy="236.7" rx="2.2" ry="2.6" fill="#fbfbfb" stroke="#000" stroke-width="1.6"/>
<ellipse cx="1000.7" cy="234.3" rx="2.0" ry="1.3" fill="#fbfbfb" stroke="none"/>
<circle cx="1000.2" cy="237" r="0.8" fill="#000"/>
<ellipse cx="993" cy="237.5" rx="2.2" ry="2.6" fill="#fbfbfb" stroke="#000" stroke-width="1.1"/>
<ellipse cx="992.9" cy="235.2" rx="2.0" ry="1.3" fill="#fbfbfb" stroke="none"/>
<circle cx="993" cy="237.8" r="0.8" fill="#000"/>
<path d="M1032.2,317.6 L1030,316.2 L1028,314.6 L1026.3,312.6 L1024.8,310.4 L1023.5,308 L1022.5,305.4 L1021.7,302.6 L1021.3,299.7 L1021.1,296.6 L1021.2,293.5 L1021.6,290.4 L1022.3,287.2 L1023.3,284.1 L1024.5,281 L1025.9,278 L1027.6,275.1 L1029.6,272.4 L1031.7,269.9 L1034,267.6 L1036.4,265.5 L1039,263.8 L1041.6,262.2 L1044.3,261 L1047.1,260.1 L1049.8,259.6 L1052.5,259.3 L1055.2,259.4 L1057.8,259.8 L1060.2,260.6 L1062.5,261.6 L1073,266.1 L1075.2,267.5 L1077.2,269.1 L1078.9,271.1 L1080.4,273.3 L1081.7,275.7 L1082.7,278.3 L1083.5,281.1 L1083.9,284 L1084.1,287.1 L1084,290.2 L1083.6,293.3 L1082.9,296.5 L1081.9,299.6 L1080.7,302.7 L1079.3,305.7 L1077.6,308.6 L1075.6,311.3 L1073.5,313.8 L1071.2,316.1 L1068.8,318.2 L1066.2,319.9 L1063.6,321.5 L1060.9,322.7 L1058.1,323.6 L1055.4,324.1 L1052.7,324.4 L1050,324.3 L1047.4,323.9 L1045,323.1 L1042.7,322.1 Z" fill="#fbfbfb" stroke="#000" stroke-width="0.9"/>
<ellipse cx="1057.8" cy="294.1" rx="24.4" ry="31.8" transform="rotate(28.5 1057.8 294.1)" fill="#fbfbfb" stroke="#000" stroke-width="1.0"/>
<ellipse cx="1058.3" cy="294.1" rx="21.9" ry="29.3" transform="rotate(28.5 1058.3 294.1)" fill="none" stroke="#000" stroke-width="1.0"/>
<path d="M1041.2,317.6 L1039.6,315.9 L1038.1,313.9 L1036.9,311.7 L1035.9,309.3 L1035.2,306.8 L1034.7,304 L1034.6,301.2 L1034.6,298.3 L1035,295.3 L1035.6,292.3 L1036.5,289.4 L1037.7,286.5 L1039.1,283.6 L1040.7,280.9 L1042.5,278.4 L1044.5,276 L1046.7,273.9 L1048.9,271.9 L1051.3,270.3 L1053.8,268.9 L1056.4,267.8 L1058.9,267 L1061.5,266.5 L1064,266.3 L1066.4,266.5 L1068.8,266.9" fill="none" stroke="#000" stroke-width="1.8"/>
<ellipse cx="1058.6" cy="294.1" rx="19.5" ry="26.1" transform="rotate(28.5 1058.6 294.1)" fill="none" stroke="#000" stroke-width="0.9"/>
<ellipse cx="1058.6" cy="294.1" rx="17.8" ry="23.9" transform="rotate(28.5 1058.6 294.1)" fill="none" stroke="#000" stroke-width="2.6" stroke-dasharray="3.2 2.2"/>
<ellipse cx="1058.8" cy="294.1" rx="15.8" ry="21.3" transform="rotate(28.5 1058.8 294.1)" fill="none" stroke="#000" stroke-width="1.0"/>
<path d="M1046.4,311.3 L1045.2,310 L1044.2,308.7 L1043.3,307.1 L1042.6,305.4 L1042.1,303.6 L1041.8,301.7 L1041.6,299.7 L1041.7,297.6 L1041.9,295.5 L1042.3,293.4 L1042.9,291.3 L1043.7,289.2 L1044.6,287.2 L1045.7,285.3 L1046.9,283.4 L1048.3,281.7 L1049.8,280.1 L1051.3,278.6 L1053,277.4 L1054.7,276.3 L1056.5,275.4 L1058.3,274.7 L1060.1,274.2 L1061.9,273.9 L1063.7,273.9" fill="none" stroke="#000" stroke-width="2.0"/>
<ellipse cx="1056.8" cy="294.5" rx="13.9" ry="18.2" transform="rotate(18.6 1056.8 294.5)" fill="#fbfbfb" stroke="#000" stroke-width="1.3"/>
<path d="M1061.4,278.7 L1062.3,279.7 L1063.2,280.9 L1063.9,282.2 L1064.5,283.7 L1064.9,285.3 L1065.3,286.9 L1065.4,288.7 L1065.4,290.5 L1065.3,292.3 L1065,294.1 L1064.6,296 L1064.1,297.8 L1063.4,299.5 L1062.6,301.2 L1061.6,302.8 L1060.6,304.3 L1059.5,305.7 L1058.3,306.9 L1057,308 L1055.7,308.9 L1054.3,309.7 L1052.9,310.3 L1051.5,310.7 L1050.1,310.8 L1048.8,310.8" fill="none" stroke="#000" stroke-width="1.0"/>
<path d="M1065.8,279 L1067,280 L1068,281.2 L1068.9,282.5 L1069.6,284 L1070.3,285.6 L1070.7,287.3 L1071,289.1 L1071.2,290.9 L1071.2,292.8" fill="none" stroke="#000" stroke-width="2.4"/>
<ellipse cx="1118.8" cy="329.7" rx="39" ry="50.7" transform="rotate(34.3 1118.8 329.7)" fill="#fbfbfb" stroke="#000" stroke-width="1.6"/>
<path d="M1102.9,376.6 L1098.8,375.7 L1094.9,374.2 L1091.3,372.3 L1088,370 L1085,367.1 L1082.4,363.9 L1080.2,360.3 L1078.4,356.4 L1077.1,352.1 L1076.2,347.7 L1075.7,343 L1075.8,338.2 L1076.3,333.3 L1077.3,328.3 L1078.7,323.4 L1080.6,318.5 L1082.9,313.8 L1085.6,309.2 L1088.6,304.9 L1092,300.8 L1095.7,297 L1099.6,293.6 L1103.8,290.6 L1108.1,288.1 L1112.5,285.9 L1117,284.3 L1121.5,283.2 L1125.9,282.5 L1130.3,282.4 L1134.6,282.8" fill="none" stroke="#000" stroke-width="2.2"/>
<path d="M1159.6,304.4 L1160.8,308.9 L1161.6,313.6 L1161.8,318.5 L1161.5,323.5 L1160.8,328.6 L1159.5,333.7 L1157.8,338.7 L1155.6,343.7 L1153,348.5 L1150,353 L1146.6,357.3 L1142.9,361.3 L1138.9,364.9 L1134.7,368.1 L1130.3,370.9 L1125.7,373.1 L1121.1,374.9 L1116.5,376.1 L1111.8,376.8 L1107.3,377 L1102.9,376.6" fill="none" stroke="#000" stroke-width="2.6"/>
<path d="M1111.9,375.7 L1107.7,375.7 L1103.7,375.1 L1099.8,374.1 L1096.2,372.6 L1092.8,370.6 L1089.8,368.2 L1087,365.4 L1084.7,362.2 L1082.7,358.6 L1081.2,354.7 L1080,350.5 L1079.4,346.2 L1079.2,341.6 L1079.4,336.9 L1080.1,332.1 L1081.2,327.4 L1082.7,322.6 L1084.7,317.9 L1087.1,313.4 L1089.8,309 L1092.9,304.9 L1096.2,301 L1099.9,297.5 L1103.7,294.3 L1107.8,291.5 L1112,289.1 L1116.3,287.2 L1120.6,285.8 L1124.9,284.8 L1129.2,284.3 L1133.4,284.3 L1137.4,284.9 L1141.3,285.9 L1144.9,287.4 L1148.3,289.4 L1151.3,291.8 L1154.1,294.6 L1156.4,297.8 L1158.4,301.4 L1159.9,305.3" fill="none" stroke="#000" stroke-width="1.0"/>
<path d="M1113.5,374.6 L1109.4,374.6 L1105.4,374.1 L1101.7,373.1 L1098.1,371.7 L1094.9,369.7 L1091.9,367.3 L1089.3,364.5 L1087.1,361.3 L1085.3,357.8 L1083.8,353.9 L1082.8,349.8 L1082.3,345.4 L1082.2,340.9 L1082.6,336.3 L1083.4,331.6 L1084.6,326.8 L1086.3,322.2 L1088.4,317.6 L1090.8,313.1 L1093.6,308.9 L1096.8,304.9 L1100.2,301.1 L1103.9,297.7 L1107.7,294.7 L1111.8,292.1 L1115.9,289.9 L1120.2,288.2 L1124.4,286.9 L1128.6,286.2 L1132.8,285.9 L1136.8,286.1 L1140.7,286.9 L1144.4,288.1 L1147.8,289.8 L1150.9,292 L1153.7,294.6 L1156.1,297.6 L1158.1,301 L1159.8,304.7 L1161,308.7 L1161.8,312.9" fill="none" stroke="#000" stroke-width="1.1"/>
<ellipse cx="1124.2" cy="330.7" rx="33.1" ry="45.6" transform="rotate(34.3 1124.2 330.7)" fill="none" stroke="#000" stroke-width="2.8"/>
<ellipse cx="1125.8" cy="330.9" rx="29.6" ry="41.6" transform="rotate(34.3 1125.8 330.9)" fill="none" stroke="#000" stroke-width="1.2"/>
<ellipse cx="1126.2" cy="330.9" rx="27.3" ry="38.5" transform="rotate(34.3 1126.2 330.9)" fill="none" stroke="#000" stroke-width="0.8"/>
<path d="M1154.4,302.5 L1155.9,305.7 L1156.9,309.1 L1157.6,312.8 L1157.9,316.7 L1157.8,320.8 L1157.3,324.9 L1156.4,329.1 L1155.1,333.4 L1153.4,337.6 L1151.4,341.7 L1149.1,345.7 L1146.5,349.5 L1143.6,353.1 L1140.5,356.5 L1137.2,359.6 L1133.7,362.3 L1130.1,364.7 L1126.4,366.7 L1122.7,368.2 L1119,369.4 L1115.3,370.1 L1111.7,370.4 L1108.2,370.2" fill="none" stroke="#000" stroke-width="0.8"/>
<ellipse cx="1122.6" cy="331.7" rx="22.3" ry="29.5" transform="rotate(25.6 1122.6 331.7)" fill="#fbfbfb" stroke="#000" stroke-width="1.3"/>
<path d="M1106.5,356.2 L1104.7,354.6 L1103.2,352.7 L1101.8,350.6 L1100.7,348.3 L1099.8,345.9 L1099.2,343.2 L1098.8,340.5 L1098.7,337.6 L1098.8,334.7 L1099.3,331.7 L1099.9,328.8 L1100.8,325.8 L1102,323 L1103.3,320.2 L1104.9,317.6 L1106.7,315.1 L1108.6,312.8 L1110.8,310.7 L1113,308.8 L1115.3,307.2 L1117.7,305.9 L1120.2,304.8 L1122.7,304 L1125.2,303.6 L1127.7,303.4" fill="none" stroke="#000" stroke-width="2.0"/>
<path d="M1115.8,357.1 L1113.8,356.5 L1112,355.6 L1110.2,354.5 L1108.6,353.2 L1107.2,351.6 L1106,349.8 L1104.9,347.8 L1104.1,345.6 L1103.5,343.3 L1103.1,340.9 L1102.9,338.3 L1103,335.7 L1103.3,333.1 L1103.8,330.4 L1104.6,327.8 L1105.6,325.2 L1106.7,322.7 L1108.1,320.2 L1109.6,318 L1111.3,315.8 L1113.1,313.9 L1115.1,312.1 L1117.1,310.6 L1119.3,309.3 L1121.5,308.2 L1123.7,307.4 L1125.9,306.9 L1128.1,306.6 L1130.2,306.6 L1132.3,306.9 L1134.3,307.5 L1136.1,308.4 L1137.9,309.5 L1139.5,310.8 L1140.9,312.4" fill="none" stroke="#000" stroke-width="0.8"/>
<path d="M1120.2,304.8 L1121.1,291.6 L1126.3,289.8 L1126.8,303.4 Z" fill="#fbfbfb" stroke="none" stroke-width="0"/>
<line x1="1120.2" y1="304.8" x2="1121.1" y2="291.6" fill="none" stroke="#000" stroke-width="1.4"/>
<line x1="1126.8" y1="303.4" x2="1126.3" y2="289.8" fill="none" stroke="#000" stroke-width="2.4"/>
<path d="M1125.9,358.2 L1128.1,369.5 L1122.9,371.4 L1119.2,359.9 Z" fill="#fbfbfb" stroke="none" stroke-width="0"/>
<line x1="1125.9" y1="358.2" x2="1128.1" y2="369.5" fill="none" stroke="#000" stroke-width="1.4"/>
<line x1="1119.2" y1="359.9" x2="1122.9" y2="371.4" fill="none" stroke="#000" stroke-width="2.4"/>
<ellipse cx="1120.2" cy="329.7" rx="14.3" ry="18.6" transform="rotate(33.5 1120.2 329.7)" fill="#fbfbfb" stroke="#000" stroke-width="1.6"/>
<path d="M1135.4,321.5 L1135.7,323.2 L1135.9,325 L1135.9,326.8 L1135.7,328.7 L1135.3,330.5 L1134.7,332.4 L1134,334.2 L1133.1,336 L1132.1,337.7 L1130.9,339.3 L1129.6,340.8 L1128.2,342.1 L1126.7,343.4 L1125.1,344.4 L1123.5,345.4 L1121.8,346.1 L1120.2,346.6 L1118.5,347 L1116.8,347.1 L1115.2,347 L1113.6,346.8 L1112.1,346.3 L1111.2,345 L1112.7,345 L1114.3,344.7 L1115.9,344.2 L1117.5,343.6 L1119,342.8 L1120.6,341.8 L1122,340.7 L1123.4,339.4 L1124.7,338 L1125.9,336.5 L1127,334.9 L1128,333.2 L1128.8,331.5 L1129.5,329.7 L1130,327.9 L1130.3,326.1 L1130.5,324.3 L1130.5,322.6 Z" fill="#000" stroke="#000" stroke-width="0.6"/>
<ellipse cx="881.5" cy="671.6" rx="32.8" ry="43.3" transform="rotate(37.6 881.5 671.6)" fill="#fbfbfb" stroke="#000" stroke-width="1.3"/>
<path d="M851,701.9 L848.9,699 L847.2,695.8 L845.9,692.3 L845,688.7 L844.5,684.8 L844.4,680.7 L844.8,676.6 L845.5,672.4 L846.6,668.2 L848.2,664 L850.1,659.9 L852.4,656 L854.9,652.2 L857.8,648.7 L861,645.4 L864.4,642.4 L867.9,639.7 L871.7,637.4 L875.5,635.4 L879.4,633.9 L883.3,632.8 L887.2,632.1 L891.1,631.9 L894.8,632.1 L898.4,632.8 L901.8,633.9 L904.9,635.4 L907.8,637.3" fill="none" stroke="#000" stroke-width="2.6"/>
<path d="M851.2,696.6 L849.9,693.3 L848.9,689.9 L848.3,686.2 L848.1,682.4 L848.3,678.5 L848.8,674.5 L849.8,670.5 L851.2,666.4 L852.9,662.5 L854.9,658.7 L857.3,655 L859.9,651.5 L862.9,648.2 L866,645.2 L869.4,642.5 L872.9,640.1 L876.5,638 L880.2,636.4 L884,635.1 L887.7,634.3 L891.4,633.8 L895,633.8 L898.5,634.3 L901.8,635.1" fill="none" stroke="#000" stroke-width="0.9"/>
<path d="M853,696.4 L851.7,693.3 L850.8,689.9 L850.2,686.3 L850,682.6 L850.2,678.7 L850.8,674.8 L851.8,670.8 L853.1,666.9 L854.8,663 L856.9,659.2 L859.2,655.6 L861.8,652.1 L864.7,648.9 L867.8,645.9 L871.1,643.2 L874.6,640.9 L878.1,638.9 L881.8,637.2 L885.5,636" fill="none" stroke="#000" stroke-width="0.9"/>
<path d="M913,652.2 L913.8,655.6 L914.3,659.1 L914.4,662.8 L914.1,666.6 L913.5,670.5 L912.4,674.4 L911.1,678.2 L909.4,682 L907.3,685.6 L905,689.1 L902.4,692.4 L899.5,695.5 L896.4,698.3 L893.2,700.8 L889.8,703 L886.3,704.9 L882.7,706.4 L879.1,707.5 L875.5,708.2" fill="none" stroke="#000" stroke-width="1.0"/>
<path d="M901.2,683.6 L901.2,684.4 L901,685 L900.5,685.4 L899.7,685.7 L899,685.9 L898.5,686.2 L898.2,686.8 L898.1,687.6 L898,688.4 L897.7,689 L897.1,689.3 L896.4,689.4 L895.7,689.5 L895.1,689.7 L894.8,690.3 L894.5,691.1 L894.3,691.9 L893.9,692.5 L893.3,692.7 L892.6,692.6 L891.9,692.5 L891.3,692.7 L890.9,693.2 L890.6,694 L890.2,694.8 L889.8,695.3 L889.2,695.4 L888.5,695.2 L887.9,694.9 L887.3,695 L886.8,695.4 L886.4,696.2 L885.9,696.9 L885.4,697.3 L884.8,697.3 L884.2,697 L883.7,696.6 L883.1,696.6 L882.6,696.9 L882.1,697.6 L881.5,698.2 L880.9,698.6 L880.4,698.4 L879.9,698 L879.4,697.5 L878.9,697.3 L878.3,697.6 L877.7,698.2 L877.1,698.7 L876.5,699 L876,698.7 L875.6,698.2 L875.2,697.6 L874.8,697.3 L874.2,697.5 L873.5,698 L872.8,698.4 L872.2,698.5 L871.8,698.2 L871.5,697.5 L871.2,696.9 L870.9,696.5 L870.3,696.6 L869.6,696.9 L868.9,697.2 L868.3,697.2 L867.9,696.8 L867.8,696.1 L867.6,695.4 L867.3,694.9 L866.8,694.9 L866,695.1 L865.3,695.3 L864.7,695.1 L864.5,694.6 L864.4,693.9 L864.4,693.1 L864.2,692.6 L863.7,692.4 L863,692.5 L862.2,692.5 L861.7,692.3 L861.6,691.8 L861.7,691 L861.8,690.2 L861.6,689.6 L861.2,689.3 L860.5,689.3 L859.8,689.2 L859.4,688.9 L859.3,688.2 L859.5,687.4 L859.7,686.6 L859.7,686 L859.3,685.7 L858.7,685.5 L858,685.2 L857.7,684.8 L857.7,684.2 L858,683.4 L858.4,682.6 L858.5,682 L858.1,681.6 L857.6,681.2 L857,680.9 L856.7,680.4 L856.8,679.7 L857.3,679 L857.7,678.3 L857.9,677.7 L857.7,677.2 L857.2,676.7 L856.7,676.2 L856.5,675.7 L856.8,675 L857.3,674.4 L857.8,673.7 L858.1,673.1 L858,672.5 L857.6,672 L857.2,671.4 L857.1,670.8 L857.5,670.2 L858.1,669.6 L858.7,669 L859,668.5 L859,667.9 L858.7,667.2 L858.5,666.6 L858.5,665.9 L858.9,665.4 L859.6,664.9 L860.3,664.4 L860.7,663.9 L860.8,663.3 L860.6,662.6 L860.4,661.8 L860.6,661.2 L861,660.7 L861.8,660.4 L862.5,660 L863,659.6 L863.1,659 L863.1,658.2 L863.1,657.4 L863.3,656.8 L863.8,656.4 L864.6,656.1 L865.3,655.9 L865.8,655.6 L866.1,655 L866.2,654.2 L866.3,653.4 L866.6,652.8 L867.2,652.5 L867.9,652.4 L868.6,652.3 L869.2,652.1 L869.5,651.5 L869.8,650.7 L870,649.9 L870.4,649.3 L871,649.1 L871.7,649.2 L872.4,649.3 L873,649.1 L873.4,648.6 L873.7,647.8 L874.1,647 L874.5,646.5 L875.1,646.4 L875.8,646.6 L876.4,646.9 L877,646.8 L877.5,646.4 L877.9,645.6 L878.4,644.9 L878.9,644.5 L879.5,644.5 L880.1,644.8 L880.6,645.2 L881.2,645.2 L881.7,644.9 L882.2,644.2 L882.8,643.6 L883.4,643.2 L883.9,643.4 L884.4,643.8 L884.9,644.3 L885.4,644.5 L886,644.2 L886.6,643.6 L887.2,643.1 L887.8,642.8 L888.3,643.1 L888.7,643.6 L889.1,644.2 L889.5,644.5 L890.1,644.3 L890.8,643.8 L891.5,643.4 L892.1,643.3 L892.5,643.6 L892.8,644.3 L893.1,644.9 L893.4,645.3 L894,645.2 L894.7,644.9 L895.4,644.6 L896,644.6 L896.4,645 L896.5,645.7 L896.7,646.4 L897,646.9 L897.5,646.9 L898.3,646.7 L899,646.5 L899.6,646.7 L899.8,647.2 L899.9,647.9 L899.9,648.7 L900.1,649.2 L900.6,649.4 L901.3,649.3 L902.1,649.3 L902.6,649.5 L902.7,650 L902.6,650.8 L902.5,651.6 L902.7,652.2 L903.1,652.5 L903.8,652.5 L904.5,652.6 L904.9,652.9 L905,653.6 L904.8,654.4 L904.6,655.2 L904.6,655.8 L905,656.1 L905.6,656.3 L906.3,656.6 L906.6,657 L906.6,657.6 L906.3,658.4 L905.9,659.2 L905.8,659.8 L906.2,660.2 L906.7,660.6 L907.3,660.9 L907.6,661.4 L907.5,662.1 L907,662.8 L906.6,663.5 L906.4,664.1 L906.6,664.6 L907.1,665.1 L907.6,665.6 L907.8,666.1 L907.5,666.8 L907,667.4 L906.5,668.1 L906.2,668.7 L906.3,669.3 L906.7,669.8 L907.1,670.4 L907.2,671 L906.8,671.6 L906.2,672.2 L905.6,672.8 L905.3,673.3 L905.3,673.9 L905.6,674.6 L905.8,675.2 L905.8,675.9 L905.4,676.4 L904.7,676.9 L904,677.4 L903.6,677.9 L903.5,678.5 L903.7,679.2 L903.9,680 L903.7,680.6 L903.3,681.1 L902.5,681.4 L901.8,681.8 L901.3,682.2 L901.2,682.8 L901.2,683.6 Z" fill="none" stroke="#000" stroke-width="1.2"/>
<path d="M926.2,733 L923.9,731.6 L921.8,729.8 L920,727.7 L918.4,725.4 L917.1,722.9 L916.1,720.1 L915.4,717.2 L915.1,714.1 L915,710.9 L915.3,707.7 L915.9,704.4 L916.8,701.2 L918,698 L919.5,694.8 L921.3,691.8 L923.3,688.9 L925.6,686.2 L928,683.8 L930.6,681.5 L933.4,679.6 L936.3,677.9 L939.2,676.5 L942.2,675.5 L945.2,674.8 L948.2,674.4 L951.1,674.4 L954,674.8 L956.7,675.5 L959.2,676.5 L961.6,677.9 L963.8,679.5 L981.6,688.4 L979.4,686.7 L976.9,685.3 L974.3,684.2 L971.4,683.5 L968.5,683.1 L965.4,683.1 L962.3,683.5 L959.2,684.2 L956,685.3 L953,686.7 L950,688.5 L947.1,690.5 L944.4,692.9 L941.8,695.4 L939.5,698.2 L937.4,701.2 L935.5,704.4 L934,707.7 L932.7,711 L931.7,714.4 L931.1,717.8 L930.8,721.2 L930.9,724.5 L931.3,727.7 L932,730.8 L933,733.6 L934.3,736.3 L936,738.7 L937.9,740.9 L940,742.7 L942.4,744.2 Z" fill="#000" stroke="#000" stroke-width="1.2"/>
<line x1="963.4" y1="680.3" x2="971.4" y2="685.1" fill="none" stroke="#fbfbfb" stroke-width="1.0"/>
<line x1="966.1" y1="681.8" x2="974.1" y2="686.6" fill="none" stroke="#fbfbfb" stroke-width="1.0"/>
<line x1="968.4" y1="683.6" x2="976.4" y2="688.4" fill="none" stroke="#fbfbfb" stroke-width="1.0"/>
<line x1="970.5" y1="685.9" x2="978.5" y2="690.7" fill="none" stroke="#fbfbfb" stroke-width="1.0"/>
<line x1="972.2" y1="688.4" x2="980.2" y2="693.2" fill="none" stroke="#fbfbfb" stroke-width="1.0"/>
<path d="M920.5,729.4 L920.3,728.9 L920.3,728.3 L920.3,727.6 L920.2,727 L919.9,726.7 L919.3,726.6 L918.7,726.6 L918.2,726.3 L918.1,725.9 L918.2,725.2 L918.3,724.5 L918.3,723.9 L918,723.6 L917.4,723.4 L916.8,723.2 L916.5,722.9 L916.4,722.4 L916.5,721.7 L916.8,721 L916.8,720.4 L916.6,720 L916.1,719.7 L915.6,719.4 L915.2,719 L915.2,718.5 L915.5,717.8 L915.8,717.1 L915.9,716.6 L915.7,716.1 L915.3,715.7 L914.8,715.4 L914.6,714.9 L914.7,714.4 L915,713.7 L915.4,713.1 L915.6,712.5 L915.5,712 L915.1,711.6 L914.7,711.1 L914.5,710.6 L914.7,710 L915.1,709.4 L915.5,708.8 L915.8,708.3 L915.7,707.7 L915.4,707.2 L915.1,706.7 L915,706.2 L915.3,705.6 L915.7,705 L916.3,704.5 L916.6,704 L916.6,703.4 L916.3,702.9 L916.1,702.3 L916.1,701.7 L916.4,701.2 L917,700.7 L917.5,700.2 L917.9,699.7 L918,699.1 L917.8,698.5 L917.7,697.9 L917.8,697.3 L918.1,696.8 L918.7,696.4 L919.3,696 L919.7,695.5 L919.9,695 L919.8,694.3 L919.8,693.7 L919.9,693.1 L920.4,692.6 L921,692.3 L921.6,692 L922,691.6 L922.2,691 L922.3,690.3 L922.3,689.6 L922.6,689.1 L923,688.7 L923.7,688.5 L924.3,688.2 L924.8,687.9 L925.1,687.3 L925.2,686.7 L925.3,686 L925.6,685.4 L926.1,685.1 L926.8,685 L927.4,684.8 L927.9,684.6 L928.2,684 L928.4,683.3 L928.7,682.6 L929.1,682.1 L929.6,681.9 L930.2,681.9 L930.8,681.9 L931.4,681.6 L931.7,681.1 L932,680.5 L932.3,679.8 L932.8,679.3 L933.3,679.2 L933.9,679.3 L934.5,679.3 L935,679.2 L935.5,678.7 L935.8,678.1 L936.2,677.5 L936.7,677.1 L937.2,677 L937.8,677.2 L938.4,677.4 L938.9,677.3 L939.3,676.9 L939.8,676.3 L940.2,675.7 L940.7,675.4 L941.3,675.4 L941.8,675.7 L942.3,675.9 L942.8,675.9 L943.3,675.6 L943.8,675 L944.3,674.5 L944.8,674.3 L945.3,674.4 L945.8,674.8 L946.3,675.1 L946.7,675.2 L947.3,674.9 L947.8,674.4 L948.4,674 L948.9,673.8 L949.4,674 L949.8,674.5 L950.2,674.9 L950.6,675 L951.1,674.8 L951.8,674.4 L952.4,674 L952.9,674 L953.3,674.3 L953.6,674.8 L953.9,675.3 L954.3,675.5 L954.9,675.4 L955.5,675 L956.1,674.8 L956.6,674.8 L957,675.2 L957.2,675.8 L957.4,676.3 L957.8,676.6" fill="none" stroke="#000" stroke-width="1.2"/>
<ellipse cx="960.5" cy="715.4" rx="27" ry="34.8" transform="rotate(35.1 960.5 715.4)" fill="#fbfbfb" stroke="#000" stroke-width="1.0"/>
<path d="M939.8,743.3 L937.7,741.2 L936,738.8 L934.5,736.2 L933.3,733.3 L932.5,730.2 L932,727 L931.8,723.6 L932,720.2 L932.5,716.7 L933.4,713.2 L934.6,709.7 L936.1,706.3 L937.9,703.1 L940,699.9 L942.3,697 L944.9,694.3 L947.7,691.8 L950.6,689.6 L953.6,687.8 L956.8,686.2 L960,685 L963.2,684.2 L966.4,683.7 L969.6,683.6 L972.6,683.9 L975.6,684.6 L978.3,685.6 L980.9,687 L983.3,688.7 L985.4,690.8" fill="none" stroke="#000" stroke-width="1.0"/>
<ellipse cx="963.1" cy="717" rx="27.4" ry="35.3" transform="rotate(35.1 963.1 717)" fill="#fbfbfb" stroke="#000" stroke-width="1.1"/>
<path d="M990.8,716.2 L989.9,719.5 L988.8,722.9 L987.3,726.1 L985.6,729.2 L983.5,732.2 L981.3,735 L978.8,737.6 L976.2,739.9 L973.4,742 L970.4,743.7 L967.4,745.1" fill="none" stroke="#000" stroke-width="0.6"/>
<path d="M939.5,722.9 L939.8,720 L940.3,717.1 L941.1,714.2 L942.2,711.3 L943.5,708.5 L945.1,705.8 L946.9,703.2 L948.8,700.8 L951,698.5 L953.3,696.5" fill="none" stroke="#000" stroke-width="0.7"/>
<ellipse cx="962.4" cy="718.5" rx="13.7" ry="17.5" transform="rotate(36.6 962.4 718.5)" fill="#000" stroke="#000" stroke-width="1.2"/>
<ellipse cx="965.6" cy="719.1" rx="9.8" ry="14.4" transform="rotate(36.6 965.6 719.1)" fill="#fbfbfb" stroke="#000" stroke-width="1.0"/>
<path d="M954.2,726.2 L954,725 L953.9,723.8 L954,722.5 L954.1,721.1 L954.4,719.7 L954.9,718.4 L955.4,717 L956.1,715.7 L956.9,714.4 L957.8,713.1 L958.7,712 L959.8,710.9 L960.9,709.9 L962,709 L963.2,708.2 L964.4,707.5 L965.7,707 L966.9,706.6 L968.1,706.3 L969.3,706.2 L970.4,706.3 L971.5,706.4 L972.6,706.8 L973.5,707.2 L974.4,707.8 L975.1,708.5 L975.8,709.4 L976.3,710.3 L971.5,715.4 L971.8,714 L972,712.7 L972,711.4 L971.9,710.2 L971.7,709 L971.4,707.9 L970.9,706.9 L970.4,706 L969.7,705.2 L968.9,704.5 L968,704 L967.1,703.6 L966.1,703.3 L965,703.1 L963.8,703.1 L962.6,703.3 L961.4,703.6 L960.2,704 L959,704.5 L957.8,705.2 L956.6,706 L955.5,706.9 L954.4,707.9 L953.4,709 L952.5,710.2 L951.6,711.4 L950.8,712.7 L950.2,714 L949.7,715.4 L949.2,716.7 L948.9,718.1 L948.7,719.4 L948.7,720.7 L948.8,721.9 L949,723.1 L949.3,724.2 L949.8,725.2 L950.3,726.1 L951,726.9 L951.8,727.6 L952.7,728.1 L953.6,728.5 L954.6,728.8 L955.7,729 L956.9,729 Z" fill="#000" stroke="none" stroke-width="0"/>
<path d="M964.9,732.2 L963.6,732.7 L962.2,733 L961,733.1 L959.7,733.1 L958.5,733 L957.4,732.7 L956.3,732.3 L955.3,731.7 L954.4,731 L953.6,730.2 L952.9,729.2 L952.3,728.2 L951.9,727 L951.6,725.8 L951.4,724.5" fill="none" stroke="#fbfbfb" stroke-width="1.0"/>
<ellipse cx="1017.7" cy="748.8" rx="26.9" ry="36.2" transform="rotate(28.2 1017.7 748.8)" fill="none" stroke="#000" stroke-width="3.7"/>
<path d="M596.3,75.5 L622.4,59.5 L700,40.2 L733.6,31.8 L750.4,30 L779,45.2 L780,60 L815,66 L889,150 L860,230 L813.6,262 L813.6,325.8 L784.2,351 L760,365 L715,373 L656,388.5 L624,380 L560.2,340.6 L558.5,160 L561.8,156.9 L590.4,147.7 L595.5,137.6 Z" fill="#fbfbfb" stroke="none" stroke-width="0"/>
<path d="M596.3,75.5 L617,62.5" fill="none" stroke="#000" stroke-width="1.2" stroke-dasharray="6 3"/>
<path d="M622.4,59.5 L660,50 L700,40.2 L733.6,31.8 L744,30" fill="none" stroke="#000" stroke-width="1.2" stroke-dasharray="10 4 3 4"/>
<path d="M733.6,31.8 L740,29.6 L750.4,30 L765,37.5 L779,45.2 L779.8,59.5" fill="none" stroke="#000" stroke-width="1.3" stroke-dasharray="13 1.5 4 1.5"/>
<path d="M619,61 L617.5,66 L620,73 L624,78" fill="none" stroke="#000" stroke-width="1.3"/>
<path d="M621,62 L628,66 L632,70" fill="none" stroke="#000" stroke-width="1.3"/>
<path d="M620,74 L627,76 L633,73 L634.5,70.5" fill="none" stroke="#000" stroke-width="1.3"/>
<path d="M617.5,79 L616,84" fill="none" stroke="#000" stroke-width="1.6"/>
<path d="M596.3,75.5 L606,80.5 L615,84" fill="none" stroke="#000" stroke-width="1.3"/>
<path d="M610,72 L607.5,75 L613,76" fill="none" stroke="#000" stroke-width="0.9" stroke-dasharray="3 2"/>
<path d="M618,85.5 L640,94.5 L660.2,103.2" fill="none" stroke="#000" stroke-width="1.1" stroke-dasharray="7 3 2 3"/>
<path d="M596.3,75.5 L595.8,100 L595.5,137.6 L594.5,143 L590.4,147.7" fill="none" stroke="#000" stroke-width="1.4" stroke-dasharray="16 2 5 2"/>
<path d="M590.4,147.7 L578,151.5 L561.8,156.9" fill="none" stroke="#000" stroke-width="1.2" stroke-dasharray="6 3"/>
<path d="M607.9,113.8 L607.8,114.9 L607.5,116 L607.2,117.1 L606.9,118.1 L606.5,119.1 L606,120 L605.5,120.9 L605,121.6 L604.5,122.3 L603.9,122.8 L603.3,123.3 L602.7,123.6 L602.1,123.8 L601.5,123.9 L601,123.9 L600.4,123.8 L599.9,123.5 L599.4,123.1 L598.9,122.6 L598.5,122.1 L598.1,121.4 L597.7,120.6 L597.4,119.7 L597.2,118.8 L597,117.8 L596.9,116.7 L596.8,115.6 L596.9,114.5 L596.9,113.4 L597.1,112.2 L597.2,111.1 L597.5,110 L597.8,108.9 L598.1,107.9 L598.5,106.9 L599,106 L599.5,105.1 L600,104.4 L600.5,103.7 L601.1,103.2 L601.7,102.7 L602.3,102.4 L602.9,102.2 L603.5,102.1 L604,102.1 L604.6,102.2 L605.1,102.5 L605.6,102.9 L606.1,103.4 L606.5,103.9 L606.9,104.6 L607.3,105.4 L607.6,106.3 L607.8,107.2 L608,108.2 L608.1,109.3 L608.2,110.4 L608.1,111.5 L608.1,112.6 L607.9,113.8" fill="none" stroke="#000" stroke-width="1.3" stroke-dasharray="9 2"/>
<path d="M598.4,122.7 L598.1,122.4 L597.7,122 L597.4,121.4 L597.1,120.8 L596.9,120.1 L596.7,119.4 L596.5,118.5 L596.4,117.6 L596.3,116.6 L596.3,115.6 L596.3,114.6 L596.4,113.5 L596.5,112.4 L596.7,111.4 L596.9,110.3 L597.2,109.3 L597.5,108.4 L597.8,107.5 L598.2,106.6 L598.6,105.8 L599,105.1 L599.4,104.5 L599.8,104 L600.3,103.6 L600.7,103.3 L601.2,103.2" fill="none" stroke="#000" stroke-width="1.0"/>
<path d="M660.2,103.2 L660.4,140 L660.2,176 L659,182 L656,185.5" fill="none" stroke="#000" stroke-width="1.5" stroke-dasharray="15 2 6 2"/>
<path d="M660.2,103.2 L663,101" fill="none" stroke="#000" stroke-width="2.0"/>
<path d="M656,185.5 L640,190 L630,193.5 L624,196.4" fill="none" stroke="#000" stroke-width="1.3" stroke-dasharray="8 2.5"/>
<path d="M663,102 L680,97.5 L700,92.5 L708,90.6" fill="none" stroke="#000" stroke-width="1.1" stroke-dasharray="8 3"/>
<path d="M668,104 L676,106" fill="none" stroke="#000" stroke-width="0.6" stroke-dasharray="2 3"/>
<ellipse cx="688" cy="56" rx="13" ry="6" transform="rotate(0 688 56)" fill="#fbfbfb" stroke="#000" stroke-width="1.1"/>
<ellipse cx="688" cy="55.5" rx="8.5" ry="3.8" transform="rotate(0 688 55.5)" fill="none" stroke="#000" stroke-width="1.2"/>
<ellipse cx="688.5" cy="55.5" rx="4" ry="2" transform="rotate(0 688.5 55.5)" fill="#000" stroke="#000" stroke-width="1"/>
<path d="M675,57 L674,61.5" fill="none" stroke="#000" stroke-width="1.0"/>
<path d="M700.8,60.5 L700.5,61 L700,61.6 L699.4,62.1 L698.7,62.6 L697.8,63.1 L696.9,63.5 L695.8,63.9 L694.7,64.2 L693.4,64.5 L692.1,64.7 L690.8,64.9 L689.4,65 L688,65 L686.6,65 L685.2,64.9 L683.9,64.7 L682.6,64.5 L681.3,64.2 L680.2,63.9 L679.1,63.5 L678.2,63.1 L677.3,62.6 L676.6,62.1 L676,61.6 L675.5,61 L675.2,60.5" fill="none" stroke="#000" stroke-width="0.8" stroke-dasharray="4 3"/>
<path d="M561.8,156.9 L559,160 L558.6,200 L558.9,260 L559.3,310" fill="none" stroke="#000" stroke-width="1.4" stroke-dasharray="40 1.5"/>
<path d="M561.8,156.9 L585,170 L600,178" fill="none" stroke="#000" stroke-width="1.1" stroke-dasharray="7 3"/>
<path d="M600,178 L612,187 L624,196.4" fill="none" stroke="#000" stroke-width="1.3"/>
<path d="M640,172 L650,176" fill="none" stroke="#000" stroke-width="0.6" stroke-dasharray="2 3"/>
<ellipse cx="612.3" cy="167.8" rx="18" ry="6.8" transform="rotate(2 612.3 167.8)" fill="#fbfbfb" stroke="#000" stroke-width="1.3" stroke-dasharray="9 2"/>
<ellipse cx="612.5" cy="167.5" rx="10" ry="3.6" transform="rotate(2 612.5 167.5)" fill="none" stroke="#000" stroke-width="1.1" stroke-dasharray="6 2"/>
<path d="M594.3,168.5 L594.5,173.5 L603,180 L613,185" fill="none" stroke="#000" stroke-width="1.3"/>
<path d="M630.3,168 L630,173" fill="none" stroke="#000" stroke-width="1.6"/>
<ellipse cx="565.2" cy="177" rx="7.5" ry="14" transform="rotate(-8 565.2 177)" fill="#fbfbfb" stroke="#000" stroke-width="1.3"/>
<ellipse cx="565.2" cy="177" rx="4" ry="8" transform="rotate(-8 565.2 177)" fill="none" stroke="#000" stroke-width="1.1"/>
<line x1="563" y1="181" x2="567.5" y2="173" fill="none" stroke="#000" stroke-width="1.1"/>
<ellipse cx="613.1" cy="200.6" rx="8.5" ry="14" transform="rotate(-12 613.1 200.6)" fill="#fbfbfb" stroke="#000" stroke-width="1.4"/>
<ellipse cx="612.6" cy="200.6" rx="4.5" ry="8" transform="rotate(-12 612.6 200.6)" fill="none" stroke="#000" stroke-width="1.2"/>
<line x1="610.5" y1="204" x2="615" y2="197" fill="none" stroke="#000" stroke-width="1.1"/>
<path d="M614.7,187.9 L615.6,188.5 L616.5,189.3 L617.4,190.2 L618.2,191.2 L618.9,192.3 L619.6,193.5 L620.2,194.8 L620.7,196.2 L621.1,197.6 L621.5,199 L621.7,200.5 L621.9,202 L621.9,203.4 L621.9,204.8 L621.7,206.2 L621.5,207.5 L621.1,208.7 L620.7,209.9 L620.2,210.9 L619.6,211.8 L618.9,212.6 L618.2,213.3 L617.4,213.8" fill="none" stroke="#000" stroke-width="2.2"/>
<ellipse cx="565.2" cy="326.3" rx="7.8" ry="14.5" transform="rotate(-8 565.2 326.3)" fill="#fbfbfb" stroke="#000" stroke-width="1.3"/>
<path d="M573.1,330.2 L573,331.6 L572.8,333 L572.5,334.3 L572.2,335.5 L571.7,336.6 L571.2,337.6 L570.6,338.5 L570,339.2 L569.3,339.8 L568.5,340.3 L567.8,340.5 L566.9,340.7 L566.1,340.7 L565.3,340.5 L564.5,340.2 L563.6,339.7 L562.8,339.1 L562,338.3 L561.3,337.4 L560.6,336.4 L559.9,335.2 L559.3,334 L558.8,332.7 L558.3,331.3 L557.9,329.9 L557.6,328.4 L557.4,326.9 L557.3,325.4 L557.2,323.9 L557.3,322.4" fill="none" stroke="#000" stroke-width="1.2" stroke-dasharray="3 2"/>
<ellipse cx="564.6" cy="326" rx="3.6" ry="7.5" transform="rotate(-8 564.6 326)" fill="none" stroke="#000" stroke-width="1.0" stroke-dasharray="5 2"/>
<ellipse cx="608.9" cy="352.4" rx="8.2" ry="15.5" transform="rotate(-8 608.9 352.4)" fill="#fbfbfb" stroke="#000" stroke-width="1.2" stroke-dasharray="12 2"/>
<path d="M611.7,338 L612.5,338.5 L613.4,339.2 L614.3,340.1 L615.1,341.1 L615.8,342.2 L616.5,343.5 L617.2,344.8 L617.7,346.3 L618.2,347.8 L618.6,349.4 L618.9,351 L619.1,352.7 L619.3,354.3 L619.3,356 L619.2,357.6 L619.1,359.1 L618.8,360.6 L618.5,362 L618,363.2 L617.5,364.4 L616.9,365.4 L616.2,366.3 L615.5,367 L614.7,367.6 L613.9,367.9 L613.1,368.1" fill="none" stroke="#000" stroke-width="0.9" stroke-dasharray="3 2"/>
<path d="M624,196.4 L624.3,260 L624.7,330 L624.9,380" fill="none" stroke="#000" stroke-width="1.8"/>
<path d="M624.9,380 L629,381.5" fill="none" stroke="#000" stroke-width="1.6"/>
<line x1="627.5" y1="205" x2="628" y2="330" fill="none" stroke="#000" stroke-width="0.7" stroke-dasharray="1.5 4"/>
<line x1="632" y1="210" x2="632.5" y2="300" fill="none" stroke="#000" stroke-width="0.6" stroke-dasharray="1.5 6"/>
<line x1="636.5" y1="215" x2="636.5" y2="250" fill="none" stroke="#000" stroke-width="0.6" stroke-dasharray="1.5 7"/>
<path d="M560.2,340.6 L590,357.5 L618,374" fill="none" stroke="#000" stroke-width="0.9" stroke-dasharray="4 3"/>
<path d="M629,381.5 L645,386 L656,388.5 L690,381 L715.3,375" fill="none" stroke="#000" stroke-width="1.0" stroke-dasharray="7 3 2 3"/>
<path d="M813.6,262 L813.6,325.8" fill="none" stroke="#000" stroke-width="1.8"/>
<path d="M813.6,325.8 L800,338 L784.2,351" fill="none" stroke="#000" stroke-width="1.3" stroke-dasharray="12 2"/>
<line x1="797.5" y1="283" x2="797.8" y2="330" fill="none" stroke="#000" stroke-width="0.6" stroke-dasharray="1.5 4"/>
<line x1="802" y1="280" x2="802" y2="290" fill="none" stroke="#000" stroke-width="0.8"/>
<line x1="808" y1="285" x2="808" y2="292" fill="none" stroke="#000" stroke-width="0.8"/>
<line x1="806" y1="300" x2="806.3" y2="330" fill="none" stroke="#000" stroke-width="0.6" stroke-dasharray="1.5 5"/>
<path d="M713,343 L716,339 L722,336.5 L745,331 L766,326 L774,325 L781,327.5 L785.5,333.5 L786,341 L783,348 L778,353.5" fill="none" stroke="#000" stroke-width="1.8" stroke-dasharray="14 1.5 3 1.5"/>
<path d="M778,353.5 L770,358 L745,365.5 L722,372 L715.3,373" fill="none" stroke="#000" stroke-width="1.3" stroke-dasharray="10 2"/>
<path d="M715.3,373 L710,371 L706.5,365 L705.5,357 L707.5,349 L713,343" fill="none" stroke="#000" stroke-width="2.0"/>
<path d="M710.5,352 L709,359 L710.5,366 L714,370.5" fill="none" stroke="#000" stroke-width="1.0"/>
<ellipse cx="748.9" cy="349.3" rx="11.5" ry="14.5" transform="rotate(25 748.9 349.3)" fill="#fbfbfb" stroke="#000" stroke-width="1.6"/>
<ellipse cx="748.9" cy="349.3" rx="8" ry="10.5" transform="rotate(25 748.9 349.3)" fill="#000" stroke="#000" stroke-width="1"/>
<path d="M756.5,345.2 L756.5,346 L756.5,346.7 L756.4,347.5 L756.2,348.2 L756,349 L755.7,349.7 L755.4,350.5 L755,351.2 L754.5,351.8 L754.1,352.5 L753.5,353 L753,353.5 L752.4,354 L751.9,354.4 L751.3,354.7 L750.7,354.9 L750.1,355 L749.5,355.1 L748.9,355.1 L748.4,355 L747.9,354.8 L747.4,354.6 L747,354.2 L746.6,353.8 L746.3,353.4 L746,352.8" fill="none" stroke="#fbfbfb" stroke-width="1.2"/>
<path d="M744.4,354.2 L744.2,354 L744,353.7 L743.8,353.4 L743.7,353 L743.6,352.6 L743.6,352.2 L743.6,351.7 L743.6,351.2 L743.6,350.7 L743.8,350.2 L743.9,349.7 L744.1,349.2 L744.3,348.7 L744.5,348.3 L744.8,347.8 L745.1,347.4 L745.4,347 L745.7,346.6 L746.1,346.3 L746.5,346 L746.8,345.7 L747.2,345.6 L747.6,345.4 L747.9,345.3 L748.3,345.3 L748.6,345.3" fill="none" stroke="#fbfbfb" stroke-width="0.9"/>
<path d="M680,383 L700,377.5 L715.3,373" fill="none" stroke="#000" stroke-width="1.0" stroke-dasharray="7 3"/>
<path d="M766.1,274.4 L765.5,279 L764.4,283.5 L762.8,287.9 L760.8,292.1 L758.3,296 L755.5,299.7 L752.3,303.1 L748.7,306.1 L744.9,308.7 L740.8,310.8 L736.6,312.6 L732.1,313.8 L727.6,314.6 L723,314.9 L718.4,314.7 L713.8,314 L709.4,312.9 L705.1,311.2 L700.9,309.1 L697.1,306.6 L693.5,303.7 L690.2,300.5 L687.3,296.9 L684.7,293 L682.6,288.8 L680.9,284.5 L679.7,280 L679,275.4 L678.7,270.7 L678.9,266 L679.6,261.4 L680.8,256.9 L682.4,252.5 L684.5,248.4 L687,244.5 L689.9,240.8 L693.2,237.5 L696.7,234.6 L700.6,232" fill="none" stroke="#000" stroke-width="1.5"/>
<path d="M707.5,312.2 L703.3,310.4 L699.3,308.2 L695.5,305.5 L692.1,302.4 L688.9,299 L686.2,295.3 L683.8,291.3 L681.9,287.1 L680.4,282.7 L679.4,278.2 L678.8,273.6 L678.7,269 L679.1,264.3 L680,259.8 L681.3,255.3 L683.1,251 L685.4,247 L688,243.2 L691,239.7 L694.3,236.5 L698,233.7" fill="none" stroke="#000" stroke-width="2.4"/>
<path d="M758.9,272 L758.5,275.8 L757.7,279.6 L756.5,283.2 L754.9,286.7 L753,290 L750.7,293.1 L748.2,295.9 L745.3,298.5 L742.2,300.7 L738.9,302.6 L735.4,304.1 L731.8,305.2 L728.1,305.9 L724.3,306.3 L720.5,306.2 L716.8,305.7 L713.1,304.8 L709.5,303.6 L706.1,301.9 L702.8,299.9 L699.8,297.6 L697.1,294.9 L694.6,292 L692.5,288.9 L690.7,285.5 L689.3,281.9 L688.2,278.2 L687.6,274.4 L687.3,270.6 L687.5,266.8 L688,263 L688.9,259.3 L690.3,255.7 L692,252.2 L694,249 L696.4,246 L699,243.3 L702,240.9 L705.2,238.8 L708.5,237" fill="none" stroke="#000" stroke-width="1.4" stroke-dasharray="30 2 10 2"/>
<path d="M692.1,288.2 L690.3,284.5 L688.9,280.7 L687.9,276.7 L687.4,272.6 L687.3,268.5 L687.7,264.4 L688.6,260.4 L689.9,256.5 L691.6,252.8 L693.8,249.3" fill="none" stroke="#000" stroke-width="1.9"/>
<path d="M725.4,254.1 L724.3,258.6 L722.8,262.9 L720.8,267 L718.3,270.9 L715.5,274.4 L712.2,277.7 L708.6,280.5 L704.8,282.9 L700.6,284.9 L696.3,286.4" fill="none" stroke="#000" stroke-width="1.5" stroke-dasharray="16 2"/>
<path d="M728.3,254.6 L727.2,259.4 L725.6,264.1 L723.4,268.5 L720.8,272.6 L717.7,276.4 L714.2,279.9 L710.4,283 L706.2,285.6 L701.8,287.7 L697.1,289.3" fill="none" stroke="#000" stroke-width="1.1" stroke-dasharray="10 2.5"/>
<path d="M731.3,255.2 L730.1,260.3 L728.3,265.2 L726,269.9 L723.2,274.4 L719.9,278.4 L716.2,282.1 L712.1,285.4 L707.6,288.2 L702.9,290.5 L698,292.2" fill="none" stroke="#000" stroke-width="1.4" stroke-dasharray="18 2"/>
<path d="M725.4,254.3 L731,257.5 L733.5,260" fill="none" stroke="#000" stroke-width="2.2"/>
<path d="M689.5,286.5 L694,283.5 L696,287 L700.5,281.5 L703,286 L706,284 L705,289 L697,290.5 L690.5,291" fill="none" stroke="#000" stroke-width="1.4"/>
<ellipse cx="720.2" cy="298.2" rx="6.8" ry="3.6" transform="rotate(-18 720.2 298.2)" fill="none" stroke="#000" stroke-width="1.3"/>
<path d="M757.8,271 L766,272.5" fill="none" stroke="#000" stroke-width="1.6"/>
<path d="M684.5,112 L686.5,107.5 L691,106 L696,108 L698.5,113 L700,150 L700.5,200 L699,209 L695,213.5 L690,212.5 L686.5,207 L685.5,160 Z" fill="#fbfbfb" stroke="#000" stroke-width="1.5"/>
<path d="M683,125 L680.5,150 L682,190 L685,204" fill="none" stroke="#000" stroke-width="1.0" stroke-dasharray="12 3"/>
<ellipse cx="691.6" cy="127.8" rx="4.6" ry="8" transform="rotate(-8 691.6 127.8)" fill="#000" stroke="#000" stroke-width="1.2"/>
<ellipse cx="692.4" cy="127.5" rx="1.8" ry="3.6" transform="rotate(-8 692.4 127.5)" fill="#fbfbfb" stroke="none" stroke-width="0"/>
<ellipse cx="691.6" cy="127.8" rx="6.5" ry="10.5" transform="rotate(-8 691.6 127.8)" fill="none" stroke="#000" stroke-width="1.0"/>
<ellipse cx="691.8" cy="160.5" rx="4.8" ry="9.5" transform="rotate(-6 691.8 160.5)" fill="none" stroke="#000" stroke-width="1.4"/>
<path d="M691.3,168.5 L691,168.4 L690.6,168.4 L690.3,168.2 L689.9,167.9 L689.5,167.6 L689.2,167.1 L688.9,166.7 L688.5,166.1 L688.3,165.5 L688,164.8 L687.8,164.1 L687.5,163.3 L687.4,162.5 L687.2,161.7 L687.1,160.9 L687,160 L687,159.2 L687,158.4 L687.1,157.6 L687.2,156.8 L687.3,156.1 L687.4,155.4 L687.6,154.8 L687.8,154.3 L688.1,153.8 L688.4,153.4 L688.7,153 L689,152.8 L689.3,152.6 L689.7,152.5" fill="none" stroke="#000" stroke-width="0.9"/>
<ellipse cx="691.2" cy="201" rx="3.6" ry="6.2" transform="rotate(-6 691.2 201)" fill="none" stroke="#000" stroke-width="1.3"/>
<path d="M684.5,196 L687,205 L690,209" fill="none" stroke="#000" stroke-width="2.4"/>
<path d="M656,188 L670,196.5 L682.9,204" fill="none" stroke="#000" stroke-width="1.3"/>
<path d="M686,108 L700,103 L712,100" fill="none" stroke="#000" stroke-width="1.4"/>
<path d="M693,106.5 L704,104 L709,106" fill="none" stroke="#000" stroke-width="2.6"/>
<path d="M872.3,204.7 L866.4,214.8 L859.8,224.4 L852.5,233.3 L844.5,241.4 L836,248.7 L827,255.1 L817.7,260.5 L808.1,264.8 L798.4,268.1 L788.6,270.1 L778.9,271.1 L769.4,270.8 L760.2,269.4 L751.3,266.8 L742.9,263.1 L735.1,258.3 L727.9,252.5 L721.5,245.7 L715.9,238 L711.1,229.5 L707.3,220.3 L704.4,210.5 L702.5,200.2 L701.6,189.5 L701.7,178.5 L702.9,167.3 L705,156.1 L708.2,145 L712.2,134.1 L717.2,123.5 L723.1,113.4 L729.7,103.8 L737,94.9 L745,86.8 L753.5,79.5 L762.5,73.1 L771.8,67.7 L781.4,63.4 L791.1,60.1 L800.9,58.1 L810.6,57.1 L820.1,57.4 L829.3,58.8 L838.2,61.4 L846.6,65.1 L854.4,69.9 L861.6,75.7 L868,82.5 L873.6,90.2 L878.4,98.7 L882.2,107.9 L885.1,117.7 L887,128 L887.9,138.7 L887.8,149.7 L886.6,160.9 L884.5,172.1 L881.3,183.2 L877.3,194.1 L872.3,204.7 Z" fill="#fbfbfb" stroke="none" stroke-width="0"/>
<path d="M839.6,61.9 L848.1,65.9 L855.9,71 L863,77.1 L869.4,84.2 L874.9,92.2 L879.5,101 L883.1,110.5 L885.8,120.6 L887.4,131.3 L888,142.3 L887.5,153.5 L886,164.9 L883.4,176.2 L879.9,187.4 L875.4,198.4 L869.9,209 L863.6,219 L856.6,228.5 L848.8,237.2 L840.5,245.1 L831.6,252 L822.3,258 L812.7,262.9 L802.8,266.7 L792.9,269.4 L783,270.8 L773.3,271 L763.8,270.1 L754.6,267.9 L745.9,264.6 L737.8,260.1 L730.2,254.6" fill="none" stroke="#000" stroke-width="1.3" stroke-dasharray="22 2 6 2"/>
<path d="M730.2,254.6 L723.4,247.9 L717.4,240.3 L712.2,231.8 L708.1,222.5 L704.9,212.6 L702.7,202.1 L701.6,191.1 L701.6,179.9 L702.7,168.4 L704.8,157 L708,145.6 L712.1,134.4 L717.2,123.5" fill="none" stroke="#000" stroke-width="1.5" stroke-dasharray="18 2"/>
<path d="M717.2,123.5 L723.2,113.3 L729.9,103.6 L737.3,94.6 L745.4,86.4 L754.1,79 L763.2,72.7 L772.6,67.3 L782.3,63 L792.2,59.9 L802,57.9 L811.8,57.1 L821.4,57.5 L830.7,59.1 L839.6,61.9" fill="none" stroke="#000" stroke-width="1.3" stroke-dasharray="14 2.5"/>
<path d="M731.9,260.7 L724.6,255 L718,248.4 L712.2,240.9 L707.3,232.5 L703.3,223.4 L700.3,213.7 L698.2,203.4 L697.1,192.8 L697.1,181.8 L698.1,170.7 L700.1,159.5 L703.1,148.3 L707,137.4 L711.8,126.7 L717.5,116.5 L724,106.9 L731.3,97.8 L739.2,89.6 L747.6,82.1 L756.5,75.6" fill="none" stroke="#000" stroke-width="1.6" stroke-dasharray="20 2"/>
<clipPath id="cfl"><ellipse cx="794.4" cy="168.8" rx="66.7" ry="86.6" transform="rotate(32.9 794.4 168.8)"/></clipPath>
<g clip-path="url(#cfl)"><path d="M850.8,107 L854.8,113 L858.2,119.5 L860.8,126.6 L862.7,134.2 L863.7,142.1 L864,150.3 L863.5,158.7 L862.1,167.1 L860,175.6 L857.1,184.1 L853.5,192.3 L849.3,200.3 L844.3,207.9 L838.8,215 L832.8,221.7 L826.3,227.8 L819.4,233.2 L812.2,237.9 L804.8,241.8 L797.2,244.9 L789.5,247.2 L781.9,248.6 L774.4,249.1 L767,248.8 L759.9,247.5 L753.2,245.4 L746.8,242.4 L740.9,238.6 L735.6,234 L730.9,228.7" fill="none" stroke="#000" stroke-width="1.0" stroke-dasharray="16 3"/><path d="M847.3,106.1 L851.3,112.1 L854.7,118.7 L857.3,125.7 L859.2,133.3 L860.2,141.2 L860.5,149.4 L860,157.8 L858.6,166.3 L856.5,174.8 L853.6,183.2 L850,191.4 L845.8,199.4 L840.8,207 L835.3,214.2 L829.3,220.8 L822.8,226.9 L815.9,232.3 L808.7,237 L801.3,240.9 L793.7,244 L786,246.3 L778.4,247.7 L770.9,248.2 L763.5,247.9 L756.4,246.6 L749.7,244.5 L743.3,241.5 L737.4,237.7 L732.1,233.2 L727.4,227.9" fill="none" stroke="#000" stroke-width="1.4" stroke-dasharray="22 3"/><path d="M843.8,105.3 L847.8,111.2 L851.2,117.8 L853.8,124.9 L855.7,132.4 L856.7,140.3 L857,148.5 L856.5,156.9 L855.1,165.4 L853,173.9 L850.1,182.3 L846.5,190.5 L842.3,198.5 L837.3,206.1 L831.8,213.3 L825.8,219.9 L819.3,226 L812.4,231.4 L805.2,236.1 L797.8,240.1 L790.2,243.2 L782.5,245.4 L774.9,246.9 L767.4,247.4 L760,247 L752.9,245.7 L746.2,243.6 L739.8,240.6 L733.9,236.9 L728.6,232.3 L723.9,227" fill="none" stroke="#000" stroke-width="1.0" stroke-dasharray="12 3"/><path d="M839.8,104.3 L843.8,110.2 L847.2,116.8 L849.8,123.9 L851.7,131.4 L852.7,139.3 L853,147.5 L852.5,155.9 L851.1,164.4 L849,172.9 L846.1,181.3 L842.5,189.5 L838.3,197.5 L833.3,205.1 L827.8,212.3 L821.8,218.9 L815.3,225 L808.4,230.4 L801.2,235.1 L793.8,239.1 L786.2,242.2 L778.5,244.4 L770.9,245.9 L763.4,246.4 L756,246 L748.9,244.7 L742.2,242.6 L735.8,239.6 L729.9,235.9 L724.6,231.3 L719.9,226" fill="none" stroke="#000" stroke-width="1.6" stroke-dasharray="26 3"/><path d="M835.8,103.3 L839.8,109.2 L843.2,115.8 L845.8,122.9 L847.7,130.4 L848.7,138.3 L849,146.5 L848.5,154.9 L847.1,163.4 L845,171.9 L842.1,180.3 L838.5,188.5 L834.3,196.5 L829.3,204.1 L823.8,211.3 L817.8,217.9 L811.3,224 L804.4,229.4 L797.2,234.1 L789.8,238.1 L782.2,241.2 L774.5,243.4 L766.9,244.9 L759.4,245.4 L752,245 L744.9,243.7 L738.2,241.6 L731.8,238.6 L725.9,234.9 L720.6,230.3 L715.9,225" fill="none" stroke="#000" stroke-width="1.0" stroke-dasharray="14 4"/><path d="M832.3,102.4 L836.3,108.3 L839.7,114.9 L842.3,122 L844.2,129.5 L845.2,137.4 L845.5,145.6 L845,154 L843.6,162.5 L841.5,171 L838.6,179.4 L835,187.7 L830.8,195.6 L825.8,203.2 L820.3,210.4 L814.3,217.1 L807.8,223.1 L800.9,228.6 L793.7,233.2 L786.3,237.2 L778.7,240.3 L771,242.6 L763.4,244 L755.9,244.5 L748.5,244.1 L741.4,242.9 L734.7,240.7 L728.3,237.8 L722.4,234 L717.1,229.4 L712.4,224.1" fill="none" stroke="#000" stroke-width="1.4" stroke-dasharray="30 3"/><path d="M804.2,88 L805.4,90.8 L806.6,93.6 L807.8,96.4 L808.8,99.3 L809.8,102.2 L810.5,105.1 L810.9,108.2 L811.2,111.2 L811.4,114.2 L811.5,117.3 L811.5,120.3 L811.3,123.4 L811.1,126.4 L810.8,129.5 L810.5,132.5 L810.3,135.5 L810,138.6 L809.7,141.6 L809.1,144.6 L808.3,147.5 L807.5,150.5 L806.6,153.4 L805.6,156.3 L804.6,159.1 L803.5,162 L802.3,164.8 L801,167.6 L799.6,170.3 L798.1,172.9 L796.5,175.5 L794.9,178.1 L793.2,180.6 L791.3,183.1 L789.4,185.4 L787.4,187.7 L785.3,190 L783.2,192.1 L781,194.2 L778.7,196.2 L776.3,198.1 L773.7,199.8 L771.2,201.5 L768.8,203.4 L766.3,205 L763.5,206.4 L760.7,207.5 L757.8,208.5 L754.9,209.5 L752,210.4 L749.1,211.2 L746.1,211.9 L743.1,212.6 L740.1,213.2 L737.1,213.7 L734.1,214.1 L731.1,214.5 L728,214.7 L725,214.5 L722,214 L750,241 L753.4,240.6 L756.8,240.2 L760.2,239.8 L763.6,239.3 L766.9,238.7 L770.2,237.9 L773.5,236.9 L776.7,235.8 L779.9,234.6 L783.1,233.3 L786.2,231.9 L789.3,230.4 L792.2,228.7 L795.1,226.9 L797.9,224.9 L800.6,222.8 L803.2,220.6 L805.7,218.3 L808.1,215.8 L810.1,213.1 L812.2,210.4 L814.3,207.7 L816.3,204.9 L818.2,202 L820.1,199.2 L822,196.4 L823.8,193.5 L825.6,190.6 L827.4,187.7 L829.1,184.7 L830.7,181.7 L832.3,178.7 L833.8,175.6 L835.3,172.5 L836.7,169.4 L837.9,166.2 L839,163 L839.9,159.7 L840.7,156.4 L841.4,153 L842,149.7 L842.5,146.3 L842.9,142.9 L843.1,139.5 L843.3,136.1 L843.4,132.7 L843.2,129.3 L842.7,125.9 L842.1,122.5 L841.3,119.2 L840.5,115.9 L839.5,112.6 L838.5,109.3 L837.3,106.2 L835.8,103 L834.3,100 L832.7,97 L831,94 L829.4,91 Z" fill="#fbfbfb" stroke="none" stroke-width="0"/><line x1="802.9" y1="87.3" x2="835.5" y2="105.6" fill="none" stroke="#000" stroke-width="4.2"/><line x1="806.5" y1="89" x2="825.8" y2="99.8" fill="none" stroke="#fbfbfb" stroke-width="1.2" stroke-dasharray="6 3 3 3"/><line x1="801.6" y1="87" x2="805.9" y2="89.5" fill="none" stroke="#000" stroke-width="2.0"/><line x1="805.6" y1="93.6" x2="838.2" y2="112" fill="none" stroke="#000" stroke-width="4.2"/><line x1="809.2" y1="95.3" x2="828.5" y2="106.2" fill="none" stroke="#fbfbfb" stroke-width="1.2" stroke-dasharray="6 3 3 3"/><line x1="804.3" y1="93.4" x2="808.7" y2="95.8" fill="none" stroke="#000" stroke-width="2.0"/><line x1="808.1" y1="100.1" x2="840.7" y2="118.5" fill="none" stroke="#000" stroke-width="4.2"/><line x1="811.7" y1="101.8" x2="831" y2="112.7" fill="none" stroke="#fbfbfb" stroke-width="1.2" stroke-dasharray="6 3 3 3"/><line x1="806.8" y1="99.9" x2="811.1" y2="102.3" fill="none" stroke="#000" stroke-width="2.0"/><line x1="809.5" y1="106.8" x2="842.2" y2="125.2" fill="none" stroke="#000" stroke-width="4.2"/><line x1="813.2" y1="108.5" x2="832.5" y2="119.4" fill="none" stroke="#fbfbfb" stroke-width="1.2" stroke-dasharray="6 3 3 3"/><line x1="808.2" y1="106.6" x2="812.6" y2="109.1" fill="none" stroke="#000" stroke-width="2.0"/><line x1="810.1" y1="113.7" x2="842.7" y2="132.1" fill="none" stroke="#000" stroke-width="4.2"/><line x1="813.7" y1="115.4" x2="833" y2="126.3" fill="none" stroke="#fbfbfb" stroke-width="1.2" stroke-dasharray="6 3 3 3"/><line x1="808.8" y1="113.5" x2="813.1" y2="116" fill="none" stroke="#000" stroke-width="2.0"/><line x1="810.1" y1="120.7" x2="842.8" y2="139" fill="none" stroke="#000" stroke-width="4.2"/><line x1="813.8" y1="122.4" x2="833.1" y2="133.2" fill="none" stroke="#fbfbfb" stroke-width="1.2" stroke-dasharray="6 3 3 3"/><line x1="808.8" y1="120.4" x2="813.2" y2="122.9" fill="none" stroke="#000" stroke-width="2.0"/><line x1="809.6" y1="127.6" x2="842.3" y2="145.9" fill="none" stroke="#000" stroke-width="4.2"/><line x1="813.3" y1="129.3" x2="832.6" y2="140.1" fill="none" stroke="#fbfbfb" stroke-width="1.2" stroke-dasharray="6 3 3 3"/><line x1="808.3" y1="127.3" x2="812.7" y2="129.8" fill="none" stroke="#000" stroke-width="2.0"/><line x1="809" y1="134.4" x2="841.5" y2="152.7" fill="none" stroke="#000" stroke-width="4.2"/><line x1="812.6" y1="136.1" x2="831.8" y2="147" fill="none" stroke="#fbfbfb" stroke-width="1.2" stroke-dasharray="6 3 3 3"/><line x1="807.7" y1="134.2" x2="812.1" y2="136.7" fill="none" stroke="#000" stroke-width="2.0"/><line x1="808.3" y1="141.3" x2="840.1" y2="159.2" fill="none" stroke="#000" stroke-width="4.2"/><line x1="811.9" y1="143" x2="830.6" y2="153.6" fill="none" stroke="#fbfbfb" stroke-width="1.2" stroke-dasharray="6 3 3 3"/><line x1="807" y1="141.1" x2="811.3" y2="143.5" fill="none" stroke="#000" stroke-width="2.0"/><line x1="806.7" y1="148.1" x2="838.1" y2="165.7" fill="none" stroke="#000" stroke-width="4.2"/><line x1="810.3" y1="149.8" x2="828.7" y2="160.1" fill="none" stroke="#fbfbfb" stroke-width="1.2" stroke-dasharray="6 3 3 3"/><line x1="805.4" y1="147.8" x2="809.7" y2="150.3" fill="none" stroke="#000" stroke-width="2.0"/><line x1="804.6" y1="154.7" x2="835.5" y2="172" fill="none" stroke="#000" stroke-width="4.2"/><line x1="808.2" y1="156.4" x2="826.3" y2="166.5" fill="none" stroke="#fbfbfb" stroke-width="1.2" stroke-dasharray="6 3 3 3"/><line x1="803.3" y1="154.4" x2="807.7" y2="156.9" fill="none" stroke="#000" stroke-width="2.0"/><line x1="802.2" y1="161.1" x2="832.5" y2="178.2" fill="none" stroke="#000" stroke-width="4.2"/><line x1="805.8" y1="162.8" x2="823.5" y2="172.8" fill="none" stroke="#fbfbfb" stroke-width="1.2" stroke-dasharray="6 3 3 3"/><line x1="800.9" y1="160.9" x2="805.2" y2="163.3" fill="none" stroke="#000" stroke-width="2.0"/><line x1="799.4" y1="167.4" x2="829.2" y2="184.3" fill="none" stroke="#000" stroke-width="4.2"/><line x1="803" y1="169.2" x2="820.4" y2="178.9" fill="none" stroke="#fbfbfb" stroke-width="1.2" stroke-dasharray="6 3 3 3"/><line x1="798.1" y1="167.2" x2="802.4" y2="169.7" fill="none" stroke="#000" stroke-width="2.0"/><line x1="796" y1="173.5" x2="825.8" y2="190.3" fill="none" stroke="#000" stroke-width="4.2"/><line x1="799.6" y1="175.2" x2="816.9" y2="185" fill="none" stroke="#fbfbfb" stroke-width="1.2" stroke-dasharray="6 3 3 3"/><line x1="794.7" y1="173.3" x2="799.1" y2="175.7" fill="none" stroke="#000" stroke-width="2.0"/><line x1="792.3" y1="179.3" x2="822.1" y2="196.1" fill="none" stroke="#000" stroke-width="4.2"/><line x1="795.9" y1="181" x2="813.2" y2="190.8" fill="none" stroke="#fbfbfb" stroke-width="1.2" stroke-dasharray="6 3 3 3"/><line x1="791" y1="179.1" x2="795.3" y2="181.5" fill="none" stroke="#000" stroke-width="2.0"/><line x1="788" y1="184.8" x2="818.3" y2="201.8" fill="none" stroke="#000" stroke-width="4.2"/><line x1="791.7" y1="186.5" x2="809.3" y2="196.4" fill="none" stroke="#fbfbfb" stroke-width="1.2" stroke-dasharray="6 3 3 3"/><line x1="786.7" y1="184.6" x2="791.1" y2="187" fill="none" stroke="#000" stroke-width="2.0"/><line x1="783.4" y1="189.9" x2="814.4" y2="207.4" fill="none" stroke="#000" stroke-width="4.2"/><line x1="787" y1="191.6" x2="805.2" y2="201.9" fill="none" stroke="#fbfbfb" stroke-width="1.2" stroke-dasharray="6 3 3 3"/><line x1="782.1" y1="189.7" x2="786.4" y2="192.1" fill="none" stroke="#000" stroke-width="2.0"/><line x1="778.4" y1="194.7" x2="810.4" y2="212.7" fill="none" stroke="#000" stroke-width="4.2"/><line x1="782" y1="196.4" x2="800.9" y2="207" fill="none" stroke="#fbfbfb" stroke-width="1.2" stroke-dasharray="6 3 3 3"/><line x1="777.1" y1="194.4" x2="781.4" y2="196.9" fill="none" stroke="#000" stroke-width="2.0"/><line x1="772.8" y1="198.8" x2="805.5" y2="217.2" fill="none" stroke="#000" stroke-width="4.2"/><line x1="776.4" y1="200.5" x2="795.8" y2="211.4" fill="none" stroke="#fbfbfb" stroke-width="1.2" stroke-dasharray="6 3 3 3"/><line x1="771.5" y1="198.6" x2="775.9" y2="201" fill="none" stroke="#000" stroke-width="2.0"/><line x1="767.2" y1="202.9" x2="799.8" y2="221.2" fill="none" stroke="#000" stroke-width="4.2"/><line x1="770.8" y1="204.6" x2="790.1" y2="215.4" fill="none" stroke="#fbfbfb" stroke-width="1.2" stroke-dasharray="6 3 3 3"/><line x1="765.9" y1="202.6" x2="770.3" y2="205.1" fill="none" stroke="#000" stroke-width="2.0"/><line x1="761.1" y1="206.1" x2="793.7" y2="224.5" fill="none" stroke="#000" stroke-width="4.2"/><line x1="764.7" y1="207.8" x2="784.1" y2="218.7" fill="none" stroke="#fbfbfb" stroke-width="1.2" stroke-dasharray="6 3 3 3"/><line x1="759.8" y1="205.8" x2="764.2" y2="208.3" fill="none" stroke="#000" stroke-width="2.0"/><line x1="754.6" y1="208.5" x2="787.2" y2="226.8" fill="none" stroke="#000" stroke-width="4.2"/><line x1="758.2" y1="210.2" x2="777.6" y2="221" fill="none" stroke="#fbfbfb" stroke-width="1.2" stroke-dasharray="6 3 3 3"/><line x1="753.3" y1="208.2" x2="757.7" y2="210.7" fill="none" stroke="#000" stroke-width="2.0"/><line x1="748" y1="210.4" x2="780.6" y2="228.8" fill="none" stroke="#000" stroke-width="4.2"/><line x1="751.6" y1="212.1" x2="770.9" y2="223" fill="none" stroke="#fbfbfb" stroke-width="1.2" stroke-dasharray="6 3 3 3"/><line x1="746.7" y1="210.2" x2="751" y2="212.6" fill="none" stroke="#000" stroke-width="2.0"/><line x1="741.2" y1="212" x2="773.9" y2="230.3" fill="none" stroke="#000" stroke-width="4.2"/><line x1="744.9" y1="213.7" x2="764.2" y2="224.6" fill="none" stroke="#fbfbfb" stroke-width="1.2" stroke-dasharray="6 3 3 3"/><line x1="739.9" y1="211.7" x2="744.3" y2="214.2" fill="none" stroke="#000" stroke-width="2.0"/><line x1="734.4" y1="213.2" x2="767.1" y2="231.5" fill="none" stroke="#000" stroke-width="4.2"/><line x1="738" y1="214.9" x2="757.4" y2="225.7" fill="none" stroke="#fbfbfb" stroke-width="1.2" stroke-dasharray="6 3 3 3"/><line x1="733.1" y1="212.9" x2="737.5" y2="215.4" fill="none" stroke="#000" stroke-width="2.0"/><line x1="727.6" y1="214" x2="760.2" y2="232.3" fill="none" stroke="#000" stroke-width="4.2"/><line x1="731.2" y1="215.7" x2="750.5" y2="226.5" fill="none" stroke="#fbfbfb" stroke-width="1.2" stroke-dasharray="6 3 3 3"/><line x1="726.3" y1="213.7" x2="730.6" y2="216.2" fill="none" stroke="#000" stroke-width="2.0"/><line x1="720.7" y1="213.3" x2="753.3" y2="231.6" fill="none" stroke="#000" stroke-width="4.2"/><line x1="724.3" y1="215" x2="743.6" y2="225.8" fill="none" stroke="#fbfbfb" stroke-width="1.2" stroke-dasharray="6 3 3 3"/><line x1="719.4" y1="213" x2="723.7" y2="215.5" fill="none" stroke="#000" stroke-width="2.0"/><path d="M829.4,91 C830.8,93.8 835.8,102 838,108 C840.2,114 842.1,121.7 842.9,127.2 C843.7,132.7 843.3,136.5 843,141 C842.7,145.5 842,149.9 841.2,154.1 C840.4,158.3 839.4,162.1 838,166 C836.6,169.9 834.8,173.6 832.8,177.6 C830.8,181.6 828.5,185.8 826,190 C823.5,194.2 820.1,199.2 817.6,202.9 C815.1,206.6 813.2,209.2 811,212 C808.8,214.8 807.7,216.7 804.2,219.7 C800.7,222.7 795.7,226.9 790,230 C784.3,233.1 776.7,236.2 770,238 C763.3,239.8 753.3,240.5 750,241" fill="none" stroke="#000" stroke-width="1.2"/><path d="M723.8,173.7 L725.5,165.2 L728,156.8 L731.3,148.4 L735.2,140.3 L739.8,132.5 L745.1,125.1 L750.8,118.2 L757.1,111.8 L763.8,106.1 L770.9,101 L778.2,96.7 L785.7,93.2 L793.3,90.5 L801,88.6 L808.6,87.7" fill="none" stroke="#000" stroke-width="1.5" stroke-dasharray="20 2"/><path d="M728.8,175.7 L730.6,166.8 L733.3,158 L736.8,149.3 L741,140.8 L746,132.7 L751.7,125.1 L757.9,118 L764.6,111.5 L771.8,105.8 L779.3,100.9 L787.1,96.7 L795,93.5 L803.1,91.2 L811.1,89.9" fill="none" stroke="#000" stroke-width="1.2" stroke-dasharray="14 3"/><path d="M733.8,177.2 L735.6,168.5 L738.2,159.9 L741.5,151.3 L745.6,143.1 L750.4,135.1 L755.8,127.6 L761.8,120.6 L768.4,114.2 L775.3,108.4 L782.6,103.4 L790.1,99.2 L797.9,95.8 L805.7,93.3 L813.5,91.7" fill="none" stroke="#000" stroke-width="2.2" stroke-dasharray="6 2 12 2"/><path d="M738.3,178.7 L740,170.2 L742.5,161.8 L745.8,153.4 L749.7,145.3 L754.3,137.5 L759.6,130.1 L765.3,123.2 L771.6,116.8 L778.3,111.1 L785.4,106 L792.7,101.7 L800.2,98.2 L807.8,95.5 L815.5,93.6" fill="none" stroke="#000" stroke-width="1.2" stroke-dasharray="18 3"/><path d="M742.8,180.2 L744.6,171.3 L747.3,162.4 L750.8,153.7 L755.1,145.2 L760.1,137.1 L765.8,129.4 L772,122.3 L778.8,115.9 L786,110.1 L793.6,105.2 L801.4,101.1 L809.4,97.9 L817.4,95.6" fill="none" stroke="#000" stroke-width="1.5" stroke-dasharray="24 3"/><path d="M724,183 L740,190.5 L737,196 L725.5,198 Z" fill="#fbfbfb" stroke="#000" stroke-width="1.2"/><ellipse cx="738" cy="191.5" rx="2" ry="2.6" transform="rotate(0 738 191.5)" fill="none" stroke="#000" stroke-width="1.0"/><line x1="775" y1="97" x2="797" y2="106.5" fill="none" stroke="#000" stroke-width="0.6" stroke-dasharray="5 3 1.5 3"/><line x1="780" y1="110" x2="802" y2="119.5" fill="none" stroke="#000" stroke-width="0.6" stroke-dasharray="5 3 1.5 3"/><line x1="778" y1="127" x2="800" y2="136.5" fill="none" stroke="#000" stroke-width="0.6" stroke-dasharray="5 3 1.5 3"/><line x1="745" y1="175" x2="767" y2="184.5" fill="none" stroke="#000" stroke-width="0.6" stroke-dasharray="5 3 1.5 3"/><line x1="757" y1="185" x2="779" y2="194.5" fill="none" stroke="#000" stroke-width="0.6" stroke-dasharray="5 3 1.5 3"/></g>
<path d="M850.4,205 L845.1,212.4 L839.4,219.3 L833.1,225.7 L826.4,231.4 L819.3,236.5 L812,240.8 L804.5,244.3 L796.9,247 L789.2,248.9 L781.6,249.8 L774.2,249.9 L766.9,249.1 L760,247.4 L753.4,244.9 L747.3,241.5 L741.7,237.3 L736.7,232.3 L732.3,226.7 L728.6,220.4 L725.6,213.6 L723.4,206.3 L721.9,198.5 L721.2,190.5 L721.4,182.2 L722.3,173.7 L724,165.2 L726.5,156.8 L729.8,148.4 L733.7,140.3 L738.3,132.5 L743.6,125.1 L749.3,118.2 L755.6,111.8 L762.3,106.1 L769.4,101 L776.7,96.7 L784.2,93.2 L791.8,90.5 L799.5,88.6 L807.1,87.7 L814.5,87.6 L821.8,88.4 L828.7,90.1 L835.3,92.6 L841.4,96 L847,100.2 L852,105.2 L856.4,110.8 L860.1,117.1 L863.1,123.9 L865.3,131.2 L866.8,139 L867.5,147 L867.3,155.3 L866.4,163.8 L864.7,172.3 L862.2,180.7 L858.9,189.1 L855,197.2 L850.4,205" fill="none" stroke="#000" stroke-width="1.3" stroke-dasharray="24 2 8 2"/>
<path d="M794.3,247.8 L786.5,249.3 L778.7,250 L771.2,249.7 L763.9,248.5 L756.9,246.3 L750.4,243.3 L744.4,239.4 L738.9,234.7 L734.1,229.3 L730,223.1 L726.7,216.3 L724.1,209 L722.3,201.2" fill="none" stroke="#000" stroke-width="2.4"/>
<path d="M825.3,89.1 L832.5,91.4 L839.3,94.7 L845.4,98.9 L851,104 L855.8,109.9 L859.9,116.6 L863.1,123.9" fill="none" stroke="#000" stroke-width="2.0"/>
<ellipse cx="748.7" cy="101.2" rx="3.3" ry="3.6" transform="rotate(0 748.7 101.2)" fill="#fbfbfb" stroke="#000" stroke-width="1.1"/>
<ellipse cx="748.7" cy="101.2" rx="1.8" ry="2" transform="rotate(0 748.7 101.2)" fill="none" stroke="#000" stroke-width="0.9"/>
<line x1="747.7" y1="102.1" x2="749.7" y2="100.3" fill="none" stroke="#000" stroke-width="1.0"/>
<ellipse cx="794.1" cy="76" rx="3.1" ry="3.4" transform="rotate(0 794.1 76)" fill="#000" stroke="#000" stroke-width="1.1"/>
<ellipse cx="794.5" cy="75.7" rx="1.1" ry="1.2" transform="rotate(0 794.5 75.7)" fill="#fbfbfb" stroke="none" stroke-width="0"/>
<ellipse cx="812.6" cy="76" rx="6.1" ry="6.6" transform="rotate(0 812.6 76)" fill="#fbfbfb" stroke="#000" stroke-width="1.1"/>
<ellipse cx="812.6" cy="76" rx="3.3" ry="3.6" transform="rotate(0 812.6 76)" fill="none" stroke="#000" stroke-width="0.9"/>
<line x1="810.8" y1="77.7" x2="814.4" y2="74.3" fill="none" stroke="#000" stroke-width="1.0"/>
<ellipse cx="840.3" cy="77.6" rx="3.3" ry="3.6" transform="rotate(0 840.3 77.6)" fill="#fbfbfb" stroke="#000" stroke-width="1.1"/>
<ellipse cx="840.3" cy="77.6" rx="1.8" ry="2" transform="rotate(0 840.3 77.6)" fill="none" stroke="#000" stroke-width="0.9"/>
<line x1="839.3" y1="78.5" x2="841.3" y2="76.7" fill="none" stroke="#000" stroke-width="1.0"/>
<ellipse cx="868" cy="101.2" rx="3.3" ry="3.6" transform="rotate(0 868 101.2)" fill="#fbfbfb" stroke="#000" stroke-width="1.1"/>
<ellipse cx="868" cy="101.2" rx="1.8" ry="2" transform="rotate(0 868 101.2)" fill="none" stroke="#000" stroke-width="0.9"/>
<line x1="867" y1="102.1" x2="869" y2="100.3" fill="none" stroke="#000" stroke-width="1.0"/>
<ellipse cx="880.7" cy="140.7" rx="3.3" ry="3.6" transform="rotate(0 880.7 140.7)" fill="#fbfbfb" stroke="#000" stroke-width="1.1"/>
<ellipse cx="880.7" cy="140.7" rx="1.8" ry="2" transform="rotate(0 880.7 140.7)" fill="none" stroke="#000" stroke-width="0.9"/>
<line x1="879.7" y1="141.6" x2="881.7" y2="139.8" fill="none" stroke="#000" stroke-width="1.0"/>
<ellipse cx="870.6" cy="192.8" rx="3.3" ry="3.6" transform="rotate(0 870.6 192.8)" fill="#fbfbfb" stroke="#000" stroke-width="1.1"/>
<ellipse cx="870.6" cy="192.8" rx="1.8" ry="2" transform="rotate(0 870.6 192.8)" fill="none" stroke="#000" stroke-width="0.9"/>
<line x1="869.6" y1="193.7" x2="871.6" y2="191.9" fill="none" stroke="#000" stroke-width="1.0"/>
<ellipse cx="842" cy="233" rx="3.1" ry="3.4" transform="rotate(0 842 233)" fill="#fbfbfb" stroke="#000" stroke-width="1.1"/>
<ellipse cx="842" cy="233" rx="1.7" ry="1.9" transform="rotate(0 842 233)" fill="none" stroke="#000" stroke-width="0.9"/>
<line x1="841.1" y1="233.8" x2="842.9" y2="232.2" fill="none" stroke="#000" stroke-width="1.0"/>
<ellipse cx="750" cy="256.6" rx="2.9" ry="3.2" transform="rotate(0 750 256.6)" fill="#fbfbfb" stroke="#000" stroke-width="1.1"/>
<ellipse cx="750" cy="256.6" rx="1.6" ry="1.8" transform="rotate(0 750 256.6)" fill="none" stroke="#000" stroke-width="0.9"/>
<line x1="749.1" y1="257.4" x2="750.9" y2="255.8" fill="none" stroke="#000" stroke-width="1.0"/>
<ellipse cx="721.2" cy="231.7" rx="3.1" ry="3.4" transform="rotate(0 721.2 231.7)" fill="#fbfbfb" stroke="#000" stroke-width="1.1"/>
<ellipse cx="721.2" cy="231.7" rx="1.7" ry="1.9" transform="rotate(0 721.2 231.7)" fill="none" stroke="#000" stroke-width="0.9"/>
<line x1="720.3" y1="232.5" x2="722.1" y2="230.8" fill="none" stroke="#000" stroke-width="1.0"/>
<ellipse cx="713.4" cy="204.5" rx="3.9" ry="4.2" transform="rotate(0 713.4 204.5)" fill="#000" stroke="#000" stroke-width="1.1"/>
<ellipse cx="713.8" cy="204.2" rx="1.4" ry="1.5" transform="rotate(0 713.8 204.2)" fill="#fbfbfb" stroke="none" stroke-width="0"/>
<ellipse cx="715.1" cy="164.2" rx="4.2" ry="4.6" transform="rotate(0 715.1 164.2)" fill="#fbfbfb" stroke="#000" stroke-width="1.1"/>
<ellipse cx="715.1" cy="164.2" rx="2.3" ry="2.5" transform="rotate(0 715.1 164.2)" fill="none" stroke="#000" stroke-width="0.9"/>
<line x1="713.8" y1="165.3" x2="716.4" y2="163" fill="none" stroke="#000" stroke-width="1.0"/>
<ellipse cx="721" cy="140.7" rx="3.3" ry="3.6" transform="rotate(0 721 140.7)" fill="#000" stroke="#000" stroke-width="1.1"/>
<ellipse cx="721.4" cy="140.4" rx="1.2" ry="1.3" transform="rotate(0 721.4 140.4)" fill="#fbfbfb" stroke="none" stroke-width="0"/>
<path d="M726,82.2 L738.7,86.6 L739.3,101.5 L726,94.8 Z" fill="#fbfbfb" stroke="#000" stroke-width="1.4"/>
<path d="M726,82.2 L745,76 L770,66.5 L786,59.5 L799.2,56.1" fill="none" stroke="#000" stroke-width="1.3" stroke-dasharray="16 2"/>
<path d="M738.7,86.6 L757,79 L772,71.5 L782,67" fill="none" stroke="#000" stroke-width="1.4"/>
<path d="M739.3,101.5 L750,94 L765,84 L778,76.5" fill="none" stroke="#000" stroke-width="1.0" stroke-dasharray="9 3"/>
<path d="M745,78 L760,72.5 L768,70.5" fill="none" stroke="#000" stroke-width="2.2"/>
<ellipse cx="806.5" cy="59.5" rx="7.5" ry="3.6" transform="rotate(-8 806.5 59.5)" fill="#fbfbfb" stroke="#000" stroke-width="1.2"/>
<ellipse cx="805.5" cy="59.8" rx="4" ry="1.8" transform="rotate(-8 805.5 59.8)" fill="none" stroke="#000" stroke-width="0.9"/>
<path d="M779.8,59.5 L786,60.5" fill="none" stroke="#000" stroke-width="1.4"/>
<path d="M705,82 L711,76.5 L722,73 L728,74.5" fill="none" stroke="#000" stroke-width="1.1" stroke-dasharray="6 2"/>
<path d="M703,83 L708,86.5 L712,85" fill="none" stroke="#000" stroke-width="1.8"/>
<path d="M743.7,65.4 L748,60 L757,56.5 L767.2,54" fill="none" stroke="#000" stroke-width="1.2" stroke-dasharray="8 2"/>
<path d="M745,66 L752,63.5 L760,62.5" fill="none" stroke="#000" stroke-width="1.6"/>
<path d="M765,52 L772,57 L779,59" fill="none" stroke="#000" stroke-width="1.3"/>
<path d="M708,90.6 L716,93.5 L726,94.8" fill="none" stroke="#000" stroke-width="1.4"/>
<path d="M700,96 L712,98 L724,96" fill="none" stroke="#000" stroke-width="2.6"/>
<text x="933.8" y="161" font-size="23.2" text-anchor="middle" fill="#000">9</text>
<text x="1055" y="248.8" font-size="23.2" text-anchor="middle" fill="#000">6</text>
<text x="976.5" y="319.6" font-size="23.2" text-anchor="middle" fill="#000">7</text>
<text x="1113" y="403.3" font-size="23.2" text-anchor="middle" fill="#000">8</text>
<text x="212.8" y="709" font-size="23.2" text-anchor="middle" fill="#000">2</text>
<text x="890.6" y="626" font-size="23.2" text-anchor="middle" fill="#000">5</text>
<text x="1021.2" y="705" font-size="23.2" text-anchor="middle" fill="#000">4</text>
<text x="959.4" y="775" font-size="23.2" text-anchor="middle" fill="#000">3</text>
<path d="M103.5,480 L101.7,480 L95.8,483.5 L95.8,485.7 L101,483 L101,496 L103.5,496 Z" fill="#000" stroke="none" stroke-width="0"/>
<path d="M194.7,390 L192.9,390 L187,393.5 L187,395.7 L192.2,393 L192.2,406 L194.7,406 Z" fill="#000" stroke="none" stroke-width="0"/>
<text x="204.6" y="406" font-size="23.2" text-anchor="middle" fill="#000">3</text>
<path d="M595,385 L593.2,385 L587.3,388.5 L587.3,390.7 L592.5,388 L592.5,401 L595,401 Z" fill="#000" stroke="none" stroke-width="0"/>
<text x="605.4" y="401" font-size="23.2" text-anchor="middle" fill="#000">4</text>
<path d="M351.4,499.5 L349.6,499.5 L343.7,503 L343.7,505.2 L348.9,502.5 L348.9,515.5 L351.4,515.5 Z" fill="#000" stroke="none" stroke-width="0"/>
<text x="362.3" y="515.5" font-size="23.2" text-anchor="middle" fill="#000">2</text>
<path d="M385.6,643.5 L383.9,643.5 L378,647 L378,649.2 L383.1,646.5 L383.1,659.5 L385.6,659.5 Z" fill="#000" stroke="none" stroke-width="0"/>
<text x="394.6" y="659.5" font-size="23.2" text-anchor="middle" fill="#000">0</text>
<path d="M415.6,754.7 L413.9,754.7 L408,758.2 L408,760.4 L413.1,757.7 L413.1,770.7 L415.6,770.7 Z" fill="#000" stroke="none" stroke-width="0"/>
<path d="M427.4,754.7 L425.6,754.7 L419.7,758.2 L419.7,760.4 L424.9,757.7 L424.9,770.7 L427.4,770.7 Z" fill="#000" stroke="none" stroke-width="0"/>
<rect x="1173.5" y="8" width="2.6" height="3" fill="#222"/>
<rect x="1177" y="6" width="3.5" height="2.5" fill="none" stroke="#444" stroke-width="0.8"/>
<circle cx="1184.4" cy="9.5" r="1.35" fill="#333"/>
<circle cx="1187.6" cy="9.5" r="1.35" fill="#333"/>
<circle cx="1190.8" cy="9.5" r="1.35" fill="#333"/>
</g>
<g class="wm" fill="none" stroke="#b2b3b2" stroke-width="2.6" stroke-linejoin="miter">
<path d="M211,291.6 L418.6,291.6 L448.7,269 L482.3,287.3 L500,271.2 L494,240.4 L544.3,220.2 L561,252 L585.5,253 L593,210.5 L650,210.8 L653.3,254.4 L676.7,254.4 L696.8,224.8 L750,243.6 L744.2,275.5 L758.8,287 L788,273.8 L813.3,291.6 L1071,291.6 C1098,291.6 1106,300 1098,320 L988,601 Q975,633 950,632.8 L815.9,632.8 L788,651 L757.2,638.6 L742.5,646 L748.8,679.6 L696.4,701.8 L675.5,670.4 L652.4,671.2 L648.2,714 L592.9,716.5 L585.4,672 L564.4,673.3 L545.5,704.8 L494,686 L499.4,654.5 L482.7,639.8 L449.2,656.6 L415.6,632.8 L98,632.8 Q55,633 66,604 L181,309 Q188,291.6 211,291.6 Z"/>
<ellipse cx="0" cy="0" rx="109" ry="96" transform="translate(285.5 462) skewX(-20.3)"/>
<ellipse cx="0" cy="0" rx="38" ry="38.5" transform="translate(284.5 462.5) skewX(-20.3)"/>
<path d="M446.9,372.4 L566,372.4 C602,372.4 609.5,400 594,440 C582,474 564,492.5 528,492.5 L477.8,492.5 L456.3,552 L382,552 Z"/>
<path d="M503.3,421.2 L523,421.2 C531,421.2 531,428 527,437 C523,446 518,449.5 509,449.5 L492.6,449.5 Z"/>
<path d="M643.3,372.4 L773.7,372.4 L753.5,425.3 L698.4,425.3 L693,440 L742.8,440 L726.7,484.4 L677,484.4 L670.2,500.5 L726,500.5 L709,552 L577.5,552 Z"  />
<path d="M788.5,372.4 L873,372.4 L876,406.5 L905.6,372.4 L987.3,372.4 L898.9,456 L929,552 L845,552 L838.5,507.5 L796.6,552 L732,552 L815.4,457.5 Z"  />
</g>
</svg>
</body></html>
